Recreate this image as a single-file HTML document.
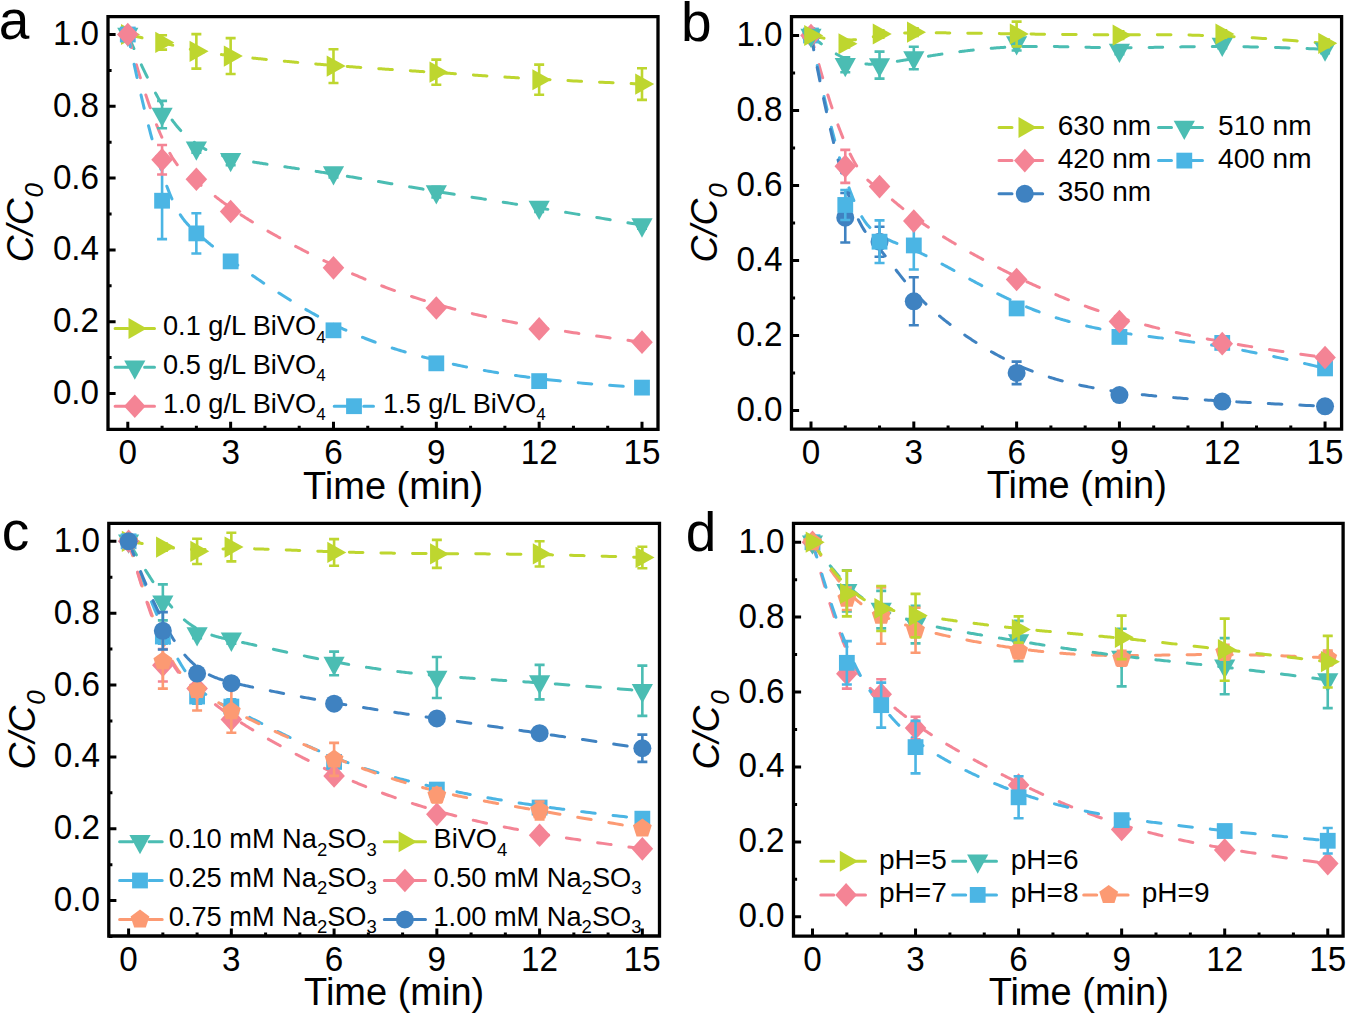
<!DOCTYPE html>
<html><head><meta charset="utf-8"><style>html,body{margin:0;padding:0;background:#fff;width:1347px;height:1014px;overflow:hidden}svg{display:block}</style></head>
<body><svg width="1347" height="1014" viewBox="0 0 1347 1014" font-family="&quot;Liberation Sans&quot;, sans-serif" fill="#000">
<rect width="1347" height="1014" fill="#fff"/>
<path d="M127.8,34.5 L129.08,34.8 L130.35,35.09 L131.59,35.38 L132.83,35.66 L134.05,35.94 L135.25,36.22 L136.44,36.5 L137.61,36.77 L138.76,37.04 L139.91,37.31 L141.04,37.58 L142.15,37.84 L143.25,38.1 L144.34,38.35 L145.41,38.61 L146.47,38.86 L147.51,39.1 L148.54,39.35 L149.56,39.59 L150.57,39.83 L151.56,40.06 L152.54,40.3 L153.51,40.53 L154.47,40.75 L155.41,40.98 L156.34,41.2 L157.26,41.42 L158.17,41.64 L159.07,41.85 L159.95,42.06 L160.83,42.27 L161.69,42.48 L162.54,42.69 L163.39,42.89 L164.22,43.09 L165.04,43.29 L165.85,43.48 L166.65,43.67 L167.45,43.86 L168.23,44.05 L169,44.24 L169.76,44.42 L170.52,44.6 L171.27,44.78 L172,44.96 L172.73,45.13 L173.45,45.3 L174.16,45.47 L174.87,45.64 L175.56,45.81 L176.25,45.97 L176.93,46.13 L177.6,46.29 L178.27,46.45 L178.93,46.61 L179.58,46.76 L180.23,46.91 L180.87,47.06 L181.5,47.21 L182.13,47.36 L182.75,47.5 L183.36,47.64 L183.97,47.79 L184.57,47.92 L185.17,48.06 L185.76,48.2 L186.35,48.33 L186.93,48.46 L187.51,48.59 L188.09,48.72 L188.65,48.85 L189.22,48.98 L189.78,49.1 L190.34,49.22 L190.89,49.35 L191.44,49.47 L191.99,49.58 L192.53,49.7 L193.07,49.82 L193.61,49.93 L194.15,50.04 L194.68,50.15 L195.21,50.26 L195.74,50.37 L196.26,50.48 L196.79,50.59 L197.31,50.69 L197.83,50.79 L198.35,50.9 L198.87,51 L199.39,51.1 L199.91,51.2 L200.42,51.3 L200.94,51.39 L201.45,51.49 L201.97,51.59 L202.48,51.68 L203,51.77 L203.52,51.87 L204.03,51.96 L204.55,52.05 L205.07,52.14 L205.59,52.23 L206.11,52.32 L206.63,52.41 L207.15,52.49 L207.68,52.58 L208.21,52.67 L208.74,52.75 L209.27,52.84 L209.8,52.92 L210.34,53 L210.88,53.09 L211.42,53.17 L211.96,53.25 L212.51,53.33 L213.06,53.42 L213.62,53.5 L214.18,53.58 L214.74,53.66 L215.31,53.74 L215.88,53.82 L216.45,53.9 L217.04,53.98 L217.62,54.06 L218.21,54.14 L218.81,54.22 L219.41,54.3 L220.01,54.38 L220.62,54.46 L221.24,54.54 L221.86,54.62 L222.49,54.7 L223.13,54.78 L223.77,54.86 L224.42,54.94 L225.07,55.02 L225.74,55.1 L226.41,55.18 L227.08,55.26 L227.77,55.34 L228.46,55.42 L229.16,55.5 L229.87,55.58 L230.58,55.67 L231.31,55.75 L232.04,55.83 L232.78,55.92 L233.53,56 L234.29,56.09 L235.06,56.17 L235.84,56.26 L236.62,56.35 L237.42,56.43 L238.23,56.52 L239.04,56.61 L239.87,56.7 L240.71,56.79 L241.55,56.88 L242.41,56.97 L243.28,57.07 L244.16,57.16 L245.05,57.26 L245.95,57.35 L246.86,57.45 L247.78,57.54 L248.71,57.64 L249.65,57.74 L250.6,57.84 L251.56,57.94 L252.53,58.04 L253.5,58.14 L254.49,58.24 L255.49,58.34 L256.49,58.45 L257.51,58.55 L258.53,58.65 L259.56,58.76 L260.6,58.86 L261.64,58.97 L262.7,59.07 L263.76,59.18 L264.83,59.29 L265.91,59.4 L266.99,59.5 L268.09,59.61 L269.19,59.72 L270.29,59.83 L271.41,59.94 L272.53,60.05 L273.66,60.16 L274.79,60.27 L275.93,60.38 L277.08,60.49 L278.23,60.6 L279.39,60.71 L280.55,60.82 L281.72,60.93 L282.9,61.04 L284.08,61.15 L285.27,61.26 L286.46,61.37 L287.65,61.49 L288.86,61.6 L290.06,61.71 L291.27,61.82 L292.49,61.93 L293.71,62.04 L294.93,62.16 L296.16,62.27 L297.4,62.38 L298.63,62.49 L299.87,62.6 L301.11,62.71 L302.36,62.82 L303.61,62.93 L304.87,63.05 L306.12,63.16 L307.38,63.27 L308.64,63.38 L309.91,63.49 L311.17,63.59 L312.44,63.7 L313.72,63.81 L314.99,63.92 L316.27,64.03 L317.54,64.14 L318.82,64.24 L320.1,64.35 L321.38,64.46 L322.67,64.56 L323.95,64.67 L325.24,64.77 L326.52,64.88 L327.81,64.98 L329.1,65.09 L330.39,65.19 L331.68,65.29 L332.96,65.39 L334.25,65.49 L335.54,65.6 L336.83,65.69 L338.12,65.79 L339.41,65.89 L340.7,65.99 L341.99,66.09 L343.28,66.19 L344.57,66.28 L345.87,66.38 L347.16,66.48 L348.46,66.57 L349.75,66.67 L351.05,66.76 L352.35,66.85 L353.65,66.95 L354.95,67.04 L356.25,67.14 L357.56,67.23 L358.87,67.32 L360.18,67.41 L361.49,67.51 L362.8,67.6 L364.12,67.69 L365.43,67.78 L366.75,67.87 L368.08,67.96 L369.4,68.05 L370.73,68.15 L372.06,68.24 L373.4,68.33 L374.74,68.42 L376.08,68.51 L377.42,68.6 L378.77,68.69 L380.12,68.78 L381.47,68.87 L382.83,68.96 L384.19,69.05 L385.56,69.14 L386.93,69.23 L388.3,69.32 L389.68,69.42 L391.07,69.51 L392.45,69.6 L393.84,69.69 L395.24,69.78 L396.64,69.87 L398.05,69.97 L399.46,70.06 L400.87,70.15 L402.3,70.24 L403.72,70.34 L405.15,70.43 L406.59,70.52 L408.03,70.62 L409.48,70.71 L410.93,70.81 L412.39,70.9 L413.86,71 L415.33,71.1 L416.81,71.19 L418.29,71.29 L419.78,71.39 L421.28,71.49 L422.78,71.59 L424.29,71.69 L425.81,71.79 L427.33,71.89 L428.86,71.99 L430.4,72.09 L431.94,72.19 L433.49,72.3 L435.05,72.4 L436.62,72.51 L438.19,72.61 L439.78,72.72 L441.37,72.82 L442.96,72.93 L444.57,73.04 L446.18,73.15 L447.8,73.26 L449.43,73.37 L451.07,73.48 L452.72,73.6 L454.39,73.71 L456.06,73.82 L457.74,73.94 L459.44,74.05 L461.14,74.17 L462.86,74.29 L464.6,74.41 L466.35,74.52 L468.11,74.64 L469.89,74.76 L471.68,74.89 L473.49,75.01 L475.32,75.13 L477.16,75.25 L479.02,75.38 L480.9,75.5 L482.8,75.63 L484.72,75.75 L486.65,75.88 L488.61,76.01 L490.59,76.14 L492.59,76.27 L494.6,76.4 L496.65,76.53 L498.71,76.66 L500.8,76.79 L502.91,76.92 L505.05,77.06 L507.21,77.19 L509.39,77.33 L511.6,77.46 L513.84,77.6 L516.11,77.74 L518.4,77.87 L520.72,78.01 L523.06,78.15 L525.44,78.29 L527.84,78.43 L530.28,78.57 L532.74,78.71 L535.24,78.85 L537.77,79 L540.33,79.14 L542.92,79.28 L545.54,79.43 L548.2,79.57 L550.89,79.72 L553.61,79.87 L556.37,80.01 L559.17,80.16 L562,80.31 L564.87,80.46 L567.77,80.61 L570.71,80.76 L573.69,80.91 L576.71,81.06 L579.77,81.21 L582.86,81.37 L586,81.52 L589.17,81.67 L592.39,81.83 L595.65,81.98 L598.95,82.14 L602.29,82.29 L605.68,82.45 L609.11,82.61 L612.58,82.76 L616.09,82.92 L619.66,83.08 L623.26,83.24 L626.92,83.4 L630.62,83.56 L634.36,83.72 L638.16,83.88 L642,84.04" fill="none" stroke="#BED62F" stroke-width="3" stroke-dasharray="13.6 18" stroke-linecap="round" stroke-dashoffset="-1.0"/>
<path d="M127.8,34.5 L129.08,37.48 L130.35,40.4 L131.59,43.26 L132.83,46.07 L134.05,48.82 L135.25,51.51 L136.44,54.15 L137.61,56.73 L138.76,59.26 L139.91,61.73 L141.04,64.15 L142.15,66.52 L143.25,68.84 L144.34,71.11 L145.41,73.32 L146.47,75.49 L147.51,77.61 L148.54,79.68 L149.56,81.7 L150.57,83.68 L151.56,85.61 L152.54,87.49 L153.51,89.33 L154.47,91.13 L155.41,92.88 L156.34,94.59 L157.26,96.26 L158.17,97.88 L159.07,99.47 L159.95,101.01 L160.83,102.52 L161.69,103.98 L162.54,105.41 L163.39,106.8 L164.22,108.16 L165.04,109.47 L165.85,110.76 L166.65,112 L167.45,113.22 L168.23,114.4 L169,115.54 L169.76,116.66 L170.52,117.74 L171.27,118.8 L172,119.82 L172.73,120.81 L173.45,121.78 L174.16,122.71 L174.87,123.62 L175.56,124.51 L176.25,125.36 L176.93,126.19 L177.6,127 L178.27,127.78 L178.93,128.54 L179.58,129.28 L180.23,129.99 L180.87,130.68 L181.5,131.35 L182.13,132.01 L182.75,132.64 L183.36,133.25 L183.97,133.85 L184.57,134.43 L185.17,134.99 L185.76,135.53 L186.35,136.06 L186.93,136.58 L187.51,137.08 L188.09,137.57 L188.65,138.04 L189.22,138.51 L189.78,138.96 L190.34,139.4 L190.89,139.83 L191.44,140.25 L191.99,140.67 L192.53,141.07 L193.07,141.47 L193.61,141.86 L194.15,142.24 L194.68,142.62 L195.21,143 L195.74,143.36 L196.26,143.72 L196.79,144.08 L197.31,144.43 L197.83,144.77 L198.35,145.11 L198.87,145.44 L199.39,145.77 L199.91,146.1 L200.42,146.41 L200.94,146.73 L201.45,147.03 L201.97,147.34 L202.48,147.63 L203,147.93 L203.52,148.22 L204.03,148.5 L204.55,148.78 L205.07,149.05 L205.59,149.32 L206.11,149.59 L206.63,149.85 L207.15,150.11 L207.68,150.36 L208.21,150.61 L208.74,150.86 L209.27,151.1 L209.8,151.34 L210.34,151.57 L210.88,151.81 L211.42,152.03 L211.96,152.26 L212.51,152.48 L213.06,152.7 L213.62,152.91 L214.18,153.12 L214.74,153.33 L215.31,153.54 L215.88,153.74 L216.45,153.94 L217.04,154.14 L217.62,154.33 L218.21,154.53 L218.81,154.72 L219.41,154.9 L220.01,155.09 L220.62,155.27 L221.24,155.45 L221.86,155.63 L222.49,155.81 L223.13,155.98 L223.77,156.16 L224.42,156.33 L225.07,156.5 L225.74,156.67 L226.41,156.84 L227.08,157 L227.77,157.17 L228.46,157.33 L229.16,157.49 L229.87,157.65 L230.58,157.81 L231.31,157.97 L232.04,158.13 L232.78,158.29 L233.53,158.44 L234.29,158.6 L235.06,158.76 L235.84,158.91 L236.62,159.07 L237.42,159.22 L238.23,159.38 L239.04,159.53 L239.87,159.69 L240.71,159.84 L241.55,160 L242.41,160.15 L243.28,160.31 L244.16,160.46 L245.05,160.62 L245.95,160.78 L246.86,160.93 L247.78,161.09 L248.71,161.25 L249.65,161.4 L250.6,161.56 L251.56,161.72 L252.53,161.88 L253.5,162.04 L254.49,162.2 L255.49,162.36 L256.49,162.52 L257.51,162.68 L258.53,162.84 L259.56,163 L260.6,163.16 L261.64,163.33 L262.7,163.49 L263.76,163.65 L264.83,163.82 L265.91,163.98 L266.99,164.14 L268.09,164.31 L269.19,164.48 L270.29,164.64 L271.41,164.81 L272.53,164.98 L273.66,165.14 L274.79,165.31 L275.93,165.48 L277.08,165.65 L278.23,165.82 L279.39,165.99 L280.55,166.16 L281.72,166.33 L282.9,166.5 L284.08,166.68 L285.27,166.85 L286.46,167.02 L287.65,167.2 L288.86,167.37 L290.06,167.55 L291.27,167.72 L292.49,167.9 L293.71,168.08 L294.93,168.26 L296.16,168.44 L297.4,168.62 L298.63,168.8 L299.87,168.98 L301.11,169.16 L302.36,169.34 L303.61,169.52 L304.87,169.71 L306.12,169.89 L307.38,170.08 L308.64,170.26 L309.91,170.45 L311.17,170.64 L312.44,170.83 L313.72,171.02 L314.99,171.21 L316.27,171.4 L317.54,171.59 L318.82,171.78 L320.1,171.97 L321.38,172.17 L322.67,172.36 L323.95,172.56 L325.24,172.75 L326.52,172.95 L327.81,173.15 L329.1,173.35 L330.39,173.55 L331.68,173.75 L332.96,173.95 L334.25,174.15 L335.54,174.36 L336.83,174.56 L338.12,174.77 L339.41,174.97 L340.7,175.18 L341.99,175.39 L343.28,175.6 L344.57,175.81 L345.87,176.02 L347.16,176.23 L348.46,176.44 L349.75,176.65 L351.05,176.87 L352.35,177.08 L353.65,177.3 L354.95,177.51 L356.25,177.73 L357.56,177.95 L358.87,178.17 L360.18,178.39 L361.49,178.61 L362.8,178.83 L364.12,179.05 L365.43,179.28 L366.75,179.5 L368.08,179.73 L369.4,179.95 L370.73,180.18 L372.06,180.41 L373.4,180.63 L374.74,180.86 L376.08,181.09 L377.42,181.32 L378.77,181.55 L380.12,181.79 L381.47,182.02 L382.83,182.25 L384.19,182.49 L385.56,182.72 L386.93,182.96 L388.3,183.2 L389.68,183.43 L391.07,183.67 L392.45,183.91 L393.84,184.15 L395.24,184.39 L396.64,184.63 L398.05,184.87 L399.46,185.12 L400.87,185.36 L402.3,185.61 L403.72,185.85 L405.15,186.1 L406.59,186.34 L408.03,186.59 L409.48,186.84 L410.93,187.09 L412.39,187.34 L413.86,187.59 L415.33,187.84 L416.81,188.09 L418.29,188.34 L419.78,188.59 L421.28,188.85 L422.78,189.1 L424.29,189.36 L425.81,189.61 L427.33,189.87 L428.86,190.13 L430.4,190.39 L431.94,190.64 L433.49,190.9 L435.05,191.16 L436.62,191.42 L438.19,191.68 L439.78,191.95 L441.37,192.21 L442.96,192.47 L444.57,192.74 L446.18,193 L447.8,193.27 L449.43,193.53 L451.07,193.8 L452.72,194.07 L454.39,194.34 L456.06,194.61 L457.74,194.88 L459.44,195.15 L461.14,195.43 L462.86,195.7 L464.6,195.98 L466.35,196.26 L468.11,196.55 L469.89,196.83 L471.68,197.12 L473.49,197.41 L475.32,197.7 L477.16,197.99 L479.02,198.29 L480.9,198.59 L482.8,198.89 L484.72,199.2 L486.65,199.51 L488.61,199.82 L490.59,200.13 L492.59,200.45 L494.6,200.78 L496.65,201.1 L498.71,201.43 L500.8,201.77 L502.91,202.1 L505.05,202.44 L507.21,202.79 L509.39,203.14 L511.6,203.5 L513.84,203.86 L516.11,204.22 L518.4,204.59 L520.72,204.96 L523.06,205.34 L525.44,205.72 L527.84,206.11 L530.28,206.51 L532.74,206.91 L535.24,207.31 L537.77,207.72 L540.33,208.14 L542.92,208.56 L545.54,208.99 L548.2,209.42 L550.89,209.86 L553.61,210.31 L556.37,210.76 L559.17,211.22 L562,211.69 L564.87,212.16 L567.77,212.64 L570.71,213.13 L573.69,213.62 L576.71,214.12 L579.77,214.63 L582.86,215.14 L586,215.66 L589.17,216.19 L592.39,216.73 L595.65,217.28 L598.95,217.83 L602.29,218.39 L605.68,218.96 L609.11,219.54 L612.58,220.13 L616.09,220.72 L619.66,221.32 L623.26,221.94 L626.92,222.56 L630.62,223.19 L634.36,223.82 L638.16,224.47 L642,225.13" fill="none" stroke="#4BBDB3" stroke-width="3" stroke-dasharray="13.6 18" stroke-linecap="round" stroke-dashoffset="-1.7"/>
<path d="M127.8,34.5 L129.08,39.16 L130.35,43.7 L131.59,48.15 L132.83,52.48 L134.05,56.72 L135.25,60.85 L136.44,64.88 L137.61,68.81 L138.76,72.65 L139.91,76.38 L141.04,80.03 L142.15,83.58 L143.25,87.03 L144.34,90.4 L145.41,93.67 L146.47,96.86 L147.51,99.96 L148.54,102.97 L149.56,105.9 L150.57,108.75 L151.56,111.51 L152.54,114.2 L153.51,116.81 L154.47,119.34 L155.41,121.79 L156.34,124.17 L157.26,126.47 L158.17,128.71 L159.07,130.87 L159.95,132.96 L160.83,134.99 L161.69,136.95 L162.54,138.84 L163.39,140.67 L164.22,142.44 L165.04,144.15 L165.85,145.8 L166.65,147.39 L167.45,148.92 L168.23,150.4 L169,151.82 L169.76,153.2 L170.52,154.51 L171.27,155.78 L172,157.01 L172.73,158.18 L173.45,159.31 L174.16,160.39 L174.87,161.43 L175.56,162.43 L176.25,163.39 L176.93,164.31 L177.6,165.19 L178.27,166.04 L178.93,166.85 L179.58,167.62 L180.23,168.37 L180.87,169.08 L181.5,169.77 L182.13,170.43 L182.75,171.06 L183.36,171.66 L183.97,172.24 L184.57,172.8 L185.17,173.34 L185.76,173.86 L186.35,174.35 L186.93,174.84 L187.51,175.3 L188.09,175.76 L188.65,176.19 L189.22,176.62 L189.78,177.04 L190.34,177.45 L190.89,177.85 L191.44,178.24 L191.99,178.64 L192.53,179.02 L193.07,179.41 L193.61,179.79 L194.15,180.18 L194.68,180.56 L195.21,180.95 L195.74,181.34 L196.26,181.72 L196.79,182.11 L197.31,182.5 L197.83,182.89 L198.35,183.28 L198.87,183.67 L199.39,184.06 L199.91,184.46 L200.42,184.85 L200.94,185.25 L201.45,185.64 L201.97,186.04 L202.48,186.44 L203,186.84 L203.52,187.24 L204.03,187.65 L204.55,188.05 L205.07,188.45 L205.59,188.86 L206.11,189.27 L206.63,189.68 L207.15,190.09 L207.68,190.5 L208.21,190.92 L208.74,191.33 L209.27,191.75 L209.8,192.17 L210.34,192.59 L210.88,193.02 L211.42,193.44 L211.96,193.87 L212.51,194.3 L213.06,194.73 L213.62,195.16 L214.18,195.59 L214.74,196.03 L215.31,196.47 L215.88,196.91 L216.45,197.36 L217.04,197.8 L217.62,198.25 L218.21,198.7 L218.81,199.15 L219.41,199.61 L220.01,200.07 L220.62,200.53 L221.24,200.99 L221.86,201.46 L222.49,201.92 L223.13,202.4 L223.77,202.87 L224.42,203.35 L225.07,203.83 L225.74,204.31 L226.41,204.79 L227.08,205.28 L227.77,205.77 L228.46,206.27 L229.16,206.76 L229.87,207.26 L230.58,207.77 L231.31,208.27 L232.04,208.78 L232.78,209.29 L233.53,209.81 L234.29,210.33 L235.06,210.85 L235.84,211.38 L236.62,211.91 L237.42,212.44 L238.23,212.98 L239.04,213.52 L239.87,214.06 L240.71,214.61 L241.55,215.16 L242.41,215.72 L243.28,216.28 L244.16,216.84 L245.05,217.41 L245.95,217.98 L246.86,218.55 L247.78,219.13 L248.71,219.71 L249.65,220.29 L250.6,220.87 L251.56,221.46 L252.53,222.06 L253.5,222.65 L254.49,223.25 L255.49,223.85 L256.49,224.45 L257.51,225.06 L258.53,225.67 L259.56,226.28 L260.6,226.89 L261.64,227.5 L262.7,228.12 L263.76,228.74 L264.83,229.36 L265.91,229.99 L266.99,230.61 L268.09,231.24 L269.19,231.87 L270.29,232.5 L271.41,233.13 L272.53,233.76 L273.66,234.4 L274.79,235.03 L275.93,235.67 L277.08,236.31 L278.23,236.95 L279.39,237.59 L280.55,238.23 L281.72,238.87 L282.9,239.51 L284.08,240.15 L285.27,240.8 L286.46,241.44 L287.65,242.09 L288.86,242.73 L290.06,243.38 L291.27,244.02 L292.49,244.67 L293.71,245.32 L294.93,245.96 L296.16,246.61 L297.4,247.25 L298.63,247.9 L299.87,248.54 L301.11,249.19 L302.36,249.83 L303.61,250.47 L304.87,251.12 L306.12,251.76 L307.38,252.4 L308.64,253.04 L309.91,253.68 L311.17,254.31 L312.44,254.95 L313.72,255.59 L314.99,256.22 L316.27,256.85 L317.54,257.48 L318.82,258.11 L320.1,258.74 L321.38,259.37 L322.67,259.99 L323.95,260.62 L325.24,261.24 L326.52,261.86 L327.81,262.47 L329.1,263.09 L330.39,263.7 L331.68,264.31 L332.96,264.92 L334.25,265.52 L335.54,266.12 L336.83,266.72 L338.12,267.32 L339.41,267.91 L340.7,268.51 L341.99,269.1 L343.28,269.68 L344.57,270.27 L345.87,270.85 L347.16,271.43 L348.46,272.01 L349.75,272.58 L351.05,273.16 L352.35,273.73 L353.65,274.3 L354.95,274.86 L356.25,275.43 L357.56,275.99 L358.87,276.55 L360.18,277.1 L361.49,277.66 L362.8,278.21 L364.12,278.76 L365.43,279.31 L366.75,279.86 L368.08,280.4 L369.4,280.94 L370.73,281.48 L372.06,282.02 L373.4,282.55 L374.74,283.09 L376.08,283.62 L377.42,284.15 L378.77,284.67 L380.12,285.2 L381.47,285.72 L382.83,286.24 L384.19,286.76 L385.56,287.28 L386.93,287.79 L388.3,288.3 L389.68,288.81 L391.07,289.32 L392.45,289.83 L393.84,290.33 L395.24,290.84 L396.64,291.34 L398.05,291.84 L399.46,292.34 L400.87,292.83 L402.3,293.33 L403.72,293.82 L405.15,294.31 L406.59,294.8 L408.03,295.28 L409.48,295.77 L410.93,296.25 L412.39,296.73 L413.86,297.21 L415.33,297.69 L416.81,298.17 L418.29,298.64 L419.78,299.12 L421.28,299.59 L422.78,300.06 L424.29,300.53 L425.81,300.99 L427.33,301.46 L428.86,301.92 L430.4,302.38 L431.94,302.84 L433.49,303.3 L435.05,303.76 L436.62,304.22 L438.19,304.67 L439.78,305.12 L441.37,305.57 L442.96,306.02 L444.57,306.47 L446.18,306.92 L447.8,307.37 L449.43,307.81 L451.07,308.25 L452.72,308.7 L454.39,309.14 L456.06,309.58 L457.74,310.01 L459.44,310.45 L461.14,310.89 L462.86,311.33 L464.6,311.76 L466.35,312.19 L468.11,312.63 L469.89,313.06 L471.68,313.49 L473.49,313.92 L475.32,314.36 L477.16,314.79 L479.02,315.22 L480.9,315.65 L482.8,316.07 L484.72,316.5 L486.65,316.93 L488.61,317.36 L490.59,317.79 L492.59,318.22 L494.6,318.65 L496.65,319.07 L498.71,319.5 L500.8,319.93 L502.91,320.36 L505.05,320.79 L507.21,321.22 L509.39,321.65 L511.6,322.08 L513.84,322.51 L516.11,322.94 L518.4,323.37 L520.72,323.8 L523.06,324.24 L525.44,324.67 L527.84,325.1 L530.28,325.54 L532.74,325.97 L535.24,326.41 L537.77,326.85 L540.33,327.29 L542.92,327.73 L545.54,328.17 L548.2,328.61 L550.89,329.05 L553.61,329.5 L556.37,329.94 L559.17,330.39 L562,330.84 L564.87,331.29 L567.77,331.74 L570.71,332.19 L573.69,332.65 L576.71,333.1 L579.77,333.56 L582.86,334.02 L586,334.48 L589.17,334.95 L592.39,335.41 L595.65,335.88 L598.95,336.35 L602.29,336.82 L605.68,337.3 L609.11,337.77 L612.58,338.25 L616.09,338.73 L619.66,339.21 L623.26,339.7 L626.92,340.19 L630.62,340.68 L634.36,341.17 L638.16,341.66 L642,342.16" fill="none" stroke="#F48495" stroke-width="3" stroke-dasharray="13.6 18" stroke-linecap="round" stroke-dashoffset="0.1"/>
<path d="M127.8,34.5 L129.08,40.68 L130.35,46.72 L131.59,52.62 L132.83,58.38 L134.05,64.01 L135.25,69.51 L136.44,74.88 L137.61,80.12 L138.76,85.23 L139.91,90.21 L141.04,95.08 L142.15,99.82 L143.25,104.43 L144.34,108.93 L145.41,113.32 L146.47,117.58 L147.51,121.74 L148.54,125.78 L149.56,129.71 L150.57,133.54 L151.56,137.25 L152.54,140.86 L153.51,144.37 L154.47,147.78 L155.41,151.09 L156.34,154.3 L157.26,157.41 L158.17,160.43 L159.07,163.36 L159.95,166.19 L160.83,168.94 L161.69,171.59 L162.54,174.17 L163.39,176.65 L164.22,179.06 L165.04,181.38 L165.85,183.63 L166.65,185.8 L167.45,187.89 L168.23,189.91 L169,191.86 L169.76,193.73 L170.52,195.54 L171.27,197.28 L172,198.96 L172.73,200.57 L173.45,202.12 L174.16,203.61 L174.87,205.04 L175.56,206.42 L176.25,207.74 L176.93,209.01 L177.6,210.23 L178.27,211.39 L178.93,212.51 L179.58,213.59 L180.23,214.61 L180.87,215.6 L181.5,216.54 L182.13,217.45 L182.75,218.32 L183.36,219.15 L183.97,219.95 L184.57,220.71 L185.17,221.45 L185.76,222.16 L186.35,222.84 L186.93,223.49 L187.51,224.12 L188.09,224.73 L188.65,225.32 L189.22,225.89 L189.78,226.44 L190.34,226.98 L190.89,227.5 L191.44,228.01 L191.99,228.52 L192.53,229.01 L193.07,229.5 L193.61,229.98 L194.15,230.46 L194.68,230.94 L195.21,231.41 L195.74,231.88 L196.26,232.35 L196.79,232.82 L197.31,233.28 L197.83,233.74 L198.35,234.2 L198.87,234.66 L199.39,235.11 L199.91,235.56 L200.42,236.01 L200.94,236.46 L201.45,236.91 L201.97,237.36 L202.48,237.8 L203,238.24 L203.52,238.69 L204.03,239.13 L204.55,239.57 L205.07,240.01 L205.59,240.45 L206.11,240.88 L206.63,241.32 L207.15,241.76 L207.68,242.2 L208.21,242.64 L208.74,243.07 L209.27,243.51 L209.8,243.95 L210.34,244.39 L210.88,244.83 L211.42,245.27 L211.96,245.71 L212.51,246.15 L213.06,246.6 L213.62,247.04 L214.18,247.49 L214.74,247.94 L215.31,248.39 L215.88,248.84 L216.45,249.29 L217.04,249.74 L217.62,250.2 L218.21,250.66 L218.81,251.12 L219.41,251.59 L220.01,252.05 L220.62,252.52 L221.24,252.99 L221.86,253.47 L222.49,253.95 L223.13,254.43 L223.77,254.91 L224.42,255.4 L225.07,255.89 L225.74,256.39 L226.41,256.88 L227.08,257.39 L227.77,257.89 L228.46,258.4 L229.16,258.92 L229.87,259.44 L230.58,259.96 L231.31,260.49 L232.04,261.03 L232.78,261.56 L233.53,262.11 L234.29,262.66 L235.06,263.21 L235.84,263.77 L236.62,264.33 L237.42,264.91 L238.23,265.48 L239.04,266.06 L239.87,266.65 L240.71,267.25 L241.55,267.85 L242.41,268.45 L243.28,269.07 L244.16,269.68 L245.05,270.31 L245.95,270.94 L246.86,271.58 L247.78,272.22 L248.71,272.87 L249.65,273.52 L250.6,274.18 L251.56,274.84 L252.53,275.51 L253.5,276.19 L254.49,276.86 L255.49,277.55 L256.49,278.23 L257.51,278.92 L258.53,279.62 L259.56,280.31 L260.6,281.02 L261.64,281.72 L262.7,282.43 L263.76,283.14 L264.83,283.86 L265.91,284.57 L266.99,285.3 L268.09,286.02 L269.19,286.74 L270.29,287.47 L271.41,288.2 L272.53,288.93 L273.66,289.67 L274.79,290.4 L275.93,291.14 L277.08,291.88 L278.23,292.62 L279.39,293.36 L280.55,294.1 L281.72,294.84 L282.9,295.59 L284.08,296.33 L285.27,297.07 L286.46,297.82 L287.65,298.56 L288.86,299.3 L290.06,300.05 L291.27,300.79 L292.49,301.53 L293.71,302.27 L294.93,303.02 L296.16,303.76 L297.4,304.49 L298.63,305.23 L299.87,305.97 L301.11,306.7 L302.36,307.43 L303.61,308.16 L304.87,308.89 L306.12,309.62 L307.38,310.34 L308.64,311.06 L309.91,311.78 L311.17,312.5 L312.44,313.21 L313.72,313.92 L314.99,314.62 L316.27,315.33 L317.54,316.03 L318.82,316.72 L320.1,317.41 L321.38,318.1 L322.67,318.78 L323.95,319.46 L325.24,320.14 L326.52,320.8 L327.81,321.47 L329.1,322.13 L330.39,322.78 L331.68,323.43 L332.96,324.08 L334.25,324.71 L335.54,325.35 L336.83,325.97 L338.12,326.6 L339.41,327.21 L340.7,327.82 L341.99,328.43 L343.28,329.03 L344.57,329.62 L345.87,330.21 L347.16,330.8 L348.46,331.38 L349.75,331.95 L351.05,332.52 L352.35,333.09 L353.65,333.65 L354.95,334.2 L356.25,334.76 L357.56,335.3 L358.87,335.84 L360.18,336.38 L361.49,336.91 L362.8,337.44 L364.12,337.97 L365.43,338.49 L366.75,339 L368.08,339.51 L369.4,340.02 L370.73,340.52 L372.06,341.02 L373.4,341.52 L374.74,342.01 L376.08,342.5 L377.42,342.98 L378.77,343.46 L380.12,343.94 L381.47,344.41 L382.83,344.88 L384.19,345.35 L385.56,345.81 L386.93,346.27 L388.3,346.73 L389.68,347.18 L391.07,347.63 L392.45,348.08 L393.84,348.52 L395.24,348.96 L396.64,349.4 L398.05,349.83 L399.46,350.27 L400.87,350.69 L402.3,351.12 L403.72,351.55 L405.15,351.97 L406.59,352.39 L408.03,352.8 L409.48,353.22 L410.93,353.63 L412.39,354.04 L413.86,354.44 L415.33,354.85 L416.81,355.25 L418.29,355.65 L419.78,356.05 L421.28,356.45 L422.78,356.84 L424.29,357.24 L425.81,357.63 L427.33,358.02 L428.86,358.41 L430.4,358.79 L431.94,359.18 L433.49,359.56 L435.05,359.94 L436.62,360.32 L438.19,360.7 L439.78,361.08 L441.37,361.46 L442.96,361.83 L444.57,362.21 L446.18,362.58 L447.8,362.95 L449.43,363.33 L451.07,363.7 L452.72,364.07 L454.39,364.43 L456.06,364.8 L457.74,365.17 L459.44,365.53 L461.14,365.9 L462.86,366.26 L464.6,366.62 L466.35,366.98 L468.11,367.34 L469.89,367.7 L471.68,368.06 L473.49,368.41 L475.32,368.77 L477.16,369.12 L479.02,369.47 L480.9,369.82 L482.8,370.17 L484.72,370.52 L486.65,370.86 L488.61,371.21 L490.59,371.55 L492.59,371.89 L494.6,372.24 L496.65,372.57 L498.71,372.91 L500.8,373.25 L502.91,373.58 L505.05,373.92 L507.21,374.25 L509.39,374.58 L511.6,374.91 L513.84,375.24 L516.11,375.56 L518.4,375.89 L520.72,376.21 L523.06,376.53 L525.44,376.85 L527.84,377.17 L530.28,377.48 L532.74,377.8 L535.24,378.11 L537.77,378.42 L540.33,378.73 L542.92,379.04 L545.54,379.34 L548.2,379.65 L550.89,379.95 L553.61,380.25 L556.37,380.55 L559.17,380.84 L562,381.14 L564.87,381.43 L567.77,381.72 L570.71,382.01 L573.69,382.3 L576.71,382.58 L579.77,382.87 L582.86,383.15 L586,383.43 L589.17,383.7 L592.39,383.98 L595.65,384.25 L598.95,384.52 L602.29,384.79 L605.68,385.06 L609.11,385.32 L612.58,385.59 L616.09,385.85 L619.66,386.11 L623.26,386.36 L626.92,386.62 L630.62,386.87 L634.36,387.12 L638.16,387.37 L642,387.61" fill="none" stroke="#4BB5E4" stroke-width="3" stroke-dasharray="13.6 18" stroke-linecap="round" stroke-dashoffset="1.2"/>
<polygon points="140,34.5 121,23.9 121,45.1" fill="#BED62F"/>
<path d="M162.08,35.22 V49.58 M157.08,35.22 H167.08 M157.08,49.58 H167.08" stroke="#BED62F" stroke-width="2.6" fill="none"/>
<polygon points="174.28,42.4 155.28,31.8 155.28,53" fill="#BED62F"/>
<path d="M196.36,34.14 V68.6 M191.36,34.14 H201.36 M191.36,68.6 H201.36" stroke="#BED62F" stroke-width="2.6" fill="none"/>
<polygon points="208.56,51.37 189.56,40.77 189.56,61.97" fill="#BED62F"/>
<path d="M230.64,38.09 V73.99 M225.64,38.09 H235.64 M225.64,73.99 H235.64" stroke="#BED62F" stroke-width="2.6" fill="none"/>
<polygon points="242.84,56.04 223.84,45.44 223.84,66.64" fill="#BED62F"/>
<path d="M333.48,49.22 V82.96 M328.48,49.22 H338.48 M328.48,82.96 H338.48" stroke="#BED62F" stroke-width="2.6" fill="none"/>
<polygon points="345.68,66.09 326.68,55.49 326.68,76.69" fill="#BED62F"/>
<path d="M436.32,59.63 V84.76 M431.32,59.63 H441.32 M431.32,84.76 H441.32" stroke="#BED62F" stroke-width="2.6" fill="none"/>
<polygon points="448.52,72.19 429.52,61.59 429.52,82.79" fill="#BED62F"/>
<path d="M539.16,64.66 V94.81 M534.16,64.66 H544.16 M534.16,94.81 H544.16" stroke="#BED62F" stroke-width="2.6" fill="none"/>
<polygon points="551.36,79.73 532.36,69.13 532.36,90.33" fill="#BED62F"/>
<path d="M642,68.25 V99.84 M637,68.25 H647 M637,99.84 H647" stroke="#BED62F" stroke-width="2.6" fill="none"/>
<polygon points="654.2,84.04 635.2,73.44 635.2,94.64" fill="#BED62F"/>
<polygon points="127.8,47 117.2,27.7 138.4,27.7" fill="#4BBDB3"/>
<path d="M162.08,100.92 V128.2 M157.08,100.92 H167.08 M157.08,128.2 H167.08" stroke="#4BBDB3" stroke-width="2.6" fill="none"/>
<polygon points="162.08,127.06 151.48,107.76 172.68,107.76" fill="#4BBDB3"/>
<path d="M196.36,143.99 V152.61 M191.36,143.99 H201.36 M191.36,152.61 H201.36" stroke="#4BBDB3" stroke-width="2.6" fill="none"/>
<polygon points="196.36,160.8 185.76,141.5 206.96,141.5" fill="#4BBDB3"/>
<path d="M230.64,154.41 V165.18 M225.64,154.41 H235.64 M225.64,165.18 H235.64" stroke="#4BBDB3" stroke-width="2.6" fill="none"/>
<polygon points="230.64,172.29 220.04,152.99 241.24,152.99" fill="#4BBDB3"/>
<path d="M333.48,168.77 V177.38 M328.48,168.77 H338.48 M328.48,177.38 H338.48" stroke="#4BBDB3" stroke-width="2.6" fill="none"/>
<polygon points="333.48,185.57 322.88,166.27 344.08,166.27" fill="#4BBDB3"/>
<path d="M436.32,186.72 V197.49 M431.32,186.72 H441.32 M431.32,197.49 H441.32" stroke="#4BBDB3" stroke-width="2.6" fill="none"/>
<polygon points="436.32,204.6 425.72,185.3 446.92,185.3" fill="#4BBDB3"/>
<path d="M539.16,203.23 V211.85 M534.16,203.23 H544.16 M534.16,211.85 H544.16" stroke="#4BBDB3" stroke-width="2.6" fill="none"/>
<polygon points="539.16,220.04 528.56,200.74 549.76,200.74" fill="#4BBDB3"/>
<path d="M642,221.54 V228.72 M637,221.54 H647 M637,228.72 H647" stroke="#4BBDB3" stroke-width="2.6" fill="none"/>
<polygon points="642,237.63 631.4,218.33 652.6,218.33" fill="#4BBDB3"/>
<rect x="119.9" y="26.6" width="15.8" height="15.8" fill="#4BB5E4"/>
<path d="M162.08,162.3 V239.13 M157.08,162.3 H167.08 M157.08,239.13 H167.08" stroke="#4BB5E4" stroke-width="2.6" fill="none"/>
<rect x="154.18" y="192.82" width="15.8" height="15.8" fill="#4BB5E4"/>
<path d="M196.36,213.28 V253.49 M191.36,213.28 H201.36 M191.36,253.49 H201.36" stroke="#4BB5E4" stroke-width="2.6" fill="none"/>
<rect x="188.46" y="225.49" width="15.8" height="15.8" fill="#4BB5E4"/>
<path d="M230.64,257.8 V264.98 M225.64,257.8 H235.64 M225.64,264.98 H235.64" stroke="#4BB5E4" stroke-width="2.6" fill="none"/>
<rect x="222.74" y="253.49" width="15.8" height="15.8" fill="#4BB5E4"/>
<path d="M333.48,326.73 V333.91 M328.48,326.73 H338.48 M328.48,333.91 H338.48" stroke="#4BB5E4" stroke-width="2.6" fill="none"/>
<rect x="325.58" y="322.42" width="15.8" height="15.8" fill="#4BB5E4"/>
<path d="M436.32,359.75 V366.93 M431.32,359.75 H441.32 M431.32,366.93 H441.32" stroke="#4BB5E4" stroke-width="2.6" fill="none"/>
<rect x="428.42" y="355.44" width="15.8" height="15.8" fill="#4BB5E4"/>
<path d="M539.16,377.52 V384.7 M534.16,377.52 H544.16 M534.16,384.7 H544.16" stroke="#4BB5E4" stroke-width="2.6" fill="none"/>
<rect x="531.26" y="373.21" width="15.8" height="15.8" fill="#4BB5E4"/>
<path d="M642,384.02 V391.2 M637,384.02 H647 M637,391.2 H647" stroke="#4BB5E4" stroke-width="2.6" fill="none"/>
<rect x="634.1" y="379.71" width="15.8" height="15.8" fill="#4BB5E4"/>
<polygon points="127.8,22.7 138.6,34.5 127.8,46.3 117,34.5" fill="#F48495"/>
<path d="M162.08,145.07 V174.51 M157.08,145.07 H167.08 M157.08,174.51 H167.08" stroke="#F48495" stroke-width="2.6" fill="none"/>
<polygon points="162.08,147.99 172.88,159.79 162.08,171.59 151.28,159.79" fill="#F48495"/>
<path d="M196.36,175.59 V182.77 M191.36,175.59 H201.36 M191.36,182.77 H201.36" stroke="#F48495" stroke-width="2.6" fill="none"/>
<polygon points="196.36,167.38 207.16,179.18 196.36,190.98 185.56,179.18" fill="#F48495"/>
<path d="M230.64,207.9 V215.08 M225.64,207.9 H235.64 M225.64,215.08 H235.64" stroke="#F48495" stroke-width="2.6" fill="none"/>
<polygon points="230.64,199.69 241.44,211.49 230.64,223.29 219.84,211.49" fill="#F48495"/>
<path d="M333.48,264.26 V271.44 M328.48,264.26 H338.48 M328.48,271.44 H338.48" stroke="#F48495" stroke-width="2.6" fill="none"/>
<polygon points="333.48,256.05 344.28,267.85 333.48,279.65 322.68,267.85" fill="#F48495"/>
<path d="M436.32,304.47 V311.65 M431.32,304.47 H441.32 M431.32,311.65 H441.32" stroke="#F48495" stroke-width="2.6" fill="none"/>
<polygon points="436.32,296.26 447.12,308.06 436.32,319.86 425.52,308.06" fill="#F48495"/>
<path d="M539.16,325.29 V332.47 M534.16,325.29 H544.16 M534.16,332.47 H544.16" stroke="#F48495" stroke-width="2.6" fill="none"/>
<polygon points="539.16,317.08 549.96,328.88 539.16,340.68 528.36,328.88" fill="#F48495"/>
<path d="M642,338.57 V345.75 M637,338.57 H647 M637,345.75 H647" stroke="#F48495" stroke-width="2.6" fill="none"/>
<polygon points="642,330.36 652.8,342.16 642,353.96 631.2,342.16" fill="#F48495"/>
<path d="M108,16.6 H658 V429.3 H108 Z" fill="none" stroke="#000" stroke-width="3.3" stroke-linejoin="miter"/>
<path d="M127.8,429.3 V421.7 M162.08,429.3 V425.7 M196.36,429.3 V425.7 M230.64,429.3 V421.7 M264.92,429.3 V425.7 M299.2,429.3 V425.7 M333.48,429.3 V421.7 M367.76,429.3 V425.7 M402.04,429.3 V425.7 M436.32,429.3 V421.7 M470.6,429.3 V425.7 M504.88,429.3 V425.7 M539.16,429.3 V421.7 M573.44,429.3 V425.7 M607.72,429.3 V425.7 M642,429.3 V421.7 M108,429.4 H111.6 M108,393.5 H115.6 M108,357.6 H111.6 M108,321.7 H115.6 M108,285.8 H111.6 M108,249.9 H115.6 M108,214 H111.6 M108,178.1 H115.6 M108,142.2 H111.6 M108,106.3 H115.6 M108,70.4 H111.6 M108,34.5 H115.6" stroke="#000" stroke-width="3" fill="none"/>
<text transform="translate(127.8,464.3) scale(0.95,1)" font-size="35" text-anchor="middle">0</text>
<text transform="translate(230.64,464.3) scale(0.95,1)" font-size="35" text-anchor="middle">3</text>
<text transform="translate(333.48,464.3) scale(0.95,1)" font-size="35" text-anchor="middle">6</text>
<text transform="translate(436.32,464.3) scale(0.95,1)" font-size="35" text-anchor="middle">9</text>
<text transform="translate(539.16,464.3) scale(0.95,1)" font-size="35" text-anchor="middle">12</text>
<text transform="translate(642,464.3) scale(0.95,1)" font-size="35" text-anchor="middle">15</text>
<text transform="translate(99.1,404) scale(0.95,1)" font-size="35" text-anchor="end">0.0</text>
<text transform="translate(99.1,332.2) scale(0.95,1)" font-size="35" text-anchor="end">0.2</text>
<text transform="translate(99.1,260.4) scale(0.95,1)" font-size="35" text-anchor="end">0.4</text>
<text transform="translate(99.1,188.6) scale(0.95,1)" font-size="35" text-anchor="end">0.6</text>
<text transform="translate(99.1,116.8) scale(0.95,1)" font-size="35" text-anchor="end">0.8</text>
<text transform="translate(99.1,45) scale(0.95,1)" font-size="35" text-anchor="end">1.0</text>
<text x="303" y="498.6" font-size="38">Time (min)</text>
<g transform="translate(33.3,262.2) rotate(-90)"><text x="0" y="0" font-size="37" font-style="italic">C/C<tspan font-size="26" dx="1" dy="10">0</tspan></text></g>
<text x="-1.2" y="39" font-size="55">a</text>
<path d="M115.1,328.4 H128.1 M144.6,328.4 H154.5" stroke="#BED62F" stroke-width="3" stroke-linecap="round"/>
<polygon points="146.8,328.4 128.5,317.9 128.5,338.9" fill="#BED62F"/>
<text x="163" y="335" font-size="27.2">0.1 g/L BiVO<tspan font-size="17" dy="7.5">4</tspan></text>
<path d="M115.1,367.2 H128.1 M144.6,367.2 H154.5" stroke="#4BBDB3" stroke-width="3" stroke-linecap="round"/>
<polygon points="134.8,379.7 124.2,360.4 145.4,360.4" fill="#4BBDB3"/>
<text x="163" y="373.8" font-size="27.2">0.5 g/L BiVO<tspan font-size="17" dy="7.5">4</tspan></text>
<path d="M115.1,406.2 H128.1 M144.6,406.2 H154.5" stroke="#F48495" stroke-width="3" stroke-linecap="round"/>
<polygon points="134.8,394.4 145.6,406.2 134.8,418 124,406.2" fill="#F48495"/>
<text x="163" y="412.8" font-size="27.2">1.0 g/L BiVO<tspan font-size="17" dy="7.5">4</tspan></text>
<path d="M334.2,406.2 H347.2 M363.7,406.2 H373.5" stroke="#4BB5E4" stroke-width="3" stroke-linecap="round"/>
<rect x="346.1" y="398.3" width="15.8" height="15.8" fill="#4BB5E4"/>
<text x="383" y="412.8" font-size="27.2">1.5 g/L BiVO<tspan font-size="17" dy="7.5">4</tspan></text>
<path d="M811,35.5 L812.28,35.8 L813.54,36.1 L814.79,36.38 L816.03,36.64 L817.24,36.9 L818.45,37.14 L819.63,37.38 L820.8,37.6 L821.96,37.81 L823.1,38.01 L824.23,38.2 L825.35,38.38 L826.45,38.55 L827.53,38.71 L828.6,38.86 L829.66,39 L830.71,39.13 L831.74,39.25 L832.76,39.37 L833.76,39.47 L834.76,39.56 L835.74,39.65 L836.7,39.73 L837.66,39.8 L838.6,39.86 L839.53,39.91 L840.45,39.96 L841.36,39.99 L842.26,40.02 L843.14,40.05 L844.02,40.07 L844.88,40.08 L845.73,40.08 L846.58,40.08 L847.41,40.07 L848.23,40.05 L849.04,40.03 L849.84,40 L850.63,39.97 L851.42,39.93 L852.19,39.89 L852.95,39.84 L853.71,39.79 L854.45,39.73 L855.19,39.67 L855.92,39.6 L856.64,39.53 L857.35,39.46 L858.05,39.38 L858.75,39.3 L859.44,39.21 L860.12,39.13 L860.79,39.04 L861.46,38.94 L862.12,38.85 L862.77,38.75 L863.41,38.65 L864.05,38.54 L864.68,38.44 L865.31,38.33 L865.93,38.22 L866.54,38.11 L867.15,38 L867.76,37.89 L868.35,37.78 L868.95,37.66 L869.53,37.55 L870.12,37.43 L870.69,37.32 L871.27,37.21 L871.84,37.09 L872.4,36.98 L872.96,36.86 L873.52,36.75 L874.07,36.64 L874.62,36.53 L875.17,36.42 L875.71,36.31 L876.25,36.21 L876.79,36.1 L877.33,36 L877.86,35.9 L878.39,35.8 L878.92,35.71 L879.44,35.61 L879.97,35.52 L880.49,35.43 L881.01,35.34 L881.53,35.26 L882.05,35.17 L882.57,35.09 L883.08,35.01 L883.6,34.93 L884.12,34.85 L884.63,34.77 L885.15,34.7 L885.66,34.63 L886.18,34.56 L886.69,34.49 L887.21,34.42 L887.73,34.36 L888.25,34.29 L888.76,34.23 L889.29,34.17 L889.81,34.11 L890.33,34.05 L890.86,33.99 L891.38,33.94 L891.91,33.89 L892.44,33.83 L892.98,33.78 L893.51,33.74 L894.05,33.69 L894.59,33.64 L895.14,33.6 L895.69,33.55 L896.24,33.51 L896.79,33.47 L897.35,33.43 L897.92,33.4 L898.48,33.36 L899.05,33.32 L899.63,33.29 L900.21,33.26 L900.79,33.23 L901.38,33.19 L901.98,33.17 L902.58,33.14 L903.19,33.11 L903.8,33.09 L904.41,33.06 L905.04,33.04 L905.67,33.01 L906.3,32.99 L906.94,32.97 L907.59,32.95 L908.25,32.94 L908.91,32.92 L909.58,32.9 L910.25,32.89 L910.94,32.87 L911.63,32.86 L912.33,32.85 L913.04,32.83 L913.75,32.82 L914.48,32.81 L915.21,32.8 L915.95,32.79 L916.7,32.79 L917.46,32.78 L918.23,32.77 L919,32.77 L919.79,32.76 L920.59,32.76 L921.39,32.76 L922.21,32.75 L923.04,32.75 L923.87,32.75 L924.72,32.75 L925.58,32.75 L926.45,32.75 L927.33,32.75 L928.21,32.75 L929.11,32.76 L930.02,32.76 L930.94,32.76 L931.87,32.77 L932.81,32.77 L933.76,32.78 L934.72,32.78 L935.69,32.79 L936.67,32.79 L937.65,32.8 L938.65,32.81 L939.65,32.82 L940.67,32.82 L941.69,32.83 L942.72,32.84 L943.76,32.85 L944.8,32.86 L945.86,32.87 L946.92,32.88 L947.99,32.89 L949.07,32.9 L950.15,32.92 L951.25,32.93 L952.34,32.94 L953.45,32.95 L954.57,32.97 L955.69,32.98 L956.81,33 L957.95,33.01 L959.09,33.02 L960.23,33.04 L961.39,33.05 L962.54,33.07 L963.71,33.09 L964.88,33.1 L966.05,33.12 L967.23,33.13 L968.42,33.15 L969.61,33.17 L970.81,33.18 L972.01,33.2 L973.22,33.22 L974.43,33.24 L975.64,33.25 L976.86,33.27 L978.09,33.29 L979.31,33.31 L980.55,33.33 L981.78,33.35 L983.02,33.37 L984.26,33.38 L985.51,33.4 L986.76,33.42 L988.01,33.44 L989.27,33.46 L990.53,33.48 L991.79,33.5 L993.05,33.52 L994.32,33.54 L995.59,33.56 L996.86,33.58 L998.13,33.6 L999.41,33.62 L1000.69,33.64 L1001.97,33.66 L1003.25,33.68 L1004.53,33.69 L1005.81,33.71 L1007.1,33.73 L1008.38,33.75 L1009.67,33.77 L1010.95,33.79 L1012.24,33.81 L1013.53,33.83 L1014.82,33.85 L1016.1,33.87 L1017.39,33.89 L1018.68,33.91 L1019.97,33.92 L1021.26,33.94 L1022.55,33.96 L1023.84,33.98 L1025.13,34 L1026.42,34.01 L1027.71,34.03 L1029,34.05 L1030.3,34.07 L1031.59,34.08 L1032.89,34.1 L1034.18,34.12 L1035.48,34.14 L1036.78,34.15 L1038.08,34.17 L1039.39,34.18 L1040.69,34.2 L1042,34.22 L1043.31,34.23 L1044.62,34.25 L1045.93,34.26 L1047.25,34.28 L1048.56,34.29 L1049.88,34.31 L1051.21,34.32 L1052.53,34.34 L1053.86,34.35 L1055.19,34.36 L1056.53,34.38 L1057.86,34.39 L1059.2,34.4 L1060.55,34.41 L1061.9,34.43 L1063.25,34.44 L1064.6,34.45 L1065.96,34.46 L1067.32,34.47 L1068.69,34.49 L1070.06,34.5 L1071.43,34.51 L1072.81,34.52 L1074.19,34.53 L1075.58,34.54 L1076.97,34.55 L1078.36,34.55 L1079.76,34.56 L1081.17,34.57 L1082.58,34.58 L1083.99,34.59 L1085.41,34.6 L1086.84,34.6 L1088.27,34.61 L1089.71,34.62 L1091.15,34.62 L1092.6,34.63 L1094.05,34.63 L1095.51,34.64 L1096.97,34.64 L1098.45,34.65 L1099.92,34.65 L1101.41,34.66 L1102.9,34.66 L1104.39,34.66 L1105.89,34.66 L1107.4,34.67 L1108.92,34.67 L1110.44,34.67 L1111.97,34.67 L1113.51,34.67 L1115.05,34.67 L1116.61,34.67 L1118.16,34.67 L1119.73,34.67 L1121.3,34.67 L1122.88,34.67 L1124.47,34.66 L1126.07,34.66 L1127.68,34.66 L1129.29,34.65 L1130.91,34.65 L1132.54,34.65 L1134.18,34.64 L1135.83,34.64 L1137.49,34.63 L1139.16,34.63 L1140.84,34.63 L1142.54,34.62 L1144.25,34.62 L1145.97,34.62 L1147.7,34.62 L1149.45,34.62 L1151.21,34.62 L1152.99,34.62 L1154.78,34.63 L1156.59,34.63 L1158.42,34.64 L1160.26,34.65 L1162.12,34.66 L1164,34.67 L1165.9,34.69 L1167.81,34.7 L1169.75,34.72 L1171.7,34.75 L1173.68,34.77 L1175.68,34.8 L1177.7,34.83 L1179.74,34.86 L1181.8,34.9 L1183.89,34.94 L1186,34.98 L1188.14,35.03 L1190.3,35.08 L1192.48,35.13 L1194.69,35.19 L1196.93,35.25 L1199.19,35.31 L1201.48,35.38 L1203.8,35.46 L1206.15,35.54 L1208.52,35.62 L1210.93,35.71 L1213.36,35.8 L1215.83,35.9 L1218.32,36 L1220.85,36.11 L1223.4,36.22 L1226,36.34 L1228.62,36.46 L1231.27,36.59 L1233.96,36.73 L1236.69,36.87 L1239.45,37.02 L1242.24,37.17 L1245.07,37.33 L1247.94,37.5 L1250.84,37.67 L1253.78,37.85 L1256.76,38.03 L1259.78,38.23 L1262.83,38.43 L1265.93,38.63 L1269.06,38.85 L1272.24,39.07 L1275.45,39.3 L1278.71,39.54 L1282.01,39.78 L1285.35,40.04 L1288.74,40.3 L1292.16,40.57 L1295.64,40.84 L1299.15,41.13 L1302.71,41.42 L1306.32,41.73 L1309.97,42.04 L1313.67,42.36 L1317.42,42.69 L1321.21,43.03 L1325.05,43.37" fill="none" stroke="#BED62F" stroke-width="3" stroke-dasharray="13.6 18" stroke-linecap="round" stroke-dashoffset="0.3"/>
<path d="M811,35.5 L812.28,36.59 L813.54,37.64 L814.79,38.68 L816.03,39.68 L817.24,40.66 L818.45,41.62 L819.63,42.54 L820.8,43.45 L821.96,44.33 L823.1,45.18 L824.23,46.01 L825.35,46.82 L826.45,47.6 L827.53,48.36 L828.6,49.09 L829.66,49.81 L830.71,50.5 L831.74,51.17 L832.76,51.82 L833.76,52.45 L834.76,53.06 L835.74,53.64 L836.7,54.21 L837.66,54.76 L838.6,55.28 L839.53,55.79 L840.45,56.28 L841.36,56.75 L842.26,57.2 L843.14,57.64 L844.02,58.05 L844.88,58.45 L845.73,58.84 L846.58,59.2 L847.41,59.55 L848.23,59.89 L849.04,60.21 L849.84,60.51 L850.63,60.8 L851.42,61.07 L852.19,61.33 L852.95,61.58 L853.71,61.81 L854.45,62.03 L855.19,62.23 L855.92,62.43 L856.64,62.61 L857.35,62.78 L858.05,62.93 L858.75,63.08 L859.44,63.21 L860.12,63.34 L860.79,63.45 L861.46,63.56 L862.12,63.65 L862.77,63.74 L863.41,63.81 L864.05,63.88 L864.68,63.94 L865.31,63.99 L865.93,64.03 L866.54,64.07 L867.15,64.1 L867.76,64.12 L868.35,64.14 L868.95,64.14 L869.53,64.15 L870.12,64.15 L870.69,64.14 L871.27,64.13 L871.84,64.11 L872.4,64.09 L872.96,64.07 L873.52,64.04 L874.07,64.01 L874.62,63.98 L875.17,63.95 L875.71,63.91 L876.25,63.87 L876.79,63.83 L877.33,63.79 L877.86,63.74 L878.39,63.7 L878.92,63.65 L879.44,63.61 L879.97,63.56 L880.49,63.51 L881.01,63.46 L881.53,63.41 L882.05,63.35 L882.57,63.3 L883.08,63.24 L883.6,63.19 L884.12,63.13 L884.63,63.07 L885.15,63.01 L885.66,62.95 L886.18,62.89 L886.69,62.82 L887.21,62.76 L887.73,62.69 L888.25,62.63 L888.76,62.56 L889.29,62.49 L889.81,62.42 L890.33,62.34 L890.86,62.27 L891.38,62.2 L891.91,62.12 L892.44,62.04 L892.98,61.96 L893.51,61.88 L894.05,61.8 L894.59,61.72 L895.14,61.64 L895.69,61.55 L896.24,61.47 L896.79,61.38 L897.35,61.29 L897.92,61.2 L898.48,61.11 L899.05,61.02 L899.63,60.93 L900.21,60.84 L900.79,60.74 L901.38,60.64 L901.98,60.55 L902.58,60.45 L903.19,60.35 L903.8,60.24 L904.41,60.14 L905.04,60.04 L905.67,59.93 L906.3,59.83 L906.94,59.72 L907.59,59.61 L908.25,59.5 L908.91,59.39 L909.58,59.28 L910.25,59.16 L910.94,59.05 L911.63,58.93 L912.33,58.81 L913.04,58.69 L913.75,58.57 L914.48,58.45 L915.21,58.33 L915.95,58.21 L916.7,58.08 L917.46,57.96 L918.23,57.83 L919,57.7 L919.79,57.57 L920.59,57.44 L921.39,57.31 L922.21,57.17 L923.04,57.04 L923.87,56.9 L924.72,56.76 L925.58,56.63 L926.45,56.49 L927.33,56.35 L928.21,56.2 L929.11,56.06 L930.02,55.92 L930.94,55.77 L931.87,55.63 L932.81,55.48 L933.76,55.33 L934.72,55.18 L935.69,55.04 L936.67,54.89 L937.65,54.74 L938.65,54.59 L939.65,54.44 L940.67,54.29 L941.69,54.14 L942.72,53.98 L943.76,53.83 L944.8,53.68 L945.86,53.53 L946.92,53.38 L947.99,53.23 L949.07,53.08 L950.15,52.93 L951.25,52.78 L952.34,52.63 L953.45,52.48 L954.57,52.33 L955.69,52.18 L956.81,52.03 L957.95,51.88 L959.09,51.73 L960.23,51.59 L961.39,51.44 L962.54,51.3 L963.71,51.15 L964.88,51.01 L966.05,50.87 L967.23,50.73 L968.42,50.59 L969.61,50.45 L970.81,50.32 L972.01,50.18 L973.22,50.05 L974.43,49.92 L975.64,49.78 L976.86,49.66 L978.09,49.53 L979.31,49.4 L980.55,49.28 L981.78,49.16 L983.02,49.03 L984.26,48.92 L985.51,48.8 L986.76,48.69 L988.01,48.57 L989.27,48.46 L990.53,48.36 L991.79,48.25 L993.05,48.15 L994.32,48.05 L995.59,47.95 L996.86,47.85 L998.13,47.76 L999.41,47.67 L1000.69,47.58 L1001.97,47.5 L1003.25,47.42 L1004.53,47.34 L1005.81,47.26 L1007.1,47.19 L1008.38,47.12 L1009.67,47.05 L1010.95,46.99 L1012.24,46.93 L1013.53,46.87 L1014.82,46.82 L1016.1,46.77 L1017.39,46.72 L1018.68,46.68 L1019.97,46.64 L1021.26,46.6 L1022.55,46.57 L1023.84,46.54 L1025.13,46.51 L1026.42,46.49 L1027.71,46.47 L1029,46.45 L1030.3,46.43 L1031.59,46.42 L1032.89,46.41 L1034.18,46.4 L1035.48,46.4 L1036.78,46.4 L1038.08,46.4 L1039.39,46.4 L1040.69,46.4 L1042,46.41 L1043.31,46.42 L1044.62,46.43 L1045.93,46.44 L1047.25,46.45 L1048.56,46.47 L1049.88,46.49 L1051.21,46.51 L1052.53,46.53 L1053.86,46.55 L1055.19,46.57 L1056.53,46.6 L1057.86,46.62 L1059.2,46.65 L1060.55,46.68 L1061.9,46.71 L1063.25,46.74 L1064.6,46.77 L1065.96,46.8 L1067.32,46.83 L1068.69,46.86 L1070.06,46.9 L1071.43,46.93 L1072.81,46.96 L1074.19,47 L1075.58,47.03 L1076.97,47.06 L1078.36,47.1 L1079.76,47.13 L1081.17,47.17 L1082.58,47.2 L1083.99,47.24 L1085.41,47.27 L1086.84,47.3 L1088.27,47.33 L1089.71,47.37 L1091.15,47.4 L1092.6,47.43 L1094.05,47.46 L1095.51,47.49 L1096.97,47.51 L1098.45,47.54 L1099.92,47.57 L1101.41,47.59 L1102.9,47.61 L1104.39,47.64 L1105.89,47.66 L1107.4,47.67 L1108.92,47.69 L1110.44,47.71 L1111.97,47.72 L1113.51,47.73 L1115.05,47.74 L1116.61,47.75 L1118.16,47.76 L1119.73,47.76 L1121.3,47.76 L1122.88,47.76 L1124.47,47.76 L1126.07,47.76 L1127.68,47.75 L1129.29,47.74 L1130.91,47.73 L1132.54,47.71 L1134.18,47.69 L1135.83,47.67 L1137.49,47.65 L1139.16,47.63 L1140.84,47.6 L1142.54,47.58 L1144.25,47.55 L1145.97,47.52 L1147.7,47.49 L1149.45,47.46 L1151.21,47.43 L1152.99,47.39 L1154.78,47.36 L1156.59,47.32 L1158.42,47.29 L1160.26,47.25 L1162.12,47.22 L1164,47.18 L1165.9,47.14 L1167.81,47.11 L1169.75,47.07 L1171.7,47.04 L1173.68,47 L1175.68,46.97 L1177.7,46.93 L1179.74,46.9 L1181.8,46.87 L1183.89,46.84 L1186,46.81 L1188.14,46.78 L1190.3,46.76 L1192.48,46.73 L1194.69,46.71 L1196.93,46.69 L1199.19,46.67 L1201.48,46.65 L1203.8,46.64 L1206.15,46.63 L1208.52,46.62 L1210.93,46.61 L1213.36,46.61 L1215.83,46.61 L1218.32,46.61 L1220.85,46.61 L1223.4,46.62 L1226,46.63 L1228.62,46.65 L1231.27,46.67 L1233.96,46.69 L1236.69,46.72 L1239.45,46.75 L1242.24,46.78 L1245.07,46.82 L1247.94,46.86 L1250.84,46.91 L1253.78,46.97 L1256.76,47.02 L1259.78,47.09 L1262.83,47.15 L1265.93,47.23 L1269.06,47.3 L1272.24,47.39 L1275.45,47.48 L1278.71,47.57 L1282.01,47.67 L1285.35,47.78 L1288.74,47.89 L1292.16,48.01 L1295.64,48.13 L1299.15,48.26 L1302.71,48.4 L1306.32,48.55 L1309.97,48.7 L1313.67,48.85 L1317.42,49.02 L1321.21,49.19 L1325.05,49.37" fill="none" stroke="#4BBDB3" stroke-width="3" stroke-dasharray="13.6 18" stroke-linecap="round" stroke-dashoffset="0.3"/>
<path d="M811,35.5 L812.28,40.36 L813.54,45.11 L814.79,49.75 L816.03,54.28 L817.24,58.7 L818.45,63.02 L819.63,67.23 L820.8,71.33 L821.96,75.34 L823.1,79.24 L824.23,83.04 L825.35,86.75 L826.45,90.36 L827.53,93.87 L828.6,97.29 L829.66,100.62 L830.71,103.86 L831.74,107.01 L832.76,110.07 L833.76,113.04 L834.76,115.93 L835.74,118.73 L836.7,121.45 L837.66,124.1 L838.6,126.66 L839.53,129.14 L840.45,131.55 L841.36,133.88 L842.26,136.14 L843.14,138.33 L844.02,140.45 L844.88,142.49 L845.73,144.47 L846.58,146.39 L847.41,148.23 L848.23,150.02 L849.04,151.74 L849.84,153.4 L850.63,155 L851.42,156.55 L852.19,158.04 L852.95,159.47 L853.71,160.85 L854.45,162.18 L855.19,163.45 L855.92,164.68 L856.64,165.86 L857.35,166.99 L858.05,168.08 L858.75,169.13 L859.44,170.13 L860.12,171.09 L860.79,172.02 L861.46,172.9 L862.12,173.75 L862.77,174.56 L863.41,175.34 L864.05,176.09 L864.68,176.81 L865.31,177.5 L865.93,178.16 L866.54,178.79 L867.15,179.4 L867.76,179.99 L868.35,180.55 L868.95,181.1 L869.53,181.62 L870.12,182.13 L870.69,182.62 L871.27,183.1 L871.84,183.56 L872.4,184.01 L872.96,184.45 L873.52,184.88 L874.07,185.3 L874.62,185.72 L875.17,186.13 L875.71,186.54 L876.25,186.95 L876.79,187.35 L877.33,187.76 L877.86,188.17 L878.39,188.58 L878.92,188.98 L879.44,189.39 L879.97,189.81 L880.49,190.22 L881.01,190.63 L881.53,191.04 L882.05,191.46 L882.57,191.87 L883.08,192.29 L883.6,192.71 L884.12,193.13 L884.63,193.55 L885.15,193.97 L885.66,194.39 L886.18,194.81 L886.69,195.24 L887.21,195.67 L887.73,196.09 L888.25,196.52 L888.76,196.96 L889.29,197.39 L889.81,197.82 L890.33,198.26 L890.86,198.7 L891.38,199.14 L891.91,199.58 L892.44,200.02 L892.98,200.46 L893.51,200.91 L894.05,201.36 L894.59,201.81 L895.14,202.26 L895.69,202.72 L896.24,203.17 L896.79,203.63 L897.35,204.09 L897.92,204.55 L898.48,205.02 L899.05,205.49 L899.63,205.96 L900.21,206.43 L900.79,206.9 L901.38,207.38 L901.98,207.86 L902.58,208.34 L903.19,208.83 L903.8,209.31 L904.41,209.8 L905.04,210.29 L905.67,210.79 L906.3,211.29 L906.94,211.79 L907.59,212.29 L908.25,212.8 L908.91,213.3 L909.58,213.82 L910.25,214.33 L910.94,214.85 L911.63,215.37 L912.33,215.89 L913.04,216.42 L913.75,216.95 L914.48,217.48 L915.21,218.02 L915.95,218.56 L916.7,219.1 L917.46,219.65 L918.23,220.2 L919,220.75 L919.79,221.31 L920.59,221.87 L921.39,222.43 L922.21,223 L923.04,223.57 L923.87,224.15 L924.72,224.73 L925.58,225.31 L926.45,225.89 L927.33,226.48 L928.21,227.08 L929.11,227.67 L930.02,228.27 L930.94,228.88 L931.87,229.48 L932.81,230.09 L933.76,230.71 L934.72,231.32 L935.69,231.94 L936.67,232.56 L937.65,233.19 L938.65,233.81 L939.65,234.44 L940.67,235.08 L941.69,235.71 L942.72,236.35 L943.76,236.99 L944.8,237.63 L945.86,238.27 L946.92,238.92 L947.99,239.57 L949.07,240.22 L950.15,240.87 L951.25,241.52 L952.34,242.18 L953.45,242.83 L954.57,243.49 L955.69,244.15 L956.81,244.81 L957.95,245.48 L959.09,246.14 L960.23,246.8 L961.39,247.47 L962.54,248.13 L963.71,248.8 L964.88,249.47 L966.05,250.14 L967.23,250.81 L968.42,251.48 L969.61,252.15 L970.81,252.82 L972.01,253.49 L973.22,254.16 L974.43,254.83 L975.64,255.51 L976.86,256.18 L978.09,256.85 L979.31,257.52 L980.55,258.19 L981.78,258.86 L983.02,259.53 L984.26,260.2 L985.51,260.87 L986.76,261.54 L988.01,262.21 L989.27,262.88 L990.53,263.54 L991.79,264.21 L993.05,264.87 L994.32,265.53 L995.59,266.2 L996.86,266.86 L998.13,267.52 L999.41,268.17 L1000.69,268.83 L1001.97,269.49 L1003.25,270.14 L1004.53,270.79 L1005.81,271.44 L1007.1,272.09 L1008.38,272.73 L1009.67,273.38 L1010.95,274.02 L1012.24,274.66 L1013.53,275.29 L1014.82,275.93 L1016.1,276.56 L1017.39,277.19 L1018.68,277.81 L1019.97,278.44 L1021.26,279.06 L1022.55,279.68 L1023.84,280.3 L1025.13,280.91 L1026.42,281.52 L1027.71,282.13 L1029,282.74 L1030.3,283.34 L1031.59,283.94 L1032.89,284.54 L1034.18,285.14 L1035.48,285.73 L1036.78,286.33 L1038.08,286.92 L1039.39,287.5 L1040.69,288.09 L1042,288.67 L1043.31,289.25 L1044.62,289.83 L1045.93,290.41 L1047.25,290.98 L1048.56,291.55 L1049.88,292.12 L1051.21,292.69 L1052.53,293.25 L1053.86,293.81 L1055.19,294.38 L1056.53,294.93 L1057.86,295.49 L1059.2,296.04 L1060.55,296.6 L1061.9,297.15 L1063.25,297.69 L1064.6,298.24 L1065.96,298.78 L1067.32,299.33 L1068.69,299.87 L1070.06,300.4 L1071.43,300.94 L1072.81,301.47 L1074.19,302.01 L1075.58,302.54 L1076.97,303.06 L1078.36,303.59 L1079.76,304.11 L1081.17,304.64 L1082.58,305.16 L1083.99,305.68 L1085.41,306.19 L1086.84,306.71 L1088.27,307.22 L1089.71,307.73 L1091.15,308.24 L1092.6,308.75 L1094.05,309.26 L1095.51,309.76 L1096.97,310.26 L1098.45,310.76 L1099.92,311.26 L1101.41,311.76 L1102.9,312.26 L1104.39,312.75 L1105.89,313.25 L1107.4,313.74 L1108.92,314.23 L1110.44,314.72 L1111.97,315.2 L1113.51,315.69 L1115.05,316.17 L1116.61,316.65 L1118.16,317.13 L1119.73,317.61 L1121.3,318.09 L1122.88,318.57 L1124.47,319.04 L1126.07,319.51 L1127.68,319.99 L1129.29,320.46 L1130.91,320.93 L1132.54,321.39 L1134.18,321.86 L1135.83,322.33 L1137.49,322.79 L1139.16,323.25 L1140.84,323.72 L1142.54,324.18 L1144.25,324.64 L1145.97,325.1 L1147.7,325.56 L1149.45,326.01 L1151.21,326.47 L1152.99,326.93 L1154.78,327.38 L1156.59,327.84 L1158.42,328.29 L1160.26,328.75 L1162.12,329.2 L1164,329.65 L1165.9,330.11 L1167.81,330.56 L1169.75,331.01 L1171.7,331.46 L1173.68,331.92 L1175.68,332.37 L1177.7,332.82 L1179.74,333.27 L1181.8,333.72 L1183.89,334.18 L1186,334.63 L1188.14,335.08 L1190.3,335.53 L1192.48,335.99 L1194.69,336.44 L1196.93,336.9 L1199.19,337.35 L1201.48,337.8 L1203.8,338.26 L1206.15,338.72 L1208.52,339.17 L1210.93,339.63 L1213.36,340.09 L1215.83,340.55 L1218.32,341.01 L1220.85,341.47 L1223.4,341.93 L1226,342.4 L1228.62,342.86 L1231.27,343.32 L1233.96,343.79 L1236.69,344.26 L1239.45,344.73 L1242.24,345.2 L1245.07,345.67 L1247.94,346.14 L1250.84,346.62 L1253.78,347.09 L1256.76,347.57 L1259.78,348.05 L1262.83,348.53 L1265.93,349.02 L1269.06,349.5 L1272.24,349.99 L1275.45,350.47 L1278.71,350.97 L1282.01,351.46 L1285.35,351.95 L1288.74,352.45 L1292.16,352.95 L1295.64,353.45 L1299.15,353.95 L1302.71,354.46 L1306.32,354.96 L1309.97,355.47 L1313.67,355.99 L1317.42,356.5 L1321.21,357.02 L1325.05,357.54" fill="none" stroke="#F48495" stroke-width="3" stroke-dasharray="13.6 18" stroke-linecap="round" stroke-dashoffset="1.4"/>
<path d="M811,35.5 L812.28,41.8 L813.54,47.96 L814.79,53.98 L816.03,59.86 L817.24,65.61 L818.45,71.22 L819.63,76.7 L820.8,82.05 L821.96,87.27 L823.1,92.37 L824.23,97.34 L825.35,102.18 L826.45,106.9 L827.53,111.51 L828.6,115.99 L829.66,120.36 L830.71,124.61 L831.74,128.74 L832.76,132.77 L833.76,136.68 L834.76,140.49 L835.74,144.19 L836.7,147.78 L837.66,151.27 L838.6,154.66 L839.53,157.95 L840.45,161.14 L841.36,164.23 L842.26,167.22 L843.14,170.13 L844.02,172.94 L844.88,175.66 L845.73,178.29 L846.58,180.84 L847.41,183.3 L848.23,185.68 L849.04,187.97 L849.84,190.19 L850.63,192.33 L851.42,194.39 L852.19,196.37 L852.95,198.28 L853.71,200.12 L854.45,201.89 L855.19,203.6 L855.92,205.23 L856.64,206.8 L857.35,208.31 L858.05,209.76 L858.75,211.14 L859.44,212.47 L860.12,213.74 L860.79,214.96 L861.46,216.12 L862.12,217.23 L862.77,218.29 L863.41,219.31 L864.05,220.27 L864.68,221.2 L865.31,222.07 L865.93,222.91 L866.54,223.71 L867.15,224.47 L867.76,225.19 L868.35,225.88 L868.95,226.54 L869.53,227.17 L870.12,227.76 L870.69,228.33 L871.27,228.87 L871.84,229.39 L872.4,229.88 L872.96,230.35 L873.52,230.81 L874.07,231.24 L874.62,231.66 L875.17,232.06 L875.71,232.46 L876.25,232.84 L876.79,233.21 L877.33,233.57 L877.86,233.93 L878.39,234.27 L878.92,234.62 L879.44,234.95 L879.97,235.27 L880.49,235.59 L881.01,235.91 L881.53,236.21 L882.05,236.52 L882.57,236.81 L883.08,237.1 L883.6,237.38 L884.12,237.66 L884.63,237.94 L885.15,238.21 L885.66,238.47 L886.18,238.73 L886.69,238.99 L887.21,239.24 L887.73,239.49 L888.25,239.73 L888.76,239.97 L889.29,240.21 L889.81,240.45 L890.33,240.68 L890.86,240.91 L891.38,241.14 L891.91,241.37 L892.44,241.59 L892.98,241.82 L893.51,242.04 L894.05,242.26 L894.59,242.48 L895.14,242.7 L895.69,242.92 L896.24,243.14 L896.79,243.36 L897.35,243.58 L897.92,243.8 L898.48,244.02 L899.05,244.24 L899.63,244.46 L900.21,244.69 L900.79,244.91 L901.38,245.14 L901.98,245.37 L902.58,245.6 L903.19,245.84 L903.8,246.07 L904.41,246.31 L905.04,246.56 L905.67,246.8 L906.3,247.05 L906.94,247.31 L907.59,247.56 L908.25,247.82 L908.91,248.09 L909.58,248.36 L910.25,248.63 L910.94,248.91 L911.63,249.2 L912.33,249.49 L913.04,249.79 L913.75,250.09 L914.48,250.4 L915.21,250.71 L915.95,251.04 L916.7,251.36 L917.46,251.7 L918.23,252.04 L919,252.39 L919.79,252.75 L920.59,253.11 L921.39,253.49 L922.21,253.87 L923.04,254.26 L923.87,254.66 L924.72,255.07 L925.58,255.48 L926.45,255.91 L927.33,256.35 L928.21,256.79 L929.11,257.24 L930.02,257.71 L930.94,258.17 L931.87,258.65 L932.81,259.14 L933.76,259.63 L934.72,260.13 L935.69,260.64 L936.67,261.16 L937.65,261.68 L938.65,262.21 L939.65,262.75 L940.67,263.29 L941.69,263.84 L942.72,264.39 L943.76,264.95 L944.8,265.52 L945.86,266.09 L946.92,266.67 L947.99,267.25 L949.07,267.84 L950.15,268.43 L951.25,269.03 L952.34,269.63 L953.45,270.24 L954.57,270.85 L955.69,271.46 L956.81,272.08 L957.95,272.7 L959.09,273.32 L960.23,273.95 L961.39,274.58 L962.54,275.22 L963.71,275.85 L964.88,276.49 L966.05,277.13 L967.23,277.77 L968.42,278.42 L969.61,279.06 L970.81,279.71 L972.01,280.36 L973.22,281.01 L974.43,281.66 L975.64,282.31 L976.86,282.96 L978.09,283.62 L979.31,284.27 L980.55,284.92 L981.78,285.57 L983.02,286.23 L984.26,286.88 L985.51,287.53 L986.76,288.18 L988.01,288.83 L989.27,289.47 L990.53,290.12 L991.79,290.76 L993.05,291.41 L994.32,292.05 L995.59,292.69 L996.86,293.32 L998.13,293.96 L999.41,294.59 L1000.69,295.21 L1001.97,295.84 L1003.25,296.46 L1004.53,297.08 L1005.81,297.69 L1007.1,298.3 L1008.38,298.91 L1009.67,299.51 L1010.95,300.11 L1012.24,300.7 L1013.53,301.29 L1014.82,301.87 L1016.1,302.45 L1017.39,303.02 L1018.68,303.59 L1019.97,304.15 L1021.26,304.71 L1022.55,305.26 L1023.84,305.8 L1025.13,306.35 L1026.42,306.88 L1027.71,307.41 L1029,307.94 L1030.3,308.46 L1031.59,308.97 L1032.89,309.48 L1034.18,309.99 L1035.48,310.48 L1036.78,310.98 L1038.08,311.47 L1039.39,311.95 L1040.69,312.43 L1042,312.91 L1043.31,313.38 L1044.62,313.84 L1045.93,314.31 L1047.25,314.76 L1048.56,315.21 L1049.88,315.66 L1051.21,316.1 L1052.53,316.54 L1053.86,316.97 L1055.19,317.4 L1056.53,317.82 L1057.86,318.24 L1059.2,318.66 L1060.55,319.07 L1061.9,319.47 L1063.25,319.87 L1064.6,320.27 L1065.96,320.66 L1067.32,321.05 L1068.69,321.43 L1070.06,321.81 L1071.43,322.19 L1072.81,322.56 L1074.19,322.93 L1075.58,323.29 L1076.97,323.65 L1078.36,324 L1079.76,324.36 L1081.17,324.7 L1082.58,325.04 L1083.99,325.38 L1085.41,325.72 L1086.84,326.05 L1088.27,326.38 L1089.71,326.7 L1091.15,327.02 L1092.6,327.34 L1094.05,327.65 L1095.51,327.96 L1096.97,328.26 L1098.45,328.56 L1099.92,328.86 L1101.41,329.15 L1102.9,329.44 L1104.39,329.73 L1105.89,330.01 L1107.4,330.29 L1108.92,330.57 L1110.44,330.84 L1111.97,331.11 L1113.51,331.38 L1115.05,331.64 L1116.61,331.9 L1118.16,332.15 L1119.73,332.41 L1121.3,332.66 L1122.88,332.9 L1124.47,333.15 L1126.07,333.39 L1127.68,333.62 L1129.29,333.86 L1130.91,334.09 L1132.54,334.32 L1134.18,334.54 L1135.83,334.77 L1137.49,334.99 L1139.16,335.21 L1140.84,335.43 L1142.54,335.65 L1144.25,335.87 L1145.97,336.09 L1147.7,336.31 L1149.45,336.53 L1151.21,336.75 L1152.99,336.98 L1154.78,337.2 L1156.59,337.42 L1158.42,337.65 L1160.26,337.88 L1162.12,338.11 L1164,338.35 L1165.9,338.59 L1167.81,338.83 L1169.75,339.08 L1171.7,339.33 L1173.68,339.58 L1175.68,339.84 L1177.7,340.11 L1179.74,340.38 L1181.8,340.65 L1183.89,340.93 L1186,341.22 L1188.14,341.52 L1190.3,341.82 L1192.48,342.13 L1194.69,342.44 L1196.93,342.77 L1199.19,343.1 L1201.48,343.44 L1203.8,343.79 L1206.15,344.15 L1208.52,344.51 L1210.93,344.89 L1213.36,345.28 L1215.83,345.68 L1218.32,346.08 L1220.85,346.5 L1223.4,346.93 L1226,347.38 L1228.62,347.83 L1231.27,348.29 L1233.96,348.77 L1236.69,349.26 L1239.45,349.77 L1242.24,350.28 L1245.07,350.81 L1247.94,351.36 L1250.84,351.92 L1253.78,352.49 L1256.76,353.08 L1259.78,353.68 L1262.83,354.3 L1265.93,354.93 L1269.06,355.58 L1272.24,356.25 L1275.45,356.93 L1278.71,357.63 L1282.01,358.35 L1285.35,359.08 L1288.74,359.84 L1292.16,360.61 L1295.64,361.4 L1299.15,362.2 L1302.71,363.03 L1306.32,363.88 L1309.97,364.74 L1313.67,365.63 L1317.42,366.54 L1321.21,367.46 L1325.05,368.41" fill="none" stroke="#4BB5E4" stroke-width="3" stroke-dasharray="13.6 18" stroke-linecap="round" stroke-dashoffset="0.9"/>
<path d="M811,35.5 L812.28,42.27 L813.54,48.88 L814.79,55.34 L816.03,61.64 L817.24,67.79 L818.45,73.79 L819.63,79.64 L820.8,85.34 L821.96,90.9 L823.1,96.32 L824.23,101.6 L825.35,106.74 L826.45,111.75 L827.53,116.62 L828.6,121.36 L829.66,125.97 L830.71,130.45 L831.74,134.81 L832.76,139.05 L833.76,143.16 L834.76,147.16 L835.74,151.03 L836.7,154.79 L837.66,158.44 L838.6,161.98 L839.53,165.41 L840.45,168.73 L841.36,171.95 L842.26,175.06 L843.14,178.08 L844.02,180.99 L844.88,183.81 L845.73,186.53 L846.58,189.17 L847.41,191.71 L848.23,194.16 L849.04,196.52 L849.84,198.81 L850.63,201.01 L851.42,203.12 L852.19,205.17 L852.95,207.13 L853.71,209.02 L854.45,210.84 L855.19,212.59 L855.92,214.27 L856.64,215.89 L857.35,217.44 L858.05,218.93 L858.75,220.36 L859.44,221.73 L860.12,223.05 L860.79,224.31 L861.46,225.53 L862.12,226.69 L862.77,227.81 L863.41,228.88 L864.05,229.9 L864.68,230.89 L865.31,231.84 L865.93,232.75 L866.54,233.62 L867.15,234.47 L867.76,235.28 L868.35,236.06 L868.95,236.82 L869.53,237.55 L870.12,238.26 L870.69,238.95 L871.27,239.62 L871.84,240.27 L872.4,240.91 L872.96,241.54 L873.52,242.15 L874.07,242.76 L874.62,243.36 L875.17,243.96 L875.71,244.56 L876.25,245.15 L876.79,245.75 L877.33,246.35 L877.86,246.96 L878.39,247.57 L878.92,248.18 L879.44,248.8 L879.97,249.42 L880.49,250.04 L881.01,250.67 L881.53,251.3 L882.05,251.93 L882.57,252.57 L883.08,253.21 L883.6,253.85 L884.12,254.5 L884.63,255.15 L885.15,255.81 L885.66,256.46 L886.18,257.12 L886.69,257.79 L887.21,258.46 L887.73,259.13 L888.25,259.8 L888.76,260.48 L889.29,261.16 L889.81,261.84 L890.33,262.53 L890.86,263.22 L891.38,263.91 L891.91,264.61 L892.44,265.31 L892.98,266.01 L893.51,266.71 L894.05,267.42 L894.59,268.13 L895.14,268.85 L895.69,269.56 L896.24,270.28 L896.79,271.01 L897.35,271.73 L897.92,272.46 L898.48,273.19 L899.05,273.93 L899.63,274.66 L900.21,275.4 L900.79,276.14 L901.38,276.89 L901.98,277.63 L902.58,278.38 L903.19,279.14 L903.8,279.89 L904.41,280.65 L905.04,281.41 L905.67,282.17 L906.3,282.94 L906.94,283.71 L907.59,284.48 L908.25,285.25 L908.91,286.02 L909.58,286.8 L910.25,287.58 L910.94,288.36 L911.63,289.15 L912.33,289.93 L913.04,290.72 L913.75,291.51 L914.48,292.31 L915.21,293.1 L915.95,293.9 L916.7,294.7 L917.46,295.5 L918.23,296.31 L919,297.11 L919.79,297.92 L920.59,298.73 L921.39,299.54 L922.21,300.36 L923.04,301.17 L923.87,301.99 L924.72,302.81 L925.58,303.63 L926.45,304.46 L927.33,305.28 L928.21,306.11 L929.11,306.94 L930.02,307.77 L930.94,308.6 L931.87,309.43 L932.81,310.26 L933.76,311.1 L934.72,311.93 L935.69,312.77 L936.67,313.6 L937.65,314.44 L938.65,315.28 L939.65,316.11 L940.67,316.95 L941.69,317.79 L942.72,318.62 L943.76,319.46 L944.8,320.3 L945.86,321.13 L946.92,321.97 L947.99,322.8 L949.07,323.63 L950.15,324.46 L951.25,325.29 L952.34,326.12 L953.45,326.95 L954.57,327.78 L955.69,328.6 L956.81,329.42 L957.95,330.24 L959.09,331.06 L960.23,331.88 L961.39,332.69 L962.54,333.51 L963.71,334.31 L964.88,335.12 L966.05,335.93 L967.23,336.73 L968.42,337.52 L969.61,338.32 L970.81,339.11 L972.01,339.9 L973.22,340.68 L974.43,341.46 L975.64,342.24 L976.86,343.02 L978.09,343.79 L979.31,344.55 L980.55,345.31 L981.78,346.07 L983.02,346.82 L984.26,347.57 L985.51,348.31 L986.76,349.05 L988.01,349.78 L989.27,350.51 L990.53,351.24 L991.79,351.95 L993.05,352.67 L994.32,353.37 L995.59,354.08 L996.86,354.77 L998.13,355.46 L999.41,356.14 L1000.69,356.82 L1001.97,357.49 L1003.25,358.16 L1004.53,358.82 L1005.81,359.47 L1007.1,360.11 L1008.38,360.75 L1009.67,361.38 L1010.95,362 L1012.24,362.62 L1013.53,363.23 L1014.82,363.83 L1016.1,364.43 L1017.39,365.01 L1018.68,365.59 L1019.97,366.16 L1021.26,366.73 L1022.55,367.28 L1023.84,367.83 L1025.13,368.37 L1026.42,368.91 L1027.71,369.43 L1029,369.95 L1030.3,370.46 L1031.59,370.97 L1032.89,371.47 L1034.18,371.96 L1035.48,372.45 L1036.78,372.92 L1038.08,373.4 L1039.39,373.86 L1040.69,374.32 L1042,374.77 L1043.31,375.22 L1044.62,375.66 L1045.93,376.09 L1047.25,376.52 L1048.56,376.94 L1049.88,377.35 L1051.21,377.76 L1052.53,378.17 L1053.86,378.56 L1055.19,378.96 L1056.53,379.34 L1057.86,379.72 L1059.2,380.1 L1060.55,380.47 L1061.9,380.83 L1063.25,381.19 L1064.6,381.55 L1065.96,381.9 L1067.32,382.24 L1068.69,382.58 L1070.06,382.92 L1071.43,383.25 L1072.81,383.57 L1074.19,383.89 L1075.58,384.21 L1076.97,384.52 L1078.36,384.83 L1079.76,385.13 L1081.17,385.43 L1082.58,385.72 L1083.99,386.01 L1085.41,386.3 L1086.84,386.58 L1088.27,386.85 L1089.71,387.13 L1091.15,387.4 L1092.6,387.67 L1094.05,387.93 L1095.51,388.19 L1096.97,388.44 L1098.45,388.7 L1099.92,388.95 L1101.41,389.19 L1102.9,389.43 L1104.39,389.67 L1105.89,389.91 L1107.4,390.14 L1108.92,390.37 L1110.44,390.6 L1111.97,390.83 L1113.51,391.05 L1115.05,391.27 L1116.61,391.49 L1118.16,391.7 L1119.73,391.91 L1121.3,392.12 L1122.88,392.33 L1124.47,392.54 L1126.07,392.74 L1127.68,392.94 L1129.29,393.14 L1130.91,393.34 L1132.54,393.54 L1134.18,393.73 L1135.83,393.92 L1137.49,394.11 L1139.16,394.3 L1140.84,394.49 L1142.54,394.67 L1144.25,394.86 L1145.97,395.04 L1147.7,395.22 L1149.45,395.4 L1151.21,395.58 L1152.99,395.76 L1154.78,395.93 L1156.59,396.11 L1158.42,396.28 L1160.26,396.45 L1162.12,396.62 L1164,396.79 L1165.9,396.96 L1167.81,397.13 L1169.75,397.29 L1171.7,397.46 L1173.68,397.62 L1175.68,397.79 L1177.7,397.95 L1179.74,398.11 L1181.8,398.27 L1183.89,398.43 L1186,398.59 L1188.14,398.75 L1190.3,398.91 L1192.48,399.07 L1194.69,399.23 L1196.93,399.39 L1199.19,399.54 L1201.48,399.7 L1203.8,399.85 L1206.15,400.01 L1208.52,400.17 L1210.93,400.32 L1213.36,400.48 L1215.83,400.63 L1218.32,400.78 L1220.85,400.94 L1223.4,401.09 L1226,401.25 L1228.62,401.4 L1231.27,401.56 L1233.96,401.71 L1236.69,401.87 L1239.45,402.02 L1242.24,402.18 L1245.07,402.34 L1247.94,402.49 L1250.84,402.65 L1253.78,402.81 L1256.76,402.96 L1259.78,403.12 L1262.83,403.28 L1265.93,403.44 L1269.06,403.6 L1272.24,403.76 L1275.45,403.92 L1278.71,404.08 L1282.01,404.25 L1285.35,404.41 L1288.74,404.57 L1292.16,404.74 L1295.64,404.91 L1299.15,405.07 L1302.71,405.24 L1306.32,405.41 L1309.97,405.58 L1313.67,405.75 L1317.42,405.93 L1321.21,406.1 L1325.05,406.28" fill="none" stroke="#3F82C1" stroke-width="3" stroke-dasharray="13.6 18" stroke-linecap="round" stroke-dashoffset="-1.0"/>
<circle cx="811" cy="35.5" r="9" fill="#3F82C1"/>
<path d="M845.27,192.96 V242.44 M840.27,192.96 H850.27 M840.27,242.44 H850.27" stroke="#3F82C1" stroke-width="2.6" fill="none"/>
<circle cx="845.27" cy="217.7" r="9" fill="#3F82C1"/>
<path d="M879.54,226.7 V256.69 M874.54,226.7 H884.54 M874.54,256.69 H884.54" stroke="#3F82C1" stroke-width="2.6" fill="none"/>
<circle cx="879.54" cy="241.69" r="9" fill="#3F82C1"/>
<path d="M913.81,277.31 V325.3 M908.81,277.31 H918.81 M908.81,325.3 H918.81" stroke="#3F82C1" stroke-width="2.6" fill="none"/>
<circle cx="913.81" cy="301.3" r="9" fill="#3F82C1"/>
<path d="M1016.62,361.66 V384.16 M1011.62,361.66 H1021.62 M1011.62,384.16 H1021.62" stroke="#3F82C1" stroke-width="2.6" fill="none"/>
<circle cx="1016.62" cy="372.91" r="9" fill="#3F82C1"/>
<path d="M1119.43,391.28 V398.78 M1114.43,391.28 H1124.43 M1114.43,398.78 H1124.43" stroke="#3F82C1" stroke-width="2.6" fill="none"/>
<circle cx="1119.43" cy="395.03" r="9" fill="#3F82C1"/>
<path d="M1222.24,397.84 V405.34 M1217.24,397.84 H1227.24 M1217.24,405.34 H1227.24" stroke="#3F82C1" stroke-width="2.6" fill="none"/>
<circle cx="1222.24" cy="401.59" r="9" fill="#3F82C1"/>
<path d="M1325.05,402.53 V410.03 M1320.05,402.53 H1330.05 M1320.05,410.03 H1330.05" stroke="#3F82C1" stroke-width="2.6" fill="none"/>
<circle cx="1325.05" cy="406.28" r="9" fill="#3F82C1"/>
<rect x="803.1" y="27.6" width="15.8" height="15.8" fill="#4BB5E4"/>
<path d="M845.27,189.96 V219.95 M840.27,189.96 H850.27 M840.27,219.95 H850.27" stroke="#4BB5E4" stroke-width="2.6" fill="none"/>
<rect x="837.37" y="197.05" width="15.8" height="15.8" fill="#4BB5E4"/>
<path d="M879.54,220.33 V263.06 M874.54,220.33 H884.54 M874.54,263.06 H884.54" stroke="#4BB5E4" stroke-width="2.6" fill="none"/>
<rect x="871.64" y="233.79" width="15.8" height="15.8" fill="#4BB5E4"/>
<path d="M913.81,221.45 V269.44 M908.81,221.45 H918.81 M908.81,269.44 H918.81" stroke="#4BB5E4" stroke-width="2.6" fill="none"/>
<rect x="905.91" y="237.54" width="15.8" height="15.8" fill="#4BB5E4"/>
<path d="M1016.62,304.68 V312.18 M1011.62,304.68 H1021.62 M1011.62,312.18 H1021.62" stroke="#4BB5E4" stroke-width="2.6" fill="none"/>
<rect x="1008.72" y="300.53" width="15.8" height="15.8" fill="#4BB5E4"/>
<path d="M1119.43,333.17 V340.67 M1114.43,333.17 H1124.43 M1114.43,340.67 H1124.43" stroke="#4BB5E4" stroke-width="2.6" fill="none"/>
<rect x="1111.53" y="329.02" width="15.8" height="15.8" fill="#4BB5E4"/>
<path d="M1222.24,339.17 V346.67 M1217.24,339.17 H1227.24 M1217.24,346.67 H1227.24" stroke="#4BB5E4" stroke-width="2.6" fill="none"/>
<rect x="1214.34" y="335.02" width="15.8" height="15.8" fill="#4BB5E4"/>
<path d="M1325.05,364.66 V372.16 M1320.05,364.66 H1330.05 M1320.05,372.16 H1330.05" stroke="#4BB5E4" stroke-width="2.6" fill="none"/>
<rect x="1317.15" y="360.51" width="15.8" height="15.8" fill="#4BB5E4"/>
<polygon points="811,23.7 821.8,35.5 811,47.3 800.2,35.5" fill="#F48495"/>
<path d="M845.27,149.84 V182.84 M840.27,149.84 H850.27 M840.27,182.84 H850.27" stroke="#F48495" stroke-width="2.6" fill="none"/>
<polygon points="845.27,154.54 856.07,166.34 845.27,178.14 834.47,166.34" fill="#F48495"/>
<path d="M879.54,182.84 V190.33 M874.54,182.84 H884.54 M874.54,190.33 H884.54" stroke="#F48495" stroke-width="2.6" fill="none"/>
<polygon points="879.54,174.78 890.34,186.58 879.54,198.38 868.74,186.58" fill="#F48495"/>
<path d="M913.81,217.33 V224.82 M908.81,217.33 H918.81 M908.81,224.82 H918.81" stroke="#F48495" stroke-width="2.6" fill="none"/>
<polygon points="913.81,209.28 924.61,221.08 913.81,232.88 903.01,221.08" fill="#F48495"/>
<path d="M1016.62,275.81 V283.31 M1011.62,275.81 H1021.62 M1011.62,283.31 H1021.62" stroke="#F48495" stroke-width="2.6" fill="none"/>
<polygon points="1016.62,267.76 1027.42,279.56 1016.62,291.36 1005.82,279.56" fill="#F48495"/>
<path d="M1119.43,317.8 V325.3 M1114.43,317.8 H1124.43 M1114.43,325.3 H1124.43" stroke="#F48495" stroke-width="2.6" fill="none"/>
<polygon points="1119.43,309.75 1130.23,321.55 1119.43,333.35 1108.63,321.55" fill="#F48495"/>
<path d="M1222.24,339.92 V347.42 M1217.24,339.92 H1227.24 M1217.24,347.42 H1227.24" stroke="#F48495" stroke-width="2.6" fill="none"/>
<polygon points="1222.24,331.87 1233.04,343.67 1222.24,355.47 1211.44,343.67" fill="#F48495"/>
<path d="M1325.05,353.79 V361.29 M1320.05,353.79 H1330.05 M1320.05,361.29 H1330.05" stroke="#F48495" stroke-width="2.6" fill="none"/>
<polygon points="1325.05,345.74 1335.85,357.54 1325.05,369.34 1314.25,357.54" fill="#F48495"/>
<polygon points="811,48 800.4,28.7 821.6,28.7" fill="#4BBDB3"/>
<path d="M845.27,57.24 V72.24 M840.27,57.24 H850.27 M840.27,72.24 H850.27" stroke="#4BBDB3" stroke-width="2.6" fill="none"/>
<polygon points="845.27,77.24 834.67,57.94 855.87,57.94" fill="#4BBDB3"/>
<path d="M879.54,51.62 V78.61 M874.54,51.62 H884.54 M874.54,78.61 H884.54" stroke="#4BBDB3" stroke-width="2.6" fill="none"/>
<polygon points="879.54,77.62 868.94,58.32 890.14,58.32" fill="#4BBDB3"/>
<path d="M913.81,46.75 V69.24 M908.81,46.75 H918.81 M908.81,69.24 H918.81" stroke="#4BBDB3" stroke-width="2.6" fill="none"/>
<polygon points="913.81,70.49 903.21,51.19 924.41,51.19" fill="#4BBDB3"/>
<path d="M1016.62,35.5 V50.5 M1011.62,35.5 H1021.62 M1011.62,50.5 H1021.62" stroke="#4BBDB3" stroke-width="2.6" fill="none"/>
<polygon points="1016.62,55.5 1006.02,36.2 1027.22,36.2" fill="#4BBDB3"/>
<path d="M1119.43,46.75 V54.25 M1114.43,46.75 H1124.43 M1114.43,54.25 H1124.43" stroke="#4BBDB3" stroke-width="2.6" fill="none"/>
<polygon points="1119.43,63 1108.83,43.7 1130.03,43.7" fill="#4BBDB3"/>
<path d="M1222.24,40.75 V48.25 M1217.24,40.75 H1227.24 M1217.24,48.25 H1227.24" stroke="#4BBDB3" stroke-width="2.6" fill="none"/>
<polygon points="1222.24,57 1211.64,37.7 1232.84,37.7" fill="#4BBDB3"/>
<path d="M1325.05,45.62 V53.12 M1320.05,45.62 H1330.05 M1320.05,53.12 H1330.05" stroke="#4BBDB3" stroke-width="2.6" fill="none"/>
<polygon points="1325.05,61.87 1314.45,42.57 1335.65,42.57" fill="#4BBDB3"/>
<polygon points="823.2,35.5 804.2,24.9 804.2,46.1" fill="#BED62F"/>
<path d="M845.27,40 V47.5 M840.27,40 H850.27 M840.27,47.5 H850.27" stroke="#BED62F" stroke-width="2.6" fill="none"/>
<polygon points="857.47,43.75 838.47,33.15 838.47,54.35" fill="#BED62F"/>
<path d="M879.54,30.25 V37.75 M874.54,30.25 H884.54 M874.54,37.75 H884.54" stroke="#BED62F" stroke-width="2.6" fill="none"/>
<polygon points="891.74,34 872.74,23.4 872.74,44.6" fill="#BED62F"/>
<path d="M913.81,28.38 V35.87 M908.81,28.38 H918.81 M908.81,35.87 H918.81" stroke="#BED62F" stroke-width="2.6" fill="none"/>
<polygon points="926.01,32.13 907.01,21.53 907.01,42.73" fill="#BED62F"/>
<path d="M1016.62,21.63 V46.37 M1011.62,21.63 H1021.62 M1011.62,46.37 H1021.62" stroke="#BED62F" stroke-width="2.6" fill="none"/>
<polygon points="1028.82,34 1009.82,23.4 1009.82,44.6" fill="#BED62F"/>
<path d="M1119.43,31.38 V38.87 M1114.43,31.38 H1124.43 M1114.43,38.87 H1124.43" stroke="#BED62F" stroke-width="2.6" fill="none"/>
<polygon points="1131.63,35.13 1112.63,24.53 1112.63,45.73" fill="#BED62F"/>
<path d="M1222.24,30.25 V37.75 M1217.24,30.25 H1227.24 M1217.24,37.75 H1227.24" stroke="#BED62F" stroke-width="2.6" fill="none"/>
<polygon points="1234.44,34 1215.44,23.4 1215.44,44.6" fill="#BED62F"/>
<path d="M1325.05,39.62 V47.12 M1320.05,39.62 H1330.05 M1320.05,47.12 H1330.05" stroke="#BED62F" stroke-width="2.6" fill="none"/>
<polygon points="1337.25,43.37 1318.25,32.77 1318.25,53.97" fill="#BED62F"/>
<path d="M791.5,16.7 H1341.6 V429.1 H791.5 Z" fill="none" stroke="#000" stroke-width="3.3" stroke-linejoin="miter"/>
<path d="M811,429.1 V421.5 M845.27,429.1 V425.5 M879.54,429.1 V425.5 M913.81,429.1 V421.5 M948.08,429.1 V425.5 M982.35,429.1 V425.5 M1016.62,429.1 V421.5 M1050.89,429.1 V425.5 M1085.16,429.1 V425.5 M1119.43,429.1 V421.5 M1153.7,429.1 V425.5 M1187.97,429.1 V425.5 M1222.24,429.1 V421.5 M1256.51,429.1 V425.5 M1290.78,429.1 V425.5 M1325.05,429.1 V421.5 M791.5,410.4 H799.1 M791.5,372.91 H795.1 M791.5,335.42 H799.1 M791.5,297.93 H795.1 M791.5,260.44 H799.1 M791.5,222.95 H795.1 M791.5,185.46 H799.1 M791.5,147.97 H795.1 M791.5,110.48 H799.1 M791.5,72.99 H795.1 M791.5,35.5 H799.1" stroke="#000" stroke-width="3" fill="none"/>
<text transform="translate(811,464.1) scale(0.95,1)" font-size="35" text-anchor="middle">0</text>
<text transform="translate(913.81,464.1) scale(0.95,1)" font-size="35" text-anchor="middle">3</text>
<text transform="translate(1016.62,464.1) scale(0.95,1)" font-size="35" text-anchor="middle">6</text>
<text transform="translate(1119.43,464.1) scale(0.95,1)" font-size="35" text-anchor="middle">9</text>
<text transform="translate(1222.24,464.1) scale(0.95,1)" font-size="35" text-anchor="middle">12</text>
<text transform="translate(1325.05,464.1) scale(0.95,1)" font-size="35" text-anchor="middle">15</text>
<text transform="translate(782.6,420.9) scale(0.95,1)" font-size="35" text-anchor="end">0.0</text>
<text transform="translate(782.6,345.92) scale(0.95,1)" font-size="35" text-anchor="end">0.2</text>
<text transform="translate(782.6,270.94) scale(0.95,1)" font-size="35" text-anchor="end">0.4</text>
<text transform="translate(782.6,195.96) scale(0.95,1)" font-size="35" text-anchor="end">0.6</text>
<text transform="translate(782.6,120.98) scale(0.95,1)" font-size="35" text-anchor="end">0.8</text>
<text transform="translate(782.6,46) scale(0.95,1)" font-size="35" text-anchor="end">1.0</text>
<text x="986.7" y="497.5" font-size="38">Time (min)</text>
<g transform="translate(716.9,262.4) rotate(-90)"><text x="0" y="0" font-size="37" font-style="italic">C/C<tspan font-size="26" dx="1" dy="10">0</tspan></text></g>
<text x="681.1" y="40.7" font-size="55">b</text>
<path d="M999,127.5 H1012 M1028.5,127.5 H1042.7" stroke="#BED62F" stroke-width="3" stroke-linecap="round"/>
<polygon points="1036.8,127.5 1018.5,117 1018.5,138" fill="#BED62F"/>
<text x="1057.8" y="134.8" font-size="28">630 nm</text>
<path d="M1158.5,127.5 H1171.5 M1188,127.5 H1202.5" stroke="#4BBDB3" stroke-width="3" stroke-linecap="round"/>
<polygon points="1184.3,140 1173.7,120.7 1194.9,120.7" fill="#4BBDB3"/>
<text x="1218.1" y="134.8" font-size="28">510 nm</text>
<path d="M999,160.6 H1012 M1028.5,160.6 H1042.7" stroke="#F48495" stroke-width="3" stroke-linecap="round"/>
<polygon points="1024.8,148.8 1035.6,160.6 1024.8,172.4 1014,160.6" fill="#F48495"/>
<text x="1057.8" y="167.9" font-size="28">420 nm</text>
<path d="M1158.5,160.6 H1171.5 M1188,160.6 H1202.5" stroke="#4BB5E4" stroke-width="3" stroke-linecap="round"/>
<rect x="1176.4" y="152.7" width="15.8" height="15.8" fill="#4BB5E4"/>
<text x="1218.1" y="167.9" font-size="28">400 nm</text>
<path d="M999,193.8 H1012 M1028.5,193.8 H1042.7" stroke="#3F82C1" stroke-width="3" stroke-linecap="round"/>
<circle cx="1024.8" cy="193.8" r="9" fill="#3F82C1"/>
<text x="1057.8" y="201.1" font-size="28">350 nm</text>
<path d="M128.6,541.3 L129.88,543.58 L131.14,545.81 L132.39,548 L133.62,550.15 L134.84,552.26 L136.04,554.33 L137.23,556.35 L138.4,558.34 L139.56,560.29 L140.7,562.21 L141.82,564.08 L142.94,565.91 L144.04,567.71 L145.12,569.47 L146.19,571.2 L147.25,572.89 L148.3,574.54 L149.33,576.16 L150.34,577.75 L151.35,579.3 L152.34,580.81 L153.32,582.3 L154.29,583.75 L155.24,585.17 L156.19,586.55 L157.12,587.91 L158.04,589.23 L158.94,590.53 L159.84,591.79 L160.73,593.03 L161.6,594.23 L162.46,595.41 L163.31,596.56 L164.16,597.68 L164.99,598.77 L165.81,599.84 L166.62,600.88 L167.42,601.89 L168.21,602.88 L168.99,603.85 L169.77,604.79 L170.53,605.7 L171.28,606.59 L172.03,607.46 L172.76,608.31 L173.49,609.13 L174.21,609.93 L174.92,610.71 L175.63,611.47 L176.32,612.21 L177.01,612.93 L177.69,613.62 L178.36,614.3 L179.03,614.96 L179.69,615.61 L180.34,616.23 L180.98,616.84 L181.62,617.43 L182.25,618 L182.88,618.56 L183.5,619.1 L184.11,619.63 L184.72,620.14 L185.32,620.64 L185.92,621.13 L186.51,621.6 L187.1,622.06 L187.68,622.5 L188.26,622.94 L188.83,623.36 L189.4,623.77 L189.97,624.18 L190.53,624.57 L191.08,624.95 L191.64,625.32 L192.19,625.68 L192.73,626.04 L193.28,626.39 L193.82,626.73 L194.35,627.06 L194.89,627.39 L195.42,627.71 L195.95,628.02 L196.48,628.33 L197,628.63 L197.53,628.92 L198.05,629.21 L198.57,629.5 L199.09,629.77 L199.61,630.05 L200.13,630.31 L200.64,630.58 L201.16,630.83 L201.67,631.08 L202.19,631.33 L202.7,631.57 L203.22,631.81 L203.73,632.04 L204.25,632.27 L204.77,632.5 L205.28,632.72 L205.8,632.93 L206.32,633.14 L206.84,633.35 L207.36,633.56 L207.88,633.76 L208.41,633.95 L208.94,634.15 L209.46,634.34 L210,634.53 L210.53,634.71 L211.06,634.89 L211.6,635.07 L212.14,635.25 L212.69,635.42 L213.24,635.59 L213.79,635.76 L214.34,635.93 L214.9,636.09 L215.46,636.26 L216.03,636.42 L216.6,636.58 L217.18,636.74 L217.76,636.89 L218.34,637.05 L218.93,637.2 L219.53,637.35 L220.13,637.51 L220.73,637.66 L221.34,637.81 L221.96,637.96 L222.58,638.11 L223.21,638.26 L223.85,638.4 L224.49,638.55 L225.13,638.7 L225.79,638.85 L226.45,639 L227.12,639.15 L227.8,639.3 L228.48,639.45 L229.17,639.6 L229.87,639.75 L230.58,639.9 L231.29,640.06 L232.02,640.21 L232.75,640.37 L233.49,640.53 L234.24,640.69 L235,640.85 L235.76,641.01 L236.54,641.18 L237.33,641.34 L238.12,641.51 L238.93,641.68 L239.74,641.86 L240.57,642.03 L241.41,642.21 L242.25,642.39 L243.11,642.58 L243.98,642.76 L244.86,642.95 L245.75,643.15 L246.65,643.34 L247.56,643.54 L248.47,643.74 L249.4,643.95 L250.34,644.15 L251.29,644.36 L252.25,644.57 L253.22,644.78 L254.19,645 L255.18,645.22 L256.18,645.44 L257.18,645.66 L258.19,645.88 L259.21,646.11 L260.24,646.34 L261.28,646.57 L262.33,646.8 L263.38,647.03 L264.44,647.27 L265.51,647.51 L266.59,647.74 L267.67,647.98 L268.76,648.23 L269.86,648.47 L270.97,648.71 L272.08,648.96 L273.2,649.21 L274.33,649.45 L275.46,649.7 L276.6,649.95 L277.75,650.21 L278.9,650.46 L280.05,650.71 L281.22,650.97 L282.39,651.22 L283.56,651.48 L284.74,651.73 L285.93,651.99 L287.12,652.25 L288.32,652.51 L289.52,652.77 L290.72,653.03 L291.93,653.28 L293.15,653.54 L294.37,653.81 L295.59,654.07 L296.82,654.33 L298.05,654.59 L299.28,654.85 L300.52,655.11 L301.76,655.37 L303.01,655.63 L304.26,655.89 L305.51,656.15 L306.77,656.41 L308.02,656.67 L309.28,656.93 L310.55,657.19 L311.81,657.44 L313.08,657.7 L314.35,657.96 L315.63,658.21 L316.9,658.47 L318.18,658.72 L319.45,658.98 L320.73,659.23 L322.02,659.48 L323.3,659.73 L324.58,659.98 L325.87,660.23 L327.15,660.48 L328.44,660.72 L329.72,660.97 L331.01,661.21 L332.3,661.45 L333.58,661.69 L334.87,661.93 L336.16,662.17 L337.45,662.4 L338.74,662.63 L340.02,662.87 L341.31,663.1 L342.6,663.33 L343.89,663.55 L345.18,663.78 L346.48,664 L347.77,664.23 L349.06,664.45 L350.36,664.67 L351.65,664.89 L352.95,665.1 L354.25,665.32 L355.55,665.53 L356.85,665.75 L358.16,665.96 L359.46,666.17 L360.77,666.37 L362.08,666.58 L363.39,666.79 L364.71,666.99 L366.03,667.19 L367.35,667.39 L368.67,667.59 L369.99,667.79 L371.32,667.99 L372.65,668.18 L373.98,668.38 L375.32,668.57 L376.66,668.76 L378,668.95 L379.35,669.14 L380.7,669.32 L382.05,669.51 L383.41,669.69 L384.77,669.88 L386.14,670.06 L387.5,670.24 L388.88,670.42 L390.25,670.59 L391.64,670.77 L393.02,670.95 L394.41,671.12 L395.81,671.29 L397.21,671.46 L398.61,671.63 L400.02,671.8 L401.44,671.97 L402.85,672.13 L404.28,672.3 L405.71,672.46 L407.15,672.62 L408.59,672.78 L410.03,672.94 L411.49,673.1 L412.94,673.26 L414.41,673.41 L415.88,673.57 L417.35,673.72 L418.84,673.87 L420.33,674.02 L421.82,674.17 L423.32,674.32 L424.83,674.47 L426.35,674.62 L427.87,674.76 L429.4,674.91 L430.93,675.05 L432.48,675.19 L434.03,675.33 L435.58,675.47 L437.15,675.61 L438.72,675.74 L440.3,675.88 L441.89,676.01 L443.49,676.15 L445.09,676.28 L446.7,676.41 L448.32,676.54 L449.95,676.67 L451.59,676.8 L453.24,676.93 L454.9,677.06 L456.57,677.18 L458.25,677.31 L459.95,677.43 L461.65,677.56 L463.37,677.68 L465.1,677.81 L466.85,677.93 L468.61,678.06 L470.39,678.18 L472.18,678.31 L473.99,678.43 L475.81,678.56 L477.66,678.69 L479.52,678.81 L481.39,678.94 L483.29,679.07 L485.2,679.2 L487.14,679.33 L489.09,679.46 L491.07,679.59 L493.07,679.72 L495.08,679.86 L497.12,679.99 L499.19,680.13 L501.27,680.27 L503.38,680.41 L505.52,680.55 L507.67,680.7 L509.86,680.84 L512.07,680.99 L514.3,681.14 L516.57,681.29 L518.85,681.45 L521.17,681.6 L523.52,681.76 L525.89,681.92 L528.29,682.09 L530.73,682.25 L533.19,682.42 L535.68,682.59 L538.21,682.77 L540.76,682.95 L543.35,683.13 L545.97,683.31 L548.63,683.5 L551.32,683.69 L554.04,683.89 L556.8,684.08 L559.59,684.29 L562.42,684.49 L565.28,684.7 L568.19,684.91 L571.12,685.13 L574.1,685.35 L577.12,685.58 L580.17,685.81 L583.26,686.04 L586.4,686.28 L589.57,686.52 L592.78,686.77 L596.04,687.02 L599.34,687.28 L602.68,687.54 L606.06,687.81 L609.48,688.08 L612.95,688.36 L616.47,688.64 L620.03,688.93 L623.63,689.22 L627.28,689.52 L630.98,689.82 L634.72,690.13 L638.51,690.45 L642.35,690.77" fill="none" stroke="#4BBDB3" stroke-width="3" stroke-dasharray="13.6 18" stroke-linecap="round" stroke-dashoffset="-2.0"/>
<path d="M128.6,541.3 L129.88,544.85 L131.14,548.34 L132.39,551.76 L133.62,555.13 L134.84,558.44 L136.04,561.69 L137.23,564.89 L138.4,568.02 L139.56,571.1 L140.7,574.12 L141.82,577.09 L142.94,580.01 L144.04,582.87 L145.12,585.67 L146.19,588.42 L147.25,591.13 L148.3,593.77 L149.33,596.37 L150.34,598.92 L151.35,601.42 L152.34,603.87 L153.32,606.27 L154.29,608.62 L155.24,610.92 L156.19,613.18 L157.12,615.39 L158.04,617.56 L158.94,619.68 L159.84,621.76 L160.73,623.79 L161.6,625.78 L162.46,627.73 L163.31,629.64 L164.16,631.5 L164.99,633.33 L165.81,635.11 L166.62,636.85 L167.42,638.56 L168.21,640.23 L168.99,641.86 L169.77,643.45 L170.53,645.01 L171.28,646.53 L172.03,648.02 L172.76,649.47 L173.49,650.89 L174.21,652.27 L174.92,653.62 L175.63,654.94 L176.32,656.23 L177.01,657.49 L177.69,658.72 L178.36,659.92 L179.03,661.09 L179.69,662.23 L180.34,663.34 L180.98,664.43 L181.62,665.48 L182.25,666.52 L182.88,667.53 L183.5,668.51 L184.11,669.47 L184.72,670.4 L185.32,671.32 L185.92,672.21 L186.51,673.08 L187.1,673.93 L187.68,674.75 L188.26,675.56 L188.83,676.35 L189.4,677.12 L189.97,677.87 L190.53,678.61 L191.08,679.33 L191.64,680.03 L192.19,680.71 L192.73,681.39 L193.28,682.04 L193.82,682.69 L194.35,683.32 L194.89,683.94 L195.42,684.54 L195.95,685.14 L196.48,685.72 L197,686.29 L197.53,686.85 L198.05,687.4 L198.57,687.94 L199.09,688.46 L199.61,688.98 L200.13,689.49 L200.64,689.98 L201.16,690.47 L201.67,690.95 L202.19,691.42 L202.7,691.88 L203.22,692.33 L203.73,692.77 L204.25,693.21 L204.77,693.64 L205.28,694.06 L205.8,694.47 L206.32,694.87 L206.84,695.27 L207.36,695.66 L207.88,696.05 L208.41,696.43 L208.94,696.8 L209.46,697.17 L210,697.53 L210.53,697.89 L211.06,698.24 L211.6,698.59 L212.14,698.94 L212.69,699.28 L213.24,699.61 L213.79,699.94 L214.34,700.27 L214.9,700.6 L215.46,700.92 L216.03,701.24 L216.6,701.56 L217.18,701.88 L217.76,702.19 L218.34,702.5 L218.93,702.81 L219.53,703.12 L220.13,703.43 L220.73,703.74 L221.34,704.04 L221.96,704.35 L222.58,704.66 L223.21,704.97 L223.85,705.27 L224.49,705.58 L225.13,705.89 L225.79,706.2 L226.45,706.52 L227.12,706.83 L227.8,707.15 L228.48,707.47 L229.17,707.79 L229.87,708.11 L230.58,708.44 L231.29,708.77 L232.02,709.11 L232.75,709.44 L233.49,709.78 L234.24,710.13 L235,710.48 L235.76,710.84 L236.54,711.2 L237.33,711.56 L238.12,711.93 L238.93,712.31 L239.74,712.69 L240.57,713.08 L241.41,713.48 L242.25,713.88 L243.11,714.29 L243.98,714.7 L244.86,715.13 L245.75,715.56 L246.65,715.99 L247.56,716.44 L248.47,716.88 L249.4,717.34 L250.34,717.8 L251.29,718.27 L252.25,718.74 L253.22,719.22 L254.19,719.7 L255.18,720.19 L256.18,720.69 L257.18,721.19 L258.19,721.69 L259.21,722.2 L260.24,722.72 L261.28,723.24 L262.33,723.76 L263.38,724.28 L264.44,724.82 L265.51,725.35 L266.59,725.89 L267.67,726.43 L268.76,726.98 L269.86,727.53 L270.97,728.08 L272.08,728.63 L273.2,729.19 L274.33,729.75 L275.46,730.32 L276.6,730.88 L277.75,731.45 L278.9,732.02 L280.05,732.59 L281.22,733.17 L282.39,733.74 L283.56,734.32 L284.74,734.9 L285.93,735.48 L287.12,736.06 L288.32,736.65 L289.52,737.23 L290.72,737.81 L291.93,738.4 L293.15,738.98 L294.37,739.57 L295.59,740.15 L296.82,740.74 L298.05,741.33 L299.28,741.91 L300.52,742.5 L301.76,743.08 L303.01,743.66 L304.26,744.25 L305.51,744.83 L306.77,745.41 L308.02,745.99 L309.28,746.57 L310.55,747.14 L311.81,747.72 L313.08,748.29 L314.35,748.86 L315.63,749.43 L316.9,750 L318.18,750.56 L319.45,751.12 L320.73,751.68 L322.02,752.24 L323.3,752.79 L324.58,753.34 L325.87,753.89 L327.15,754.43 L328.44,754.97 L329.72,755.51 L331.01,756.04 L332.3,756.57 L333.58,757.09 L334.87,757.61 L336.16,758.13 L337.45,758.64 L338.74,759.14 L340.02,759.65 L341.31,760.14 L342.6,760.64 L343.89,761.13 L345.18,761.62 L346.48,762.1 L347.77,762.58 L349.06,763.05 L350.36,763.52 L351.65,763.99 L352.95,764.46 L354.25,764.92 L355.55,765.37 L356.85,765.83 L358.16,766.28 L359.46,766.72 L360.77,767.17 L362.08,767.61 L363.39,768.04 L364.71,768.48 L366.03,768.91 L367.35,769.34 L368.67,769.76 L369.99,770.18 L371.32,770.6 L372.65,771.02 L373.98,771.43 L375.32,771.84 L376.66,772.25 L378,772.66 L379.35,773.06 L380.7,773.46 L382.05,773.86 L383.41,774.25 L384.77,774.64 L386.14,775.04 L387.5,775.42 L388.88,775.81 L390.25,776.19 L391.64,776.58 L393.02,776.96 L394.41,777.33 L395.81,777.71 L397.21,778.08 L398.61,778.46 L400.02,778.83 L401.44,779.2 L402.85,779.56 L404.28,779.93 L405.71,780.29 L407.15,780.66 L408.59,781.02 L410.03,781.38 L411.49,781.74 L412.94,782.09 L414.41,782.45 L415.88,782.8 L417.35,783.16 L418.84,783.51 L420.33,783.86 L421.82,784.21 L423.32,784.56 L424.83,784.91 L426.35,785.26 L427.87,785.6 L429.4,785.95 L430.93,786.3 L432.48,786.64 L434.03,786.99 L435.58,787.33 L437.15,787.67 L438.72,788.02 L440.3,788.36 L441.89,788.7 L443.49,789.05 L445.09,789.39 L446.7,789.73 L448.32,790.07 L449.95,790.41 L451.59,790.76 L453.24,791.1 L454.9,791.44 L456.57,791.78 L458.25,792.12 L459.95,792.47 L461.65,792.81 L463.37,793.15 L465.1,793.49 L466.85,793.84 L468.61,794.18 L470.39,794.52 L472.18,794.87 L473.99,795.21 L475.81,795.55 L477.66,795.9 L479.52,796.24 L481.39,796.59 L483.29,796.94 L485.2,797.28 L487.14,797.63 L489.09,797.98 L491.07,798.32 L493.07,798.67 L495.08,799.02 L497.12,799.37 L499.19,799.72 L501.27,800.07 L503.38,800.43 L505.52,800.78 L507.67,801.13 L509.86,801.49 L512.07,801.84 L514.3,802.2 L516.57,802.55 L518.85,802.91 L521.17,803.27 L523.52,803.63 L525.89,803.99 L528.29,804.35 L530.73,804.71 L533.19,805.08 L535.68,805.44 L538.21,805.81 L540.76,806.17 L543.35,806.54 L545.97,806.91 L548.63,807.28 L551.32,807.65 L554.04,808.03 L556.8,808.4 L559.59,808.78 L562.42,809.15 L565.28,809.53 L568.19,809.91 L571.12,810.29 L574.1,810.68 L577.12,811.06 L580.17,811.45 L583.26,811.83 L586.4,812.22 L589.57,812.61 L592.78,813 L596.04,813.4 L599.34,813.79 L602.68,814.19 L606.06,814.59 L609.48,814.99 L612.95,815.39 L616.47,815.8 L620.03,816.2 L623.63,816.61 L627.28,817.02 L630.98,817.43 L634.72,817.85 L638.51,818.26 L642.35,818.68" fill="none" stroke="#4BB5E4" stroke-width="3" stroke-dasharray="13.6 18" stroke-linecap="round" stroke-dashoffset="-1.5"/>
<path d="M128.6,541.3 L129.88,545.76 L131.14,550.13 L132.39,554.39 L133.62,558.56 L134.84,562.64 L136.04,566.62 L137.23,570.51 L138.4,574.31 L139.56,578.02 L140.7,581.64 L141.82,585.17 L142.94,588.62 L144.04,591.98 L145.12,595.26 L146.19,598.45 L147.25,601.57 L148.3,604.6 L149.33,607.55 L150.34,610.43 L151.35,613.23 L152.34,615.95 L153.32,618.6 L154.29,621.18 L155.24,623.69 L156.19,626.12 L157.12,628.49 L158.04,630.78 L158.94,633.01 L159.84,635.18 L160.73,637.28 L161.6,639.31 L162.46,641.29 L163.31,643.2 L164.16,645.05 L164.99,646.85 L165.81,648.58 L166.62,650.26 L167.42,651.89 L168.21,653.46 L168.99,654.98 L169.77,656.45 L170.53,657.87 L171.28,659.24 L172.03,660.56 L172.76,661.83 L173.49,663.06 L174.21,664.25 L174.92,665.39 L175.63,666.49 L176.32,667.55 L177.01,668.57 L177.69,669.55 L178.36,670.5 L179.03,671.41 L179.69,672.28 L180.34,673.13 L180.98,673.94 L181.62,674.72 L182.25,675.46 L182.88,676.19 L183.5,676.88 L184.11,677.55 L184.72,678.19 L185.32,678.81 L185.92,679.41 L186.51,679.98 L187.1,680.54 L187.68,681.07 L188.26,681.59 L188.83,682.09 L189.4,682.58 L189.97,683.05 L190.53,683.51 L191.08,683.96 L191.64,684.4 L192.19,684.83 L192.73,685.25 L193.28,685.67 L193.82,686.07 L194.35,686.48 L194.89,686.88 L195.42,687.28 L195.95,687.67 L196.48,688.06 L197,688.45 L197.53,688.83 L198.05,689.22 L198.57,689.59 L199.09,689.97 L199.61,690.35 L200.13,690.72 L200.64,691.09 L201.16,691.45 L201.67,691.82 L202.19,692.18 L202.7,692.54 L203.22,692.9 L203.73,693.26 L204.25,693.61 L204.77,693.97 L205.28,694.32 L205.8,694.67 L206.32,695.02 L206.84,695.37 L207.36,695.72 L207.88,696.06 L208.41,696.41 L208.94,696.75 L209.46,697.1 L210,697.44 L210.53,697.78 L211.06,698.12 L211.6,698.47 L212.14,698.81 L212.69,699.15 L213.24,699.49 L213.79,699.83 L214.34,700.17 L214.9,700.51 L215.46,700.86 L216.03,701.2 L216.6,701.54 L217.18,701.89 L217.76,702.23 L218.34,702.58 L218.93,702.92 L219.53,703.27 L220.13,703.62 L220.73,703.97 L221.34,704.32 L221.96,704.67 L222.58,705.02 L223.21,705.38 L223.85,705.73 L224.49,706.09 L225.13,706.45 L225.79,706.82 L226.45,707.18 L227.12,707.55 L227.8,707.92 L228.48,708.29 L229.17,708.66 L229.87,709.04 L230.58,709.42 L231.29,709.8 L232.02,710.18 L232.75,710.57 L233.49,710.96 L234.24,711.35 L235,711.75 L235.76,712.15 L236.54,712.55 L237.33,712.96 L238.12,713.37 L238.93,713.78 L239.74,714.2 L240.57,714.62 L241.41,715.05 L242.25,715.48 L243.11,715.91 L243.98,716.35 L244.86,716.79 L245.75,717.24 L246.65,717.69 L247.56,718.15 L248.47,718.6 L249.4,719.07 L250.34,719.53 L251.29,720 L252.25,720.47 L253.22,720.95 L254.19,721.43 L255.18,721.91 L256.18,722.4 L257.18,722.89 L258.19,723.38 L259.21,723.87 L260.24,724.37 L261.28,724.87 L262.33,725.38 L263.38,725.88 L264.44,726.39 L265.51,726.9 L266.59,727.41 L267.67,727.93 L268.76,728.45 L269.86,728.97 L270.97,729.49 L272.08,730.02 L273.2,730.54 L274.33,731.07 L275.46,731.6 L276.6,732.13 L277.75,732.67 L278.9,733.2 L280.05,733.74 L281.22,734.28 L282.39,734.82 L283.56,735.36 L284.74,735.9 L285.93,736.44 L287.12,736.99 L288.32,737.53 L289.52,738.08 L290.72,738.63 L291.93,739.17 L293.15,739.72 L294.37,740.27 L295.59,740.82 L296.82,741.37 L298.05,741.92 L299.28,742.47 L300.52,743.02 L301.76,743.57 L303.01,744.12 L304.26,744.67 L305.51,745.22 L306.77,745.77 L308.02,746.32 L309.28,746.87 L310.55,747.42 L311.81,747.97 L313.08,748.52 L314.35,749.07 L315.63,749.61 L316.9,750.16 L318.18,750.7 L319.45,751.25 L320.73,751.79 L322.02,752.33 L323.3,752.87 L324.58,753.41 L325.87,753.95 L327.15,754.49 L328.44,755.02 L329.72,755.56 L331.01,756.09 L332.3,756.62 L333.58,757.15 L334.87,757.67 L336.16,758.2 L337.45,758.72 L338.74,759.24 L340.02,759.76 L341.31,760.28 L342.6,760.79 L343.89,761.31 L345.18,761.82 L346.48,762.33 L347.77,762.83 L349.06,763.34 L350.36,763.84 L351.65,764.35 L352.95,764.84 L354.25,765.34 L355.55,765.84 L356.85,766.33 L358.16,766.82 L359.46,767.31 L360.77,767.8 L362.08,768.29 L363.39,768.77 L364.71,769.25 L366.03,769.73 L367.35,770.21 L368.67,770.69 L369.99,771.16 L371.32,771.63 L372.65,772.1 L373.98,772.57 L375.32,773.04 L376.66,773.5 L378,773.96 L379.35,774.42 L380.7,774.88 L382.05,775.34 L383.41,775.79 L384.77,776.24 L386.14,776.69 L387.5,777.14 L388.88,777.59 L390.25,778.03 L391.64,778.47 L393.02,778.91 L394.41,779.35 L395.81,779.79 L397.21,780.22 L398.61,780.66 L400.02,781.09 L401.44,781.51 L402.85,781.94 L404.28,782.36 L405.71,782.79 L407.15,783.2 L408.59,783.62 L410.03,784.04 L411.49,784.45 L412.94,784.86 L414.41,785.27 L415.88,785.68 L417.35,786.09 L418.84,786.49 L420.33,786.89 L421.82,787.29 L423.32,787.69 L424.83,788.08 L426.35,788.48 L427.87,788.87 L429.4,789.26 L430.93,789.65 L432.48,790.03 L434.03,790.41 L435.58,790.79 L437.15,791.17 L438.72,791.55 L440.3,791.92 L441.89,792.3 L443.49,792.67 L445.09,793.04 L446.7,793.4 L448.32,793.77 L449.95,794.13 L451.59,794.49 L453.24,794.85 L454.9,795.21 L456.57,795.56 L458.25,795.92 L459.95,796.27 L461.65,796.63 L463.37,796.98 L465.1,797.33 L466.85,797.69 L468.61,798.04 L470.39,798.39 L472.18,798.74 L473.99,799.1 L475.81,799.45 L477.66,799.8 L479.52,800.16 L481.39,800.51 L483.29,800.87 L485.2,801.23 L487.14,801.59 L489.09,801.95 L491.07,802.31 L493.07,802.67 L495.08,803.04 L497.12,803.41 L499.19,803.78 L501.27,804.15 L503.38,804.52 L505.52,804.9 L507.67,805.28 L509.86,805.66 L512.07,806.05 L514.3,806.44 L516.57,806.83 L518.85,807.23 L521.17,807.63 L523.52,808.03 L525.89,808.44 L528.29,808.85 L530.73,809.27 L533.19,809.69 L535.68,810.12 L538.21,810.55 L540.76,810.98 L543.35,811.42 L545.97,811.87 L548.63,812.32 L551.32,812.77 L554.04,813.23 L556.8,813.7 L559.59,814.18 L562.42,814.66 L565.28,815.14 L568.19,815.63 L571.12,816.13 L574.1,816.64 L577.12,817.15 L580.17,817.67 L583.26,818.2 L586.4,818.73 L589.57,819.27 L592.78,819.82 L596.04,820.38 L599.34,820.94 L602.68,821.51 L606.06,822.09 L609.48,822.68 L612.95,823.28 L616.47,823.89 L620.03,824.5 L623.63,825.12 L627.28,825.76 L630.98,826.4 L634.72,827.05 L638.51,827.71 L642.35,828.38" fill="none" stroke="#FC9A73" stroke-width="3" stroke-dasharray="13.6 18" stroke-linecap="round" stroke-dashoffset="-1.5"/>
<path d="M128.6,541.3 L129.88,541.51 L131.14,541.73 L132.39,541.93 L133.62,542.14 L134.84,542.34 L136.04,542.54 L137.23,542.73 L138.4,542.92 L139.56,543.11 L140.7,543.3 L141.82,543.48 L142.94,543.66 L144.04,543.83 L145.12,544 L146.19,544.17 L147.25,544.34 L148.3,544.5 L149.33,544.66 L150.34,544.82 L151.35,544.97 L152.34,545.12 L153.32,545.27 L154.29,545.42 L155.24,545.56 L156.19,545.7 L157.12,545.84 L158.04,545.97 L158.94,546.1 L159.84,546.23 L160.73,546.36 L161.6,546.48 L162.46,546.6 L163.31,546.72 L164.16,546.83 L164.99,546.94 L165.81,547.05 L166.62,547.16 L167.42,547.26 L168.21,547.36 L168.99,547.46 L169.77,547.56 L170.53,547.65 L171.28,547.74 L172.03,547.83 L172.76,547.92 L173.49,548 L174.21,548.09 L174.92,548.16 L175.63,548.24 L176.32,548.32 L177.01,548.39 L177.69,548.46 L178.36,548.53 L179.03,548.59 L179.69,548.65 L180.34,548.72 L180.98,548.77 L181.62,548.83 L182.25,548.88 L182.88,548.94 L183.5,548.99 L184.11,549.04 L184.72,549.08 L185.32,549.13 L185.92,549.17 L186.51,549.21 L187.1,549.24 L187.68,549.28 L188.26,549.31 L188.83,549.35 L189.4,549.38 L189.97,549.41 L190.53,549.43 L191.08,549.46 L191.64,549.48 L192.19,549.5 L192.73,549.52 L193.28,549.54 L193.82,549.55 L194.35,549.57 L194.89,549.58 L195.42,549.59 L195.95,549.6 L196.48,549.61 L197,549.61 L197.53,549.62 L198.05,549.62 L198.57,549.62 L199.09,549.62 L199.61,549.62 L200.13,549.62 L200.64,549.61 L201.16,549.61 L201.67,549.6 L202.19,549.6 L202.7,549.59 L203.22,549.58 L203.73,549.57 L204.25,549.56 L204.77,549.55 L205.28,549.53 L205.8,549.52 L206.32,549.51 L206.84,549.49 L207.36,549.47 L207.88,549.46 L208.41,549.44 L208.94,549.42 L209.46,549.4 L210,549.38 L210.53,549.37 L211.06,549.35 L211.6,549.33 L212.14,549.3 L212.69,549.28 L213.24,549.26 L213.79,549.24 L214.34,549.22 L214.9,549.2 L215.46,549.18 L216.03,549.15 L216.6,549.13 L217.18,549.11 L217.76,549.09 L218.34,549.07 L218.93,549.04 L219.53,549.02 L220.13,549 L220.73,548.98 L221.34,548.96 L221.96,548.94 L222.58,548.92 L223.21,548.9 L223.85,548.88 L224.49,548.86 L225.13,548.84 L225.79,548.82 L226.45,548.81 L227.12,548.79 L227.8,548.78 L228.48,548.76 L229.17,548.75 L229.87,548.73 L230.58,548.72 L231.29,548.71 L232.02,548.7 L232.75,548.69 L233.49,548.68 L234.24,548.67 L235,548.67 L235.76,548.66 L236.54,548.66 L237.33,548.65 L238.12,548.65 L238.93,548.65 L239.74,548.65 L240.57,548.65 L241.41,548.66 L242.25,548.66 L243.11,548.67 L243.98,548.68 L244.86,548.69 L245.75,548.7 L246.65,548.71 L247.56,548.72 L248.47,548.74 L249.4,548.76 L250.34,548.77 L251.29,548.79 L252.25,548.81 L253.22,548.83 L254.19,548.86 L255.18,548.88 L256.18,548.91 L257.18,548.93 L258.19,548.96 L259.21,548.99 L260.24,549.02 L261.28,549.05 L262.33,549.08 L263.38,549.12 L264.44,549.15 L265.51,549.18 L266.59,549.22 L267.67,549.26 L268.76,549.29 L269.86,549.33 L270.97,549.37 L272.08,549.41 L273.2,549.45 L274.33,549.49 L275.46,549.53 L276.6,549.57 L277.75,549.62 L278.9,549.66 L280.05,549.7 L281.22,549.75 L282.39,549.79 L283.56,549.84 L284.74,549.89 L285.93,549.93 L287.12,549.98 L288.32,550.03 L289.52,550.08 L290.72,550.12 L291.93,550.17 L293.15,550.22 L294.37,550.27 L295.59,550.32 L296.82,550.37 L298.05,550.42 L299.28,550.47 L300.52,550.52 L301.76,550.57 L303.01,550.62 L304.26,550.67 L305.51,550.72 L306.77,550.77 L308.02,550.82 L309.28,550.87 L310.55,550.92 L311.81,550.96 L313.08,551.01 L314.35,551.06 L315.63,551.11 L316.9,551.16 L318.18,551.21 L319.45,551.26 L320.73,551.31 L322.02,551.35 L323.3,551.4 L324.58,551.45 L325.87,551.49 L327.15,551.54 L328.44,551.59 L329.72,551.63 L331.01,551.68 L332.3,551.72 L333.58,551.76 L334.87,551.81 L336.16,551.85 L337.45,551.89 L338.74,551.93 L340.02,551.97 L341.31,552.01 L342.6,552.05 L343.89,552.09 L345.18,552.13 L346.48,552.16 L347.77,552.2 L349.06,552.24 L350.36,552.27 L351.65,552.31 L352.95,552.34 L354.25,552.37 L355.55,552.41 L356.85,552.44 L358.16,552.47 L359.46,552.5 L360.77,552.54 L362.08,552.57 L363.39,552.6 L364.71,552.63 L366.03,552.66 L367.35,552.69 L368.67,552.71 L369.99,552.74 L371.32,552.77 L372.65,552.8 L373.98,552.82 L375.32,552.85 L376.66,552.87 L378,552.9 L379.35,552.92 L380.7,552.95 L382.05,552.97 L383.41,552.99 L384.77,553.02 L386.14,553.04 L387.5,553.06 L388.88,553.08 L390.25,553.1 L391.64,553.12 L393.02,553.14 L394.41,553.16 L395.81,553.18 L397.21,553.2 L398.61,553.22 L400.02,553.24 L401.44,553.26 L402.85,553.27 L404.28,553.29 L405.71,553.31 L407.15,553.32 L408.59,553.34 L410.03,553.36 L411.49,553.37 L412.94,553.39 L414.41,553.4 L415.88,553.42 L417.35,553.43 L418.84,553.44 L420.33,553.46 L421.82,553.47 L423.32,553.48 L424.83,553.5 L426.35,553.51 L427.87,553.52 L429.4,553.53 L430.93,553.54 L432.48,553.55 L434.03,553.56 L435.58,553.58 L437.15,553.59 L438.72,553.6 L440.3,553.61 L441.89,553.62 L443.49,553.62 L445.09,553.63 L446.7,553.64 L448.32,553.65 L449.95,553.66 L451.59,553.67 L453.24,553.68 L454.9,553.69 L456.57,553.69 L458.25,553.7 L459.95,553.71 L461.65,553.72 L463.37,553.73 L465.1,553.74 L466.85,553.75 L468.61,553.76 L470.39,553.77 L472.18,553.78 L473.99,553.79 L475.81,553.8 L477.66,553.82 L479.52,553.83 L481.39,553.84 L483.29,553.86 L485.2,553.87 L487.14,553.89 L489.09,553.9 L491.07,553.92 L493.07,553.94 L495.08,553.96 L497.12,553.98 L499.19,554 L501.27,554.03 L503.38,554.05 L505.52,554.08 L507.67,554.1 L509.86,554.13 L512.07,554.16 L514.3,554.19 L516.57,554.22 L518.85,554.26 L521.17,554.29 L523.52,554.33 L525.89,554.37 L528.29,554.41 L530.73,554.45 L533.19,554.49 L535.68,554.54 L538.21,554.58 L540.76,554.63 L543.35,554.68 L545.97,554.74 L548.63,554.79 L551.32,554.85 L554.04,554.91 L556.8,554.97 L559.59,555.03 L562.42,555.1 L565.28,555.17 L568.19,555.24 L571.12,555.31 L574.1,555.38 L577.12,555.46 L580.17,555.54 L583.26,555.62 L586.4,555.71 L589.57,555.8 L592.78,555.89 L596.04,555.98 L599.34,556.08 L602.68,556.18 L606.06,556.28 L609.48,556.38 L612.95,556.49 L616.47,556.6 L620.03,556.72 L623.63,556.83 L627.28,556.95 L630.98,557.08 L634.72,557.21 L638.51,557.34 L642.35,557.47" fill="none" stroke="#BED62F" stroke-width="3" stroke-dasharray="13.6 18" stroke-linecap="round" stroke-dashoffset="-0.2"/>
<path d="M128.6,541.3 L129.88,545.91 L131.14,550.41 L132.39,554.81 L133.62,559.11 L134.84,563.31 L136.04,567.4 L137.23,571.4 L138.4,575.31 L139.56,579.12 L140.7,582.83 L141.82,586.45 L142.94,589.98 L144.04,593.42 L145.12,596.78 L146.19,600.04 L147.25,603.22 L148.3,606.31 L149.33,609.32 L150.34,612.25 L151.35,615.1 L152.34,617.87 L153.32,620.56 L154.29,623.17 L155.24,625.71 L156.19,628.17 L157.12,630.56 L158.04,632.88 L158.94,635.13 L159.84,637.31 L160.73,639.43 L161.6,641.47 L162.46,643.45 L163.31,645.37 L164.16,647.23 L164.99,649.02 L165.81,650.76 L166.62,652.43 L167.42,654.05 L168.21,655.62 L168.99,657.12 L169.77,658.58 L170.53,659.98 L171.28,661.34 L172.03,662.64 L172.76,663.9 L173.49,665.11 L174.21,666.28 L174.92,667.4 L175.63,668.48 L176.32,669.51 L177.01,670.51 L177.69,671.47 L178.36,672.39 L179.03,673.28 L179.69,674.13 L180.34,674.95 L180.98,675.73 L181.62,676.49 L182.25,677.22 L182.88,677.91 L183.5,678.58 L184.11,679.23 L184.72,679.85 L185.32,680.45 L185.92,681.03 L186.51,681.58 L187.1,682.12 L187.68,682.64 L188.26,683.15 L188.83,683.64 L189.4,684.11 L189.97,684.58 L190.53,685.03 L191.08,685.47 L191.64,685.91 L192.19,686.34 L192.73,686.76 L193.28,687.18 L193.82,687.59 L194.35,688.01 L194.89,688.42 L195.42,688.83 L195.95,689.24 L196.48,689.65 L197,690.07 L197.53,690.48 L198.05,690.89 L198.57,691.3 L199.09,691.71 L199.61,692.11 L200.13,692.52 L200.64,692.93 L201.16,693.34 L201.67,693.75 L202.19,694.16 L202.7,694.57 L203.22,694.98 L203.73,695.39 L204.25,695.81 L204.77,696.22 L205.28,696.63 L205.8,697.04 L206.32,697.46 L206.84,697.87 L207.36,698.28 L207.88,698.7 L208.41,699.12 L208.94,699.53 L209.46,699.95 L210,700.37 L210.53,700.79 L211.06,701.21 L211.6,701.64 L212.14,702.06 L212.69,702.49 L213.24,702.91 L213.79,703.34 L214.34,703.77 L214.9,704.21 L215.46,704.64 L216.03,705.07 L216.6,705.51 L217.18,705.95 L217.76,706.39 L218.34,706.83 L218.93,707.28 L219.53,707.72 L220.13,708.17 L220.73,708.62 L221.34,709.07 L221.96,709.53 L222.58,709.99 L223.21,710.45 L223.85,710.91 L224.49,711.37 L225.13,711.84 L225.79,712.31 L226.45,712.78 L227.12,713.26 L227.8,713.74 L228.48,714.22 L229.17,714.7 L229.87,715.19 L230.58,715.68 L231.29,716.17 L232.02,716.67 L232.75,717.17 L233.49,717.67 L234.24,718.18 L235,718.69 L235.76,719.2 L236.54,719.72 L237.33,720.24 L238.12,720.76 L238.93,721.29 L239.74,721.82 L240.57,722.36 L241.41,722.89 L242.25,723.44 L243.11,723.98 L243.98,724.53 L244.86,725.09 L245.75,725.65 L246.65,726.21 L247.56,726.77 L248.47,727.34 L249.4,727.92 L250.34,728.49 L251.29,729.07 L252.25,729.65 L253.22,730.24 L254.19,730.83 L255.18,731.42 L256.18,732.01 L257.18,732.61 L258.19,733.21 L259.21,733.81 L260.24,734.42 L261.28,735.03 L262.33,735.64 L263.38,736.25 L264.44,736.86 L265.51,737.48 L266.59,738.1 L267.67,738.72 L268.76,739.34 L269.86,739.96 L270.97,740.59 L272.08,741.22 L273.2,741.85 L274.33,742.48 L275.46,743.11 L276.6,743.74 L277.75,744.37 L278.9,745.01 L280.05,745.64 L281.22,746.28 L282.39,746.92 L283.56,747.56 L284.74,748.19 L285.93,748.83 L287.12,749.47 L288.32,750.11 L289.52,750.75 L290.72,751.39 L291.93,752.04 L293.15,752.68 L294.37,753.32 L295.59,753.96 L296.82,754.6 L298.05,755.24 L299.28,755.88 L300.52,756.52 L301.76,757.16 L303.01,757.79 L304.26,758.43 L305.51,759.07 L306.77,759.7 L308.02,760.34 L309.28,760.97 L310.55,761.6 L311.81,762.24 L313.08,762.87 L314.35,763.49 L315.63,764.12 L316.9,764.75 L318.18,765.37 L319.45,765.99 L320.73,766.61 L322.02,767.23 L323.3,767.85 L324.58,768.46 L325.87,769.07 L327.15,769.68 L328.44,770.29 L329.72,770.89 L331.01,771.49 L332.3,772.09 L333.58,772.69 L334.87,773.28 L336.16,773.88 L337.45,774.46 L338.74,775.05 L340.02,775.63 L341.31,776.21 L342.6,776.79 L343.89,777.37 L345.18,777.94 L346.48,778.51 L347.77,779.07 L349.06,779.64 L350.36,780.2 L351.65,780.76 L352.95,781.32 L354.25,781.87 L355.55,782.42 L356.85,782.97 L358.16,783.52 L359.46,784.06 L360.77,784.6 L362.08,785.14 L363.39,785.68 L364.71,786.22 L366.03,786.75 L367.35,787.28 L368.67,787.81 L369.99,788.33 L371.32,788.86 L372.65,789.38 L373.98,789.9 L375.32,790.41 L376.66,790.93 L378,791.44 L379.35,791.95 L380.7,792.46 L382.05,792.97 L383.41,793.47 L384.77,793.97 L386.14,794.47 L387.5,794.97 L388.88,795.47 L390.25,795.96 L391.64,796.45 L393.02,796.94 L394.41,797.43 L395.81,797.92 L397.21,798.4 L398.61,798.89 L400.02,799.37 L401.44,799.85 L402.85,800.33 L404.28,800.8 L405.71,801.28 L407.15,801.75 L408.59,802.22 L410.03,802.69 L411.49,803.16 L412.94,803.62 L414.41,804.09 L415.88,804.55 L417.35,805.01 L418.84,805.47 L420.33,805.93 L421.82,806.39 L423.32,806.84 L424.83,807.3 L426.35,807.75 L427.87,808.2 L429.4,808.65 L430.93,809.1 L432.48,809.55 L434.03,810 L435.58,810.44 L437.15,810.88 L438.72,811.33 L440.3,811.77 L441.89,812.21 L443.49,812.65 L445.09,813.08 L446.7,813.52 L448.32,813.95 L449.95,814.39 L451.59,814.82 L453.24,815.25 L454.9,815.69 L456.57,816.12 L458.25,816.55 L459.95,816.98 L461.65,817.4 L463.37,817.83 L465.1,818.26 L466.85,818.69 L468.61,819.11 L470.39,819.54 L472.18,819.96 L473.99,820.39 L475.81,820.81 L477.66,821.24 L479.52,821.66 L481.39,822.09 L483.29,822.51 L485.2,822.94 L487.14,823.36 L489.09,823.79 L491.07,824.21 L493.07,824.64 L495.08,825.06 L497.12,825.49 L499.19,825.91 L501.27,826.34 L503.38,826.77 L505.52,827.2 L507.67,827.62 L509.86,828.05 L512.07,828.48 L514.3,828.91 L516.57,829.34 L518.85,829.78 L521.17,830.21 L523.52,830.64 L525.89,831.08 L528.29,831.51 L530.73,831.95 L533.19,832.39 L535.68,832.83 L538.21,833.27 L540.76,833.71 L543.35,834.15 L545.97,834.6 L548.63,835.04 L551.32,835.49 L554.04,835.94 L556.8,836.39 L559.59,836.84 L562.42,837.3 L565.28,837.76 L568.19,838.21 L571.12,838.67 L574.1,839.13 L577.12,839.6 L580.17,840.06 L583.26,840.53 L586.4,841 L589.57,841.47 L592.78,841.95 L596.04,842.43 L599.34,842.91 L602.68,843.39 L606.06,843.87 L609.48,844.36 L612.95,844.85 L616.47,845.34 L620.03,845.83 L623.63,846.33 L627.28,846.83 L630.98,847.33 L634.72,847.84 L638.51,848.35 L642.35,848.86" fill="none" stroke="#F48495" stroke-width="3" stroke-dasharray="13.6 18" stroke-linecap="round" stroke-dashoffset="-0.5"/>
<path d="M128.6,541.3 L129.88,544.63 L131.14,547.9 L132.39,551.1 L133.62,554.25 L134.84,557.33 L136.04,560.35 L137.23,563.31 L138.4,566.21 L139.56,569.06 L140.7,571.84 L141.82,574.57 L142.94,577.24 L144.04,579.86 L145.12,582.42 L146.19,584.93 L147.25,587.38 L148.3,589.78 L149.33,592.13 L150.34,594.42 L151.35,596.67 L152.34,598.86 L153.32,601.01 L154.29,603.1 L155.24,605.15 L156.19,607.15 L157.12,609.11 L158.04,611.01 L158.94,612.88 L159.84,614.69 L160.73,616.47 L161.6,618.2 L162.46,619.89 L163.31,621.53 L164.16,623.14 L164.99,624.7 L165.81,626.23 L166.62,627.72 L167.42,629.16 L168.21,630.57 L168.99,631.95 L169.77,633.28 L170.53,634.58 L171.28,635.85 L172.03,637.08 L172.76,638.28 L173.49,639.45 L174.21,640.58 L174.92,641.68 L175.63,642.75 L176.32,643.79 L177.01,644.81 L177.69,645.79 L178.36,646.75 L179.03,647.67 L179.69,648.58 L180.34,649.45 L180.98,650.3 L181.62,651.13 L182.25,651.93 L182.88,652.71 L183.5,653.47 L184.11,654.21 L184.72,654.92 L185.32,655.62 L185.92,656.29 L186.51,656.95 L187.1,657.58 L187.68,658.21 L188.26,658.81 L188.83,659.4 L189.4,659.97 L189.97,660.53 L190.53,661.07 L191.08,661.6 L191.64,662.12 L192.19,662.62 L192.73,663.12 L193.28,663.6 L193.82,664.08 L194.35,664.54 L194.89,665 L195.42,665.45 L195.95,665.89 L196.48,666.32 L197,666.74 L197.53,667.16 L198.05,667.57 L198.57,667.97 L199.09,668.36 L199.61,668.75 L200.13,669.13 L200.64,669.5 L201.16,669.86 L201.67,670.22 L202.19,670.57 L202.7,670.91 L203.22,671.25 L203.73,671.58 L204.25,671.91 L204.77,672.23 L205.28,672.54 L205.8,672.85 L206.32,673.15 L206.84,673.45 L207.36,673.74 L207.88,674.02 L208.41,674.3 L208.94,674.58 L209.46,674.85 L210,675.11 L210.53,675.37 L211.06,675.63 L211.6,675.88 L212.14,676.13 L212.69,676.37 L213.24,676.61 L213.79,676.85 L214.34,677.08 L214.9,677.31 L215.46,677.53 L216.03,677.75 L216.6,677.97 L217.18,678.18 L217.76,678.4 L218.34,678.6 L218.93,678.81 L219.53,679.01 L220.13,679.21 L220.73,679.41 L221.34,679.61 L221.96,679.8 L222.58,680 L223.21,680.19 L223.85,680.37 L224.49,680.56 L225.13,680.75 L225.79,680.93 L226.45,681.11 L227.12,681.3 L227.8,681.48 L228.48,681.66 L229.17,681.84 L229.87,682.02 L230.58,682.19 L231.29,682.37 L232.02,682.55 L232.75,682.73 L233.49,682.91 L234.24,683.09 L235,683.26 L235.76,683.44 L236.54,683.62 L237.33,683.8 L238.12,683.98 L238.93,684.17 L239.74,684.35 L240.57,684.53 L241.41,684.72 L242.25,684.91 L243.11,685.1 L243.98,685.29 L244.86,685.48 L245.75,685.67 L246.65,685.87 L247.56,686.06 L248.47,686.26 L249.4,686.46 L250.34,686.66 L251.29,686.87 L252.25,687.07 L253.22,687.28 L254.19,687.48 L255.18,687.69 L256.18,687.9 L257.18,688.11 L258.19,688.33 L259.21,688.54 L260.24,688.75 L261.28,688.97 L262.33,689.18 L263.38,689.4 L264.44,689.62 L265.51,689.84 L266.59,690.06 L267.67,690.28 L268.76,690.5 L269.86,690.73 L270.97,690.95 L272.08,691.17 L273.2,691.4 L274.33,691.62 L275.46,691.85 L276.6,692.08 L277.75,692.31 L278.9,692.53 L280.05,692.76 L281.22,692.99 L282.39,693.22 L283.56,693.45 L284.74,693.68 L285.93,693.91 L287.12,694.15 L288.32,694.38 L289.52,694.61 L290.72,694.84 L291.93,695.08 L293.15,695.31 L294.37,695.54 L295.59,695.77 L296.82,696.01 L298.05,696.24 L299.28,696.47 L300.52,696.71 L301.76,696.94 L303.01,697.17 L304.26,697.41 L305.51,697.64 L306.77,697.87 L308.02,698.1 L309.28,698.34 L310.55,698.57 L311.81,698.8 L313.08,699.03 L314.35,699.26 L315.63,699.49 L316.9,699.72 L318.18,699.95 L319.45,700.18 L320.73,700.41 L322.02,700.64 L323.3,700.86 L324.58,701.09 L325.87,701.32 L327.15,701.54 L328.44,701.77 L329.72,701.99 L331.01,702.21 L332.3,702.44 L333.58,702.66 L334.87,702.88 L336.16,703.1 L337.45,703.32 L338.74,703.53 L340.02,703.75 L341.31,703.97 L342.6,704.18 L343.89,704.4 L345.18,704.61 L346.48,704.83 L347.77,705.04 L349.06,705.25 L350.36,705.46 L351.65,705.67 L352.95,705.88 L354.25,706.09 L355.55,706.3 L356.85,706.51 L358.16,706.72 L359.46,706.93 L360.77,707.14 L362.08,707.34 L363.39,707.55 L364.71,707.76 L366.03,707.96 L367.35,708.17 L368.67,708.38 L369.99,708.58 L371.32,708.79 L372.65,708.99 L373.98,709.2 L375.32,709.4 L376.66,709.61 L378,709.81 L379.35,710.02 L380.7,710.22 L382.05,710.43 L383.41,710.63 L384.77,710.84 L386.14,711.04 L387.5,711.25 L388.88,711.45 L390.25,711.66 L391.64,711.86 L393.02,712.07 L394.41,712.28 L395.81,712.48 L397.21,712.69 L398.61,712.9 L400.02,713.1 L401.44,713.31 L402.85,713.52 L404.28,713.73 L405.71,713.94 L407.15,714.15 L408.59,714.36 L410.03,714.57 L411.49,714.78 L412.94,714.99 L414.41,715.2 L415.88,715.41 L417.35,715.63 L418.84,715.84 L420.33,716.06 L421.82,716.27 L423.32,716.49 L424.83,716.71 L426.35,716.93 L427.87,717.14 L429.4,717.36 L430.93,717.59 L432.48,717.81 L434.03,718.03 L435.58,718.25 L437.15,718.48 L438.72,718.7 L440.3,718.93 L441.89,719.16 L443.49,719.39 L445.09,719.62 L446.7,719.85 L448.32,720.08 L449.95,720.31 L451.59,720.55 L453.24,720.78 L454.9,721.02 L456.57,721.26 L458.25,721.5 L459.95,721.75 L461.65,721.99 L463.37,722.24 L465.1,722.49 L466.85,722.74 L468.61,722.99 L470.39,723.25 L472.18,723.5 L473.99,723.76 L475.81,724.03 L477.66,724.29 L479.52,724.56 L481.39,724.83 L483.29,725.1 L485.2,725.38 L487.14,725.65 L489.09,725.94 L491.07,726.22 L493.07,726.51 L495.08,726.8 L497.12,727.09 L499.19,727.39 L501.27,727.69 L503.38,728 L505.52,728.3 L507.67,728.62 L509.86,728.93 L512.07,729.25 L514.3,729.57 L516.57,729.9 L518.85,730.23 L521.17,730.57 L523.52,730.91 L525.89,731.25 L528.29,731.6 L530.73,731.95 L533.19,732.31 L535.68,732.67 L538.21,733.04 L540.76,733.41 L543.35,733.79 L545.97,734.17 L548.63,734.55 L551.32,734.94 L554.04,735.34 L556.8,735.74 L559.59,736.15 L562.42,736.56 L565.28,736.98 L568.19,737.4 L571.12,737.83 L574.1,738.26 L577.12,738.7 L580.17,739.15 L583.26,739.6 L586.4,740.06 L589.57,740.52 L592.78,740.99 L596.04,741.47 L599.34,741.95 L602.68,742.44 L606.06,742.93 L609.48,743.44 L612.95,743.94 L616.47,744.46 L620.03,744.98 L623.63,745.51 L627.28,746.04 L630.98,746.59 L634.72,747.14 L638.51,747.69 L642.35,748.26" fill="none" stroke="#3F82C1" stroke-width="3" stroke-dasharray="13.6 18" stroke-linecap="round" stroke-dashoffset="-1.0"/>
<polygon points="140.8,541.3 121.8,530.7 121.8,551.9" fill="#BED62F"/>
<path d="M162.85,543.46 V550.64 M157.85,543.46 H167.85 M157.85,550.64 H167.85" stroke="#BED62F" stroke-width="2.6" fill="none"/>
<polygon points="175.05,547.05 156.05,536.45 156.05,557.65" fill="#BED62F"/>
<path d="M197.1,538.78 V563.94 M192.1,538.78 H202.1 M192.1,563.94 H202.1" stroke="#BED62F" stroke-width="2.6" fill="none"/>
<polygon points="209.3,551.36 190.3,540.76 190.3,561.96" fill="#BED62F"/>
<path d="M231.35,532.68 V561.42 M226.35,532.68 H236.35 M226.35,561.42 H236.35" stroke="#BED62F" stroke-width="2.6" fill="none"/>
<polygon points="243.55,547.05 224.55,536.45 224.55,557.65" fill="#BED62F"/>
<path d="M334.1,539.14 V565.73 M329.1,539.14 H339.1 M329.1,565.73 H339.1" stroke="#BED62F" stroke-width="2.6" fill="none"/>
<polygon points="346.3,552.44 327.3,541.84 327.3,563.04" fill="#BED62F"/>
<path d="M436.85,539.86 V567.89 M431.85,539.86 H441.85 M431.85,567.89 H441.85" stroke="#BED62F" stroke-width="2.6" fill="none"/>
<polygon points="449.05,553.88 430.05,543.28 430.05,564.48" fill="#BED62F"/>
<path d="M539.6,541.3 V566.45 M534.6,541.3 H544.6 M534.6,566.45 H544.6" stroke="#BED62F" stroke-width="2.6" fill="none"/>
<polygon points="551.8,553.88 532.8,543.28 532.8,564.48" fill="#BED62F"/>
<path d="M642.35,546.69 V568.25 M637.35,546.69 H647.35 M637.35,568.25 H647.35" stroke="#BED62F" stroke-width="2.6" fill="none"/>
<polygon points="654.55,557.47 635.55,546.87 635.55,568.07" fill="#BED62F"/>
<polygon points="128.6,553.8 118,534.5 139.2,534.5" fill="#4BBDB3"/>
<path d="M162.85,584.42 V620.35 M157.85,584.42 H167.85 M157.85,620.35 H167.85" stroke="#4BBDB3" stroke-width="2.6" fill="none"/>
<polygon points="162.85,614.88 152.25,595.58 173.45,595.58" fill="#4BBDB3"/>
<path d="M197.1,629.69 V638.31 M192.1,629.69 H202.1 M192.1,638.31 H202.1" stroke="#4BBDB3" stroke-width="2.6" fill="none"/>
<polygon points="197.1,646.5 186.5,627.2 207.7,627.2" fill="#4BBDB3"/>
<path d="M231.35,635.08 V643.7 M226.35,635.08 H236.35 M226.35,643.7 H236.35" stroke="#4BBDB3" stroke-width="2.6" fill="none"/>
<polygon points="231.35,651.89 220.75,632.59 241.95,632.59" fill="#4BBDB3"/>
<path d="M334.1,651.61 V675.32 M329.1,651.61 H339.1 M329.1,675.32 H339.1" stroke="#4BBDB3" stroke-width="2.6" fill="none"/>
<polygon points="334.1,675.96 323.5,656.66 344.7,656.66" fill="#4BBDB3"/>
<path d="M436.85,656.99 V697.95 M431.85,656.99 H441.85 M431.85,697.95 H441.85" stroke="#4BBDB3" stroke-width="2.6" fill="none"/>
<polygon points="436.85,689.97 426.25,670.67 447.45,670.67" fill="#4BBDB3"/>
<path d="M539.6,664.9 V699.39 M534.6,664.9 H544.6 M534.6,699.39 H544.6" stroke="#4BBDB3" stroke-width="2.6" fill="none"/>
<polygon points="539.6,694.65 529,675.35 550.2,675.35" fill="#4BBDB3"/>
<path d="M642.35,665.62 V715.92 M637.35,665.62 H647.35 M637.35,715.92 H647.35" stroke="#4BBDB3" stroke-width="2.6" fill="none"/>
<polygon points="642.35,703.27 631.75,683.97 652.95,683.97" fill="#4BBDB3"/>
<rect x="120.7" y="533.4" width="15.8" height="15.8" fill="#4BB5E4"/>
<path d="M162.85,629.33 V643.7 M157.85,629.33 H167.85 M157.85,643.7 H167.85" stroke="#4BB5E4" stroke-width="2.6" fill="none"/>
<rect x="154.95" y="628.61" width="15.8" height="15.8" fill="#4BB5E4"/>
<path d="M197.1,689.33 V703.7 M192.1,689.33 H202.1 M192.1,703.7 H202.1" stroke="#4BB5E4" stroke-width="2.6" fill="none"/>
<rect x="189.2" y="688.62" width="15.8" height="15.8" fill="#4BB5E4"/>
<path d="M231.35,699.39 V713.76 M226.35,699.39 H236.35 M226.35,713.76 H236.35" stroke="#4BB5E4" stroke-width="2.6" fill="none"/>
<rect x="223.45" y="698.68" width="15.8" height="15.8" fill="#4BB5E4"/>
<path d="M334.1,754.72 V769.1 M329.1,754.72 H339.1 M329.1,769.1 H339.1" stroke="#4BB5E4" stroke-width="2.6" fill="none"/>
<rect x="326.2" y="754.01" width="15.8" height="15.8" fill="#4BB5E4"/>
<path d="M436.85,785.98 V793.17 M431.85,785.98 H441.85 M431.85,793.17 H441.85" stroke="#4BB5E4" stroke-width="2.6" fill="none"/>
<rect x="428.95" y="781.68" width="15.8" height="15.8" fill="#4BB5E4"/>
<path d="M539.6,803.95 V811.13 M534.6,803.95 H544.6 M534.6,811.13 H544.6" stroke="#4BB5E4" stroke-width="2.6" fill="none"/>
<rect x="531.7" y="799.64" width="15.8" height="15.8" fill="#4BB5E4"/>
<path d="M642.35,815.09 V822.27 M637.35,815.09 H647.35 M637.35,822.27 H647.35" stroke="#4BB5E4" stroke-width="2.6" fill="none"/>
<rect x="634.45" y="810.78" width="15.8" height="15.8" fill="#4BB5E4"/>
<polygon points="128.6,529.5 139.4,541.3 128.6,553.1 117.8,541.3" fill="#F48495"/>
<path d="M162.85,649.09 V681.43 M157.85,649.09 H167.85 M157.85,681.43 H167.85" stroke="#F48495" stroke-width="2.6" fill="none"/>
<polygon points="162.85,653.46 173.65,665.26 162.85,677.06 152.05,665.26" fill="#F48495"/>
<path d="M197.1,685.02 V692.21 M192.1,685.02 H202.1 M192.1,692.21 H202.1" stroke="#F48495" stroke-width="2.6" fill="none"/>
<polygon points="197.1,676.81 207.9,688.61 197.1,700.41 186.3,688.61" fill="#F48495"/>
<path d="M231.35,715.92 V723.11 M226.35,715.92 H236.35 M226.35,723.11 H236.35" stroke="#F48495" stroke-width="2.6" fill="none"/>
<polygon points="231.35,707.71 242.15,719.51 231.35,731.31 220.55,719.51" fill="#F48495"/>
<path d="M334.1,772.33 V779.52 M329.1,772.33 H339.1 M329.1,779.52 H339.1" stroke="#F48495" stroke-width="2.6" fill="none"/>
<polygon points="334.1,764.12 344.9,775.92 334.1,787.72 323.3,775.92" fill="#F48495"/>
<path d="M436.85,810.78 V817.96 M431.85,810.78 H441.85 M431.85,817.96 H441.85" stroke="#F48495" stroke-width="2.6" fill="none"/>
<polygon points="436.85,802.57 447.65,814.37 436.85,826.17 426.05,814.37" fill="#F48495"/>
<path d="M539.6,831.61 V838.8 M534.6,831.61 H544.6 M534.6,838.8 H544.6" stroke="#F48495" stroke-width="2.6" fill="none"/>
<polygon points="539.6,823.41 550.4,835.21 539.6,847.01 528.8,835.21" fill="#F48495"/>
<path d="M642.35,845.27 V852.45 M637.35,845.27 H647.35 M637.35,852.45 H647.35" stroke="#F48495" stroke-width="2.6" fill="none"/>
<polygon points="642.35,837.06 653.15,848.86 642.35,860.66 631.55,848.86" fill="#F48495"/>
<polygon points="128.6,531.4 138.02,538.24 134.42,549.31 122.78,549.31 119.18,538.24" fill="#FC9A73"/>
<path d="M162.85,634 V688.61 M157.85,634 H167.85 M157.85,688.61 H167.85" stroke="#FC9A73" stroke-width="2.6" fill="none"/>
<polygon points="162.85,651.41 172.27,658.25 168.67,669.32 157.03,669.32 153.43,658.25" fill="#FC9A73"/>
<path d="M197.1,669.57 V710.53 M192.1,669.57 H202.1 M192.1,710.53 H202.1" stroke="#FC9A73" stroke-width="2.6" fill="none"/>
<polygon points="197.1,680.15 206.52,686.99 202.92,698.06 191.28,698.06 187.68,686.99" fill="#FC9A73"/>
<path d="M231.35,689.69 V732.81 M226.35,689.69 H236.35 M226.35,732.81 H236.35" stroke="#FC9A73" stroke-width="2.6" fill="none"/>
<polygon points="231.35,701.35 240.77,708.19 237.17,719.26 225.53,719.26 221.93,708.19" fill="#FC9A73"/>
<path d="M334.1,742.87 V775.92 M329.1,742.87 H339.1 M329.1,775.92 H339.1" stroke="#FC9A73" stroke-width="2.6" fill="none"/>
<polygon points="334.1,749.5 343.52,756.34 339.92,767.4 328.28,767.4 324.68,756.34" fill="#FC9A73"/>
<path d="M436.85,788.14 V802.51 M431.85,788.14 H441.85 M431.85,802.51 H441.85" stroke="#FC9A73" stroke-width="2.6" fill="none"/>
<polygon points="436.85,785.43 446.27,792.27 442.67,803.33 431.03,803.33 427.43,792.27" fill="#FC9A73"/>
<path d="M539.6,801.43 V819.4 M534.6,801.43 H544.6 M534.6,819.4 H544.6" stroke="#FC9A73" stroke-width="2.6" fill="none"/>
<polygon points="539.6,800.52 549.02,807.36 545.42,818.42 533.78,818.42 530.18,807.36" fill="#FC9A73"/>
<path d="M642.35,824.79 V831.97 M637.35,824.79 H647.35 M637.35,831.97 H647.35" stroke="#FC9A73" stroke-width="2.6" fill="none"/>
<polygon points="642.35,818.48 651.77,825.32 648.17,836.39 636.53,836.39 632.93,825.32" fill="#FC9A73"/>
<circle cx="128.6" cy="541.3" r="9" fill="#3F82C1"/>
<path d="M162.85,612.08 V649.45 M157.85,612.08 H167.85 M157.85,649.45 H167.85" stroke="#3F82C1" stroke-width="2.6" fill="none"/>
<circle cx="162.85" cy="630.77" r="9" fill="#3F82C1"/>
<path d="M197.1,669.93 V677.12 M192.1,669.93 H202.1 M192.1,677.12 H202.1" stroke="#3F82C1" stroke-width="2.6" fill="none"/>
<circle cx="197.1" cy="673.52" r="9" fill="#3F82C1"/>
<path d="M231.35,679.63 V686.82 M226.35,679.63 H236.35 M226.35,686.82 H236.35" stroke="#3F82C1" stroke-width="2.6" fill="none"/>
<circle cx="231.35" cy="683.22" r="9" fill="#3F82C1"/>
<path d="M334.1,700.11 V707.3 M329.1,700.11 H339.1 M329.1,707.3 H339.1" stroke="#3F82C1" stroke-width="2.6" fill="none"/>
<circle cx="334.1" cy="703.7" r="9" fill="#3F82C1"/>
<path d="M436.85,714.84 V722.03 M431.85,714.84 H441.85 M431.85,722.03 H441.85" stroke="#3F82C1" stroke-width="2.6" fill="none"/>
<circle cx="436.85" cy="718.43" r="9" fill="#3F82C1"/>
<path d="M539.6,729.57 V736.76 M534.6,729.57 H544.6 M534.6,736.76 H544.6" stroke="#3F82C1" stroke-width="2.6" fill="none"/>
<circle cx="539.6" cy="733.17" r="9" fill="#3F82C1"/>
<path d="M642.35,734.6 V761.91 M637.35,734.6 H647.35 M637.35,761.91 H647.35" stroke="#3F82C1" stroke-width="2.6" fill="none"/>
<circle cx="642.35" cy="748.26" r="9" fill="#3F82C1"/>
<path d="M108.8,523.4 H659.5 V936 H108.8 Z" fill="none" stroke="#000" stroke-width="3.3" stroke-linejoin="miter"/>
<path d="M128.6,936 V928.4 M162.85,936 V932.4 M197.1,936 V932.4 M231.35,936 V928.4 M265.6,936 V932.4 M299.85,936 V932.4 M334.1,936 V928.4 M368.35,936 V932.4 M402.6,936 V932.4 M436.85,936 V928.4 M471.1,936 V932.4 M505.35,936 V932.4 M539.6,936 V928.4 M573.85,936 V932.4 M608.1,936 V932.4 M642.35,936 V928.4 M108.8,936.53 H112.4 M108.8,900.6 H116.4 M108.8,864.67 H112.4 M108.8,828.74 H116.4 M108.8,792.81 H112.4 M108.8,756.88 H116.4 M108.8,720.95 H112.4 M108.8,685.02 H116.4 M108.8,649.09 H112.4 M108.8,613.16 H116.4 M108.8,577.23 H112.4 M108.8,541.3 H116.4" stroke="#000" stroke-width="3" fill="none"/>
<text transform="translate(128.6,971) scale(0.95,1)" font-size="35" text-anchor="middle">0</text>
<text transform="translate(231.35,971) scale(0.95,1)" font-size="35" text-anchor="middle">3</text>
<text transform="translate(334.1,971) scale(0.95,1)" font-size="35" text-anchor="middle">6</text>
<text transform="translate(436.85,971) scale(0.95,1)" font-size="35" text-anchor="middle">9</text>
<text transform="translate(539.6,971) scale(0.95,1)" font-size="35" text-anchor="middle">12</text>
<text transform="translate(642.35,971) scale(0.95,1)" font-size="35" text-anchor="middle">15</text>
<text transform="translate(99.9,911.1) scale(0.95,1)" font-size="35" text-anchor="end">0.0</text>
<text transform="translate(99.9,839.24) scale(0.95,1)" font-size="35" text-anchor="end">0.2</text>
<text transform="translate(99.9,767.38) scale(0.95,1)" font-size="35" text-anchor="end">0.4</text>
<text transform="translate(99.9,695.52) scale(0.95,1)" font-size="35" text-anchor="end">0.6</text>
<text transform="translate(99.9,623.66) scale(0.95,1)" font-size="35" text-anchor="end">0.8</text>
<text transform="translate(99.9,551.8) scale(0.95,1)" font-size="35" text-anchor="end">1.0</text>
<text x="304.1" y="1005.4" font-size="38">Time (min)</text>
<g transform="translate(34.6,769.5) rotate(-90)"><text x="0" y="0" font-size="37" font-style="italic">C/C<tspan font-size="26" dx="1" dy="10">0</tspan></text></g>
<text x="1.7" y="549.8" font-size="55">c</text>
<path d="M119.6,841.8 H132.6 M149.1,841.8 H162.2" stroke="#4BBDB3" stroke-width="3" stroke-linecap="round"/>
<polygon points="140,854.3 129.4,835 150.6,835" fill="#4BBDB3"/>
<text x="168.8" y="848.2" font-size="27.2">0.10 mM Na<tspan font-size="18.5" dy="7.5">2</tspan><tspan dy="-7.5">SO<tspan font-size="18.5" dy="7.5">3</tspan></tspan></text>
<path d="M384.3,841.8 H397.3 M413.8,841.8 H425.5" stroke="#BED62F" stroke-width="3" stroke-linecap="round"/>
<polygon points="416.9,841.8 398.6,831.3 398.6,852.3" fill="#BED62F"/>
<text x="433.5" y="848.2" font-size="27.2">BiVO<tspan font-size="18.5" dy="7.5">4</tspan></text>
<path d="M119.6,880.5 H132.6 M149.1,880.5 H162.2" stroke="#4BB5E4" stroke-width="3" stroke-linecap="round"/>
<rect x="132.1" y="872.6" width="15.8" height="15.8" fill="#4BB5E4"/>
<text x="168.8" y="886.9" font-size="27.2">0.25 mM Na<tspan font-size="18.5" dy="7.5">2</tspan><tspan dy="-7.5">SO<tspan font-size="18.5" dy="7.5">3</tspan></tspan></text>
<path d="M384.3,880.5 H397.3 M413.8,880.5 H425.5" stroke="#F48495" stroke-width="3" stroke-linecap="round"/>
<polygon points="404.9,868.7 415.7,880.5 404.9,892.3 394.1,880.5" fill="#F48495"/>
<text x="433.5" y="886.9" font-size="27.2">0.50 mM Na<tspan font-size="18.5" dy="7.5">2</tspan><tspan dy="-7.5">SO<tspan font-size="18.5" dy="7.5">3</tspan></tspan></text>
<path d="M119.6,919.5 H132.6 M149.1,919.5 H162.2" stroke="#FC9A73" stroke-width="3" stroke-linecap="round"/>
<polygon points="140,909.6 149.42,916.44 145.82,927.51 134.18,927.51 130.58,916.44" fill="#FC9A73"/>
<text x="168.8" y="925.9" font-size="27.2">0.75 mM Na<tspan font-size="18.5" dy="7.5">2</tspan><tspan dy="-7.5">SO<tspan font-size="18.5" dy="7.5">3</tspan></tspan></text>
<path d="M384.3,919.5 H397.3 M413.8,919.5 H425.5" stroke="#3F82C1" stroke-width="3" stroke-linecap="round"/>
<circle cx="404.9" cy="919.5" r="9" fill="#3F82C1"/>
<text x="433.5" y="925.9" font-size="27.2">1.00 mM Na<tspan font-size="18.5" dy="7.5">2</tspan><tspan dy="-7.5">SO<tspan font-size="18.5" dy="7.5">3</tspan></tspan></text>
<path d="M812.5,542.2 L813.78,547.09 L815.05,551.86 L816.3,556.52 L817.54,561.07 L818.76,565.52 L819.96,569.85 L821.15,574.09 L822.33,578.21 L823.49,582.24 L824.63,586.16 L825.76,589.98 L826.88,593.71 L827.98,597.34 L829.07,600.87 L830.14,604.31 L831.21,607.65 L832.25,610.91 L833.29,614.07 L834.31,617.15 L835.32,620.14 L836.31,623.04 L837.29,625.86 L838.26,628.6 L839.22,631.26 L840.17,633.84 L841.1,636.33 L842.02,638.76 L842.93,641.1 L843.83,643.37 L844.72,645.57 L845.6,647.7 L846.46,649.76 L847.32,651.75 L848.16,653.68 L848.99,655.54 L849.82,657.33 L850.63,659.06 L851.43,660.73 L852.23,662.35 L853.01,663.9 L853.79,665.4 L854.55,666.84 L855.31,668.22 L856.05,669.56 L856.79,670.84 L857.52,672.08 L858.24,673.27 L858.96,674.41 L859.66,675.5 L860.36,676.55 L861.05,677.56 L861.73,678.53 L862.41,679.46 L863.07,680.35 L863.73,681.2 L864.39,682.02 L865.03,682.8 L865.68,683.55 L866.31,684.28 L866.94,684.97 L867.56,685.63 L868.17,686.27 L868.78,686.88 L869.39,687.47 L869.99,688.04 L870.58,688.58 L871.17,689.11 L871.75,689.62 L872.33,690.11 L872.91,690.58 L873.48,691.05 L874.05,691.5 L874.61,691.94 L875.17,692.37 L875.72,692.79 L876.27,693.21 L876.82,693.62 L877.36,694.03 L877.91,694.43 L878.45,694.84 L878.98,695.24 L879.52,695.65 L880.05,696.05 L880.58,696.46 L881.1,696.87 L881.63,697.28 L882.15,697.68 L882.67,698.09 L883.2,698.5 L883.72,698.92 L884.23,699.33 L884.75,699.74 L885.27,700.15 L885.79,700.57 L886.3,700.98 L886.82,701.4 L887.34,701.82 L887.85,702.24 L888.37,702.66 L888.89,703.08 L889.41,703.5 L889.93,703.93 L890.45,704.35 L890.97,704.78 L891.49,705.21 L892.02,705.64 L892.54,706.07 L893.07,706.5 L893.6,706.93 L894.13,707.37 L894.67,707.81 L895.21,708.25 L895.75,708.69 L896.29,709.13 L896.83,709.57 L897.38,710.02 L897.94,710.47 L898.49,710.92 L899.05,711.37 L899.62,711.82 L900.19,712.28 L900.76,712.74 L901.34,713.2 L901.92,713.66 L902.5,714.13 L903.1,714.59 L903.69,715.06 L904.29,715.53 L904.9,716.01 L905.51,716.48 L906.13,716.96 L906.76,717.44 L907.39,717.93 L908.02,718.41 L908.67,718.9 L909.32,719.4 L909.97,719.89 L910.64,720.39 L911.31,720.89 L911.99,721.39 L912.67,721.9 L913.37,722.4 L914.07,722.92 L914.78,723.43 L915.49,723.95 L916.22,724.47 L916.95,724.99 L917.7,725.52 L918.45,726.05 L919.21,726.58 L919.98,727.12 L920.76,727.66 L921.54,728.2 L922.34,728.75 L923.15,729.3 L923.97,729.85 L924.8,730.41 L925.64,730.97 L926.49,731.53 L927.35,732.1 L928.22,732.67 L929.1,733.25 L929.99,733.82 L930.89,734.41 L931.8,734.99 L932.72,735.58 L933.66,736.17 L934.6,736.77 L935.55,737.36 L936.51,737.96 L937.48,738.57 L938.46,739.17 L939.45,739.78 L940.45,740.39 L941.45,741.01 L942.47,741.63 L943.49,742.25 L944.53,742.87 L945.57,743.49 L946.62,744.12 L947.67,744.75 L948.74,745.38 L949.81,746.01 L950.89,746.65 L951.98,747.28 L953.07,747.92 L954.17,748.56 L955.28,749.21 L956.4,749.85 L957.52,750.5 L958.65,751.14 L959.79,751.79 L960.93,752.44 L962.08,753.09 L963.24,753.75 L964.4,754.4 L965.56,755.06 L966.74,755.71 L967.92,756.37 L969.1,757.03 L970.29,757.69 L971.48,758.34 L972.68,759 L973.89,759.67 L975.09,760.33 L976.31,760.99 L977.53,761.65 L978.75,762.31 L979.98,762.97 L981.21,763.64 L982.44,764.3 L983.68,764.96 L984.92,765.63 L986.17,766.29 L987.42,766.95 L988.67,767.61 L989.93,768.28 L991.19,768.94 L992.45,769.6 L993.71,770.26 L994.98,770.92 L996.25,771.58 L997.52,772.24 L998.8,772.9 L1000.07,773.55 L1001.35,774.21 L1002.63,774.87 L1003.91,775.52 L1005.2,776.17 L1006.48,776.83 L1007.77,777.48 L1009.05,778.13 L1010.34,778.77 L1011.63,779.42 L1012.92,780.06 L1014.21,780.71 L1015.5,781.35 L1016.79,781.99 L1018.08,782.63 L1019.37,783.26 L1020.67,783.9 L1021.96,784.53 L1023.25,785.16 L1024.54,785.79 L1025.83,786.41 L1027.13,787.04 L1028.42,787.66 L1029.72,788.28 L1031.01,788.9 L1032.31,789.51 L1033.61,790.13 L1034.9,790.74 L1036.2,791.35 L1037.51,791.96 L1038.81,792.57 L1040.11,793.17 L1041.42,793.77 L1042.73,794.37 L1044.04,794.97 L1045.35,795.57 L1046.66,796.16 L1047.98,796.75 L1049.3,797.35 L1050.62,797.93 L1051.94,798.52 L1053.27,799.11 L1054.6,799.69 L1055.93,800.27 L1057.26,800.85 L1058.6,801.42 L1059.94,802 L1061.28,802.57 L1062.63,803.14 L1063.98,803.71 L1065.33,804.28 L1066.69,804.84 L1068.05,805.4 L1069.42,805.96 L1070.79,806.52 L1072.16,807.08 L1073.54,807.63 L1074.92,808.18 L1076.3,808.73 L1077.69,809.28 L1079.09,809.83 L1080.49,810.37 L1081.89,810.91 L1083.3,811.45 L1084.71,811.99 L1086.13,812.52 L1087.56,813.06 L1088.98,813.59 L1090.42,814.12 L1091.86,814.65 L1093.3,815.17 L1094.75,815.69 L1096.21,816.22 L1097.67,816.73 L1099.14,817.25 L1100.62,817.77 L1102.1,818.28 L1103.58,818.79 L1105.08,819.3 L1106.58,819.8 L1108.08,820.31 L1109.6,820.81 L1111.12,821.31 L1112.64,821.81 L1114.18,822.3 L1115.72,822.8 L1117.26,823.29 L1118.82,823.78 L1120.38,824.27 L1121.95,824.75 L1123.53,825.23 L1125.11,825.71 L1126.71,826.19 L1128.31,826.67 L1129.91,827.14 L1131.53,827.62 L1133.16,828.09 L1134.79,828.56 L1136.43,829.02 L1138.09,829.49 L1139.75,829.95 L1141.43,830.41 L1143.11,830.87 L1144.81,831.33 L1146.52,831.78 L1148.25,832.24 L1149.99,832.69 L1151.74,833.14 L1153.51,833.59 L1155.29,834.04 L1157.08,834.49 L1158.9,834.93 L1160.73,835.38 L1162.58,835.82 L1164.44,836.27 L1166.32,836.71 L1168.22,837.15 L1170.15,837.59 L1172.09,838.03 L1174.05,838.47 L1176.03,838.91 L1178.03,839.35 L1180.05,839.79 L1182.1,840.23 L1184.17,840.66 L1186.26,841.1 L1188.38,841.54 L1190.52,841.98 L1192.68,842.41 L1194.87,842.85 L1197.09,843.29 L1199.33,843.73 L1201.6,844.16 L1203.89,844.6 L1206.22,845.04 L1208.57,845.48 L1210.95,845.92 L1213.36,846.36 L1215.8,846.8 L1218.27,847.24 L1220.77,847.68 L1223.3,848.12 L1225.87,848.57 L1228.46,849.01 L1231.09,849.46 L1233.76,849.9 L1236.45,850.35 L1239.18,850.8 L1241.95,851.25 L1244.75,851.7 L1247.59,852.15 L1250.46,852.61 L1253.37,853.06 L1256.32,853.52 L1259.3,853.98 L1262.33,854.44 L1265.39,854.9 L1268.49,855.37 L1271.63,855.84 L1274.82,856.3 L1278.04,856.77 L1281.3,857.25 L1284.61,857.72 L1287.96,858.2 L1291.35,858.68 L1294.79,859.16 L1298.27,859.64 L1301.79,860.13 L1305.36,860.62 L1308.98,861.11 L1312.64,861.6 L1316.34,862.1 L1320.1,862.6 L1323.9,863.1 L1327.75,863.61" fill="none" stroke="#F48495" stroke-width="3" stroke-dasharray="13.6 18" stroke-linecap="round" stroke-dashoffset="-0.5"/>
<path d="M812.5,542.2 L813.78,546.69 L815.05,551.08 L816.3,555.39 L817.54,559.6 L818.76,563.73 L819.96,567.76 L821.15,571.71 L822.33,575.57 L823.49,579.35 L824.63,583.05 L825.76,586.66 L826.88,590.19 L827.98,593.65 L829.07,597.02 L830.14,600.31 L831.21,603.53 L832.25,606.67 L833.29,609.74 L834.31,612.74 L835.32,615.66 L836.31,618.51 L837.29,621.29 L838.26,624.01 L839.22,626.65 L840.17,629.23 L841.1,631.74 L842.02,634.19 L842.93,636.58 L843.83,638.9 L844.72,641.16 L845.6,643.37 L846.46,645.51 L847.32,647.6 L848.16,649.63 L848.99,651.6 L849.82,653.53 L850.63,655.39 L851.43,657.21 L852.23,658.98 L853.01,660.69 L853.79,662.36 L854.55,663.98 L855.31,665.55 L856.05,667.08 L856.79,668.57 L857.52,670.01 L858.24,671.41 L858.96,672.77 L859.66,674.09 L860.36,675.38 L861.05,676.62 L861.73,677.83 L862.41,679.01 L863.07,680.15 L863.73,681.26 L864.39,682.33 L865.03,683.38 L865.68,684.4 L866.31,685.39 L866.94,686.35 L867.56,687.29 L868.17,688.2 L868.78,689.09 L869.39,689.96 L869.99,690.8 L870.58,691.63 L871.17,692.43 L871.75,693.22 L872.33,693.99 L872.91,694.75 L873.48,695.49 L874.05,696.22 L874.61,696.93 L875.17,697.64 L875.72,698.33 L876.27,699.02 L876.82,699.69 L877.36,700.37 L877.91,701.03 L878.45,701.69 L878.98,702.35 L879.52,703.01 L880.05,703.66 L880.58,704.31 L881.1,704.95 L881.63,705.59 L882.15,706.23 L882.67,706.87 L883.2,707.5 L883.72,708.13 L884.23,708.76 L884.75,709.39 L885.27,710.01 L885.79,710.63 L886.3,711.25 L886.82,711.86 L887.34,712.47 L887.85,713.08 L888.37,713.69 L888.89,714.3 L889.41,714.9 L889.93,715.5 L890.45,716.1 L890.97,716.7 L891.49,717.29 L892.02,717.89 L892.54,718.48 L893.07,719.07 L893.6,719.66 L894.13,720.24 L894.67,720.83 L895.21,721.41 L895.75,721.99 L896.29,722.57 L896.83,723.15 L897.38,723.73 L897.94,724.3 L898.49,724.88 L899.05,725.45 L899.62,726.02 L900.19,726.59 L900.76,727.17 L901.34,727.74 L901.92,728.3 L902.5,728.87 L903.1,729.44 L903.69,730.01 L904.29,730.57 L904.9,731.14 L905.51,731.7 L906.13,732.27 L906.76,732.83 L907.39,733.4 L908.02,733.96 L908.67,734.52 L909.32,735.09 L909.97,735.65 L910.64,736.21 L911.31,736.77 L911.99,737.34 L912.67,737.9 L913.37,738.46 L914.07,739.03 L914.78,739.59 L915.49,740.16 L916.22,740.72 L916.95,741.29 L917.7,741.85 L918.45,742.42 L919.21,742.99 L919.98,743.56 L920.76,744.12 L921.54,744.69 L922.34,745.26 L923.15,745.84 L923.97,746.41 L924.8,746.98 L925.64,747.56 L926.49,748.13 L927.35,748.71 L928.22,749.29 L929.1,749.87 L929.99,750.45 L930.89,751.03 L931.8,751.61 L932.72,752.2 L933.66,752.78 L934.6,753.37 L935.55,753.95 L936.51,754.54 L937.48,755.13 L938.46,755.72 L939.45,756.3 L940.45,756.89 L941.45,757.48 L942.47,758.07 L943.49,758.66 L944.53,759.25 L945.57,759.84 L946.62,760.43 L947.67,761.02 L948.74,761.61 L949.81,762.2 L950.89,762.78 L951.98,763.37 L953.07,763.96 L954.17,764.55 L955.28,765.13 L956.4,765.72 L957.52,766.3 L958.65,766.89 L959.79,767.47 L960.93,768.05 L962.08,768.63 L963.24,769.21 L964.4,769.79 L965.56,770.37 L966.74,770.94 L967.92,771.52 L969.1,772.09 L970.29,772.66 L971.48,773.23 L972.68,773.8 L973.89,774.37 L975.09,774.93 L976.31,775.5 L977.53,776.06 L978.75,776.62 L979.98,777.17 L981.21,777.73 L982.44,778.28 L983.68,778.83 L984.92,779.38 L986.17,779.93 L987.42,780.47 L988.67,781.01 L989.93,781.55 L991.19,782.08 L992.45,782.61 L993.71,783.14 L994.98,783.67 L996.25,784.19 L997.52,784.71 L998.8,785.23 L1000.07,785.74 L1001.35,786.25 L1002.63,786.76 L1003.91,787.27 L1005.2,787.77 L1006.48,788.26 L1007.77,788.76 L1009.05,789.25 L1010.34,789.73 L1011.63,790.21 L1012.92,790.69 L1014.21,791.16 L1015.5,791.63 L1016.79,792.1 L1018.08,792.56 L1019.37,793.02 L1020.67,793.47 L1021.96,793.92 L1023.25,794.37 L1024.54,794.81 L1025.83,795.24 L1027.13,795.67 L1028.42,796.1 L1029.72,796.53 L1031.01,796.95 L1032.31,797.36 L1033.61,797.78 L1034.9,798.18 L1036.2,798.59 L1037.51,798.99 L1038.81,799.39 L1040.11,799.78 L1041.42,800.17 L1042.73,800.56 L1044.04,800.94 L1045.35,801.32 L1046.66,801.7 L1047.98,802.07 L1049.3,802.44 L1050.62,802.81 L1051.94,803.17 L1053.27,803.53 L1054.6,803.88 L1055.93,804.24 L1057.26,804.59 L1058.6,804.94 L1059.94,805.28 L1061.28,805.62 L1062.63,805.96 L1063.98,806.29 L1065.33,806.63 L1066.69,806.95 L1068.05,807.28 L1069.42,807.6 L1070.79,807.93 L1072.16,808.24 L1073.54,808.56 L1074.92,808.87 L1076.3,809.18 L1077.69,809.49 L1079.09,809.8 L1080.49,810.1 L1081.89,810.4 L1083.3,810.7 L1084.71,811 L1086.13,811.29 L1087.56,811.58 L1088.98,811.87 L1090.42,812.16 L1091.86,812.44 L1093.3,812.73 L1094.75,813.01 L1096.21,813.29 L1097.67,813.56 L1099.14,813.84 L1100.62,814.11 L1102.1,814.39 L1103.58,814.65 L1105.08,814.92 L1106.58,815.19 L1108.08,815.45 L1109.6,815.72 L1111.12,815.98 L1112.64,816.24 L1114.18,816.5 L1115.72,816.76 L1117.26,817.01 L1118.82,817.27 L1120.38,817.52 L1121.95,817.77 L1123.53,818.02 L1125.11,818.27 L1126.71,818.52 L1128.31,818.77 L1129.91,819.01 L1131.53,819.26 L1133.16,819.5 L1134.79,819.74 L1136.43,819.99 L1138.09,820.23 L1139.75,820.47 L1141.43,820.71 L1143.11,820.95 L1144.81,821.19 L1146.52,821.42 L1148.25,821.66 L1149.99,821.9 L1151.74,822.14 L1153.51,822.38 L1155.29,822.61 L1157.08,822.85 L1158.9,823.09 L1160.73,823.32 L1162.58,823.56 L1164.44,823.8 L1166.32,824.04 L1168.22,824.27 L1170.15,824.51 L1172.09,824.75 L1174.05,824.99 L1176.03,825.23 L1178.03,825.47 L1180.05,825.71 L1182.1,825.95 L1184.17,826.19 L1186.26,826.44 L1188.38,826.68 L1190.52,826.93 L1192.68,827.17 L1194.87,827.42 L1197.09,827.67 L1199.33,827.92 L1201.6,828.17 L1203.89,828.42 L1206.22,828.68 L1208.57,828.93 L1210.95,829.19 L1213.36,829.45 L1215.8,829.71 L1218.27,829.97 L1220.77,830.24 L1223.3,830.5 L1225.87,830.77 L1228.46,831.04 L1231.09,831.31 L1233.76,831.59 L1236.45,831.86 L1239.18,832.14 L1241.95,832.42 L1244.75,832.7 L1247.59,832.99 L1250.46,833.28 L1253.37,833.57 L1256.32,833.86 L1259.3,834.16 L1262.33,834.46 L1265.39,834.76 L1268.49,835.07 L1271.63,835.37 L1274.82,835.68 L1278.04,836 L1281.3,836.32 L1284.61,836.64 L1287.96,836.96 L1291.35,837.29 L1294.79,837.62 L1298.27,837.95 L1301.79,838.29 L1305.36,838.63 L1308.98,838.97 L1312.64,839.32 L1316.34,839.68 L1320.1,840.03 L1323.9,840.39 L1327.75,840.76" fill="none" stroke="#4BB5E4" stroke-width="3" stroke-dasharray="13.6 18" stroke-linecap="round" stroke-dashoffset="-1.8"/>
<path d="M812.5,542.2 L813.78,544.3 L815.05,546.36 L816.3,548.38 L817.54,550.35 L818.76,552.28 L819.96,554.16 L821.15,556.01 L822.33,557.81 L823.49,559.57 L824.63,561.29 L825.76,562.97 L826.88,564.61 L827.98,566.21 L829.07,567.78 L830.14,569.3 L831.21,570.79 L832.25,572.24 L833.29,573.66 L834.31,575.04 L835.32,576.39 L836.31,577.7 L837.29,578.98 L838.26,580.22 L839.22,581.43 L840.17,582.61 L841.1,583.76 L842.02,584.88 L842.93,585.97 L843.83,587.02 L844.72,588.05 L845.6,589.05 L846.46,590.02 L847.32,590.96 L848.16,591.87 L848.99,592.76 L849.82,593.62 L850.63,594.46 L851.43,595.27 L852.23,596.05 L853.01,596.81 L853.79,597.55 L854.55,598.27 L855.31,598.96 L856.05,599.63 L856.79,600.28 L857.52,600.91 L858.24,601.52 L858.96,602.11 L859.66,602.68 L860.36,603.23 L861.05,603.77 L861.73,604.29 L862.41,604.79 L863.07,605.27 L863.73,605.74 L864.39,606.19 L865.03,606.63 L865.68,607.05 L866.31,607.46 L866.94,607.86 L867.56,608.24 L868.17,608.61 L868.78,608.97 L869.39,609.32 L869.99,609.66 L870.58,609.99 L871.17,610.31 L871.75,610.63 L872.33,610.93 L872.91,611.23 L873.48,611.52 L874.05,611.8 L874.61,612.08 L875.17,612.35 L875.72,612.61 L876.27,612.88 L876.82,613.13 L877.36,613.39 L877.91,613.64 L878.45,613.89 L878.98,614.14 L879.52,614.39 L880.05,614.63 L880.58,614.88 L881.1,615.12 L881.63,615.36 L882.15,615.6 L882.67,615.84 L883.2,616.08 L883.72,616.31 L884.23,616.54 L884.75,616.78 L885.27,617.01 L885.79,617.24 L886.3,617.47 L886.82,617.69 L887.34,617.92 L887.85,618.15 L888.37,618.37 L888.89,618.59 L889.41,618.82 L889.93,619.04 L890.45,619.26 L890.97,619.48 L891.49,619.7 L892.02,619.91 L892.54,620.13 L893.07,620.35 L893.6,620.56 L894.13,620.78 L894.67,620.99 L895.21,621.2 L895.75,621.42 L896.29,621.63 L896.83,621.84 L897.38,622.05 L897.94,622.26 L898.49,622.47 L899.05,622.68 L899.62,622.89 L900.19,623.1 L900.76,623.31 L901.34,623.52 L901.92,623.73 L902.5,623.93 L903.1,624.14 L903.69,624.35 L904.29,624.56 L904.9,624.76 L905.51,624.97 L906.13,625.18 L906.76,625.38 L907.39,625.59 L908.02,625.8 L908.67,626.01 L909.32,626.21 L909.97,626.42 L910.64,626.63 L911.31,626.84 L911.99,627.05 L912.67,627.25 L913.37,627.46 L914.07,627.67 L914.78,627.88 L915.49,628.09 L916.22,628.3 L916.95,628.51 L917.7,628.73 L918.45,628.94 L919.21,629.15 L919.98,629.36 L920.76,629.58 L921.54,629.79 L922.34,630.01 L923.15,630.22 L923.97,630.44 L924.8,630.66 L925.64,630.88 L926.49,631.1 L927.35,631.32 L928.22,631.54 L929.1,631.76 L929.99,631.99 L930.89,632.21 L931.8,632.43 L932.72,632.66 L933.66,632.89 L934.6,633.11 L935.55,633.34 L936.51,633.57 L937.48,633.8 L938.46,634.03 L939.45,634.26 L940.45,634.49 L941.45,634.72 L942.47,634.95 L943.49,635.18 L944.53,635.41 L945.57,635.64 L946.62,635.87 L947.67,636.11 L948.74,636.34 L949.81,636.57 L950.89,636.8 L951.98,637.03 L953.07,637.27 L954.17,637.5 L955.28,637.73 L956.4,637.96 L957.52,638.2 L958.65,638.43 L959.79,638.66 L960.93,638.89 L962.08,639.12 L963.24,639.35 L964.4,639.58 L965.56,639.81 L966.74,640.04 L967.92,640.27 L969.1,640.5 L970.29,640.73 L971.48,640.95 L972.68,641.18 L973.89,641.41 L975.09,641.63 L976.31,641.85 L977.53,642.08 L978.75,642.3 L979.98,642.52 L981.21,642.74 L982.44,642.96 L983.68,643.18 L984.92,643.4 L986.17,643.62 L987.42,643.83 L988.67,644.05 L989.93,644.26 L991.19,644.47 L992.45,644.68 L993.71,644.89 L994.98,645.1 L996.25,645.31 L997.52,645.51 L998.8,645.72 L1000.07,645.92 L1001.35,646.12 L1002.63,646.32 L1003.91,646.52 L1005.2,646.71 L1006.48,646.91 L1007.77,647.1 L1009.05,647.29 L1010.34,647.48 L1011.63,647.67 L1012.92,647.85 L1014.21,648.04 L1015.5,648.22 L1016.79,648.4 L1018.08,648.58 L1019.37,648.75 L1020.67,648.93 L1021.96,649.1 L1023.25,649.27 L1024.54,649.44 L1025.83,649.6 L1027.13,649.77 L1028.42,649.93 L1029.72,650.09 L1031.01,650.24 L1032.31,650.4 L1033.61,650.55 L1034.9,650.7 L1036.2,650.85 L1037.51,651 L1038.81,651.14 L1040.11,651.28 L1041.42,651.42 L1042.73,651.56 L1044.04,651.7 L1045.35,651.83 L1046.66,651.96 L1047.98,652.09 L1049.3,652.22 L1050.62,652.34 L1051.94,652.46 L1053.27,652.58 L1054.6,652.7 L1055.93,652.82 L1057.26,652.93 L1058.6,653.04 L1059.94,653.15 L1061.28,653.26 L1062.63,653.36 L1063.98,653.46 L1065.33,653.56 L1066.69,653.66 L1068.05,653.75 L1069.42,653.85 L1070.79,653.94 L1072.16,654.02 L1073.54,654.11 L1074.92,654.19 L1076.3,654.28 L1077.69,654.35 L1079.09,654.43 L1080.49,654.5 L1081.89,654.58 L1083.3,654.65 L1084.71,654.71 L1086.13,654.78 L1087.56,654.84 L1088.98,654.9 L1090.42,654.96 L1091.86,655.01 L1093.3,655.06 L1094.75,655.11 L1096.21,655.16 L1097.67,655.21 L1099.14,655.25 L1100.62,655.29 L1102.1,655.33 L1103.58,655.36 L1105.08,655.4 L1106.58,655.43 L1108.08,655.45 L1109.6,655.48 L1111.12,655.5 L1112.64,655.52 L1114.18,655.54 L1115.72,655.56 L1117.26,655.57 L1118.82,655.58 L1120.38,655.59 L1121.95,655.59 L1123.53,655.6 L1125.11,655.6 L1126.71,655.59 L1128.31,655.59 L1129.91,655.58 L1131.53,655.57 L1133.16,655.56 L1134.79,655.54 L1136.43,655.53 L1138.09,655.51 L1139.75,655.49 L1141.43,655.46 L1143.11,655.44 L1144.81,655.41 L1146.52,655.38 L1148.25,655.35 L1149.99,655.32 L1151.74,655.29 L1153.51,655.26 L1155.29,655.23 L1157.08,655.2 L1158.9,655.16 L1160.73,655.13 L1162.58,655.09 L1164.44,655.06 L1166.32,655.02 L1168.22,654.99 L1170.15,654.96 L1172.09,654.92 L1174.05,654.89 L1176.03,654.86 L1178.03,654.83 L1180.05,654.8 L1182.1,654.77 L1184.17,654.74 L1186.26,654.72 L1188.38,654.69 L1190.52,654.67 L1192.68,654.65 L1194.87,654.63 L1197.09,654.61 L1199.33,654.6 L1201.6,654.58 L1203.89,654.57 L1206.22,654.56 L1208.57,654.56 L1210.95,654.56 L1213.36,654.56 L1215.8,654.56 L1218.27,654.57 L1220.77,654.58 L1223.3,654.6 L1225.87,654.62 L1228.46,654.64 L1231.09,654.66 L1233.76,654.69 L1236.45,654.73 L1239.18,654.77 L1241.95,654.81 L1244.75,654.86 L1247.59,654.91 L1250.46,654.97 L1253.37,655.03 L1256.32,655.1 L1259.3,655.17 L1262.33,655.25 L1265.39,655.33 L1268.49,655.42 L1271.63,655.52 L1274.82,655.62 L1278.04,655.73 L1281.3,655.84 L1284.61,655.96 L1287.96,656.09 L1291.35,656.22 L1294.79,656.36 L1298.27,656.51 L1301.79,656.66 L1305.36,656.83 L1308.98,656.99 L1312.64,657.17 L1316.34,657.35 L1320.1,657.54 L1323.9,657.74 L1327.75,657.95" fill="none" stroke="#FC9A73" stroke-width="3" stroke-dasharray="13.6 18" stroke-linecap="round" stroke-dashoffset="-1.9"/>
<path d="M812.5,542.2 L813.78,544.01 L815.05,545.79 L816.3,547.53 L817.54,549.23 L818.76,550.9 L819.96,552.53 L821.15,554.13 L822.33,555.7 L823.49,557.23 L824.63,558.73 L825.76,560.19 L826.88,561.63 L827.98,563.03 L829.07,564.4 L830.14,565.74 L831.21,567.05 L832.25,568.33 L833.29,569.58 L834.31,570.8 L835.32,571.99 L836.31,573.15 L837.29,574.29 L838.26,575.39 L839.22,576.48 L840.17,577.53 L841.1,578.56 L842.02,579.56 L842.93,580.54 L843.83,581.49 L844.72,582.42 L845.6,583.32 L846.46,584.2 L847.32,585.06 L848.16,585.9 L848.99,586.71 L849.82,587.5 L850.63,588.27 L851.43,589.02 L852.23,589.75 L853.01,590.46 L853.79,591.15 L854.55,591.82 L855.31,592.47 L856.05,593.11 L856.79,593.72 L857.52,594.32 L858.24,594.9 L858.96,595.47 L859.66,596.02 L860.36,596.55 L861.05,597.07 L861.73,597.57 L862.41,598.06 L863.07,598.54 L863.73,599 L864.39,599.45 L865.03,599.89 L865.68,600.31 L866.31,600.73 L866.94,601.13 L867.56,601.52 L868.17,601.9 L868.78,602.27 L869.39,602.63 L869.99,602.99 L870.58,603.33 L871.17,603.67 L871.75,603.99 L872.33,604.32 L872.91,604.63 L873.48,604.94 L874.05,605.24 L874.61,605.54 L875.17,605.83 L875.72,606.12 L876.27,606.4 L876.82,606.68 L877.36,606.95 L877.91,607.23 L878.45,607.5 L878.98,607.77 L879.52,608.03 L880.05,608.3 L880.58,608.56 L881.1,608.82 L881.63,609.08 L882.15,609.33 L882.67,609.59 L883.2,609.84 L883.72,610.09 L884.23,610.34 L884.75,610.59 L885.27,610.84 L885.79,611.08 L886.3,611.32 L886.82,611.57 L887.34,611.81 L887.85,612.04 L888.37,612.28 L888.89,612.51 L889.41,612.75 L889.93,612.98 L890.45,613.21 L890.97,613.44 L891.49,613.67 L892.02,613.89 L892.54,614.12 L893.07,614.34 L893.6,614.57 L894.13,614.79 L894.67,615.01 L895.21,615.23 L895.75,615.44 L896.29,615.66 L896.83,615.88 L897.38,616.09 L897.94,616.31 L898.49,616.52 L899.05,616.73 L899.62,616.94 L900.19,617.15 L900.76,617.36 L901.34,617.57 L901.92,617.78 L902.5,617.98 L903.1,618.19 L903.69,618.39 L904.29,618.6 L904.9,618.8 L905.51,619 L906.13,619.21 L906.76,619.41 L907.39,619.61 L908.02,619.81 L908.67,620.01 L909.32,620.21 L909.97,620.41 L910.64,620.61 L911.31,620.81 L911.99,621.01 L912.67,621.2 L913.37,621.4 L914.07,621.6 L914.78,621.8 L915.49,621.99 L916.22,622.19 L916.95,622.39 L917.7,622.58 L918.45,622.78 L919.21,622.98 L919.98,623.17 L920.76,623.37 L921.54,623.56 L922.34,623.76 L923.15,623.96 L923.97,624.15 L924.8,624.35 L925.64,624.55 L926.49,624.74 L927.35,624.94 L928.22,625.14 L929.1,625.34 L929.99,625.53 L930.89,625.73 L931.8,625.93 L932.72,626.13 L933.66,626.33 L934.6,626.53 L935.55,626.73 L936.51,626.92 L937.48,627.12 L938.46,627.32 L939.45,627.52 L940.45,627.72 L941.45,627.92 L942.47,628.12 L943.49,628.33 L944.53,628.53 L945.57,628.73 L946.62,628.93 L947.67,629.13 L948.74,629.33 L949.81,629.53 L950.89,629.74 L951.98,629.94 L953.07,630.14 L954.17,630.34 L955.28,630.54 L956.4,630.75 L957.52,630.95 L958.65,631.15 L959.79,631.36 L960.93,631.56 L962.08,631.76 L963.24,631.97 L964.4,632.17 L965.56,632.37 L966.74,632.58 L967.92,632.78 L969.1,632.99 L970.29,633.19 L971.48,633.4 L972.68,633.6 L973.89,633.8 L975.09,634.01 L976.31,634.21 L977.53,634.42 L978.75,634.62 L979.98,634.83 L981.21,635.03 L982.44,635.24 L983.68,635.45 L984.92,635.65 L986.17,635.86 L987.42,636.06 L988.67,636.27 L989.93,636.47 L991.19,636.68 L992.45,636.89 L993.71,637.09 L994.98,637.3 L996.25,637.5 L997.52,637.71 L998.8,637.92 L1000.07,638.12 L1001.35,638.33 L1002.63,638.53 L1003.91,638.74 L1005.2,638.95 L1006.48,639.15 L1007.77,639.36 L1009.05,639.57 L1010.34,639.77 L1011.63,639.98 L1012.92,640.19 L1014.21,640.39 L1015.5,640.6 L1016.79,640.81 L1018.08,641.01 L1019.37,641.22 L1020.67,641.42 L1021.96,641.63 L1023.25,641.84 L1024.54,642.04 L1025.83,642.25 L1027.13,642.46 L1028.42,642.66 L1029.72,642.87 L1031.01,643.08 L1032.31,643.28 L1033.61,643.49 L1034.9,643.69 L1036.2,643.9 L1037.51,644.11 L1038.81,644.31 L1040.11,644.52 L1041.42,644.72 L1042.73,644.93 L1044.04,645.13 L1045.35,645.34 L1046.66,645.54 L1047.98,645.75 L1049.3,645.95 L1050.62,646.16 L1051.94,646.36 L1053.27,646.57 L1054.6,646.77 L1055.93,646.97 L1057.26,647.18 L1058.6,647.38 L1059.94,647.58 L1061.28,647.79 L1062.63,647.99 L1063.98,648.19 L1065.33,648.39 L1066.69,648.6 L1068.05,648.8 L1069.42,649 L1070.79,649.2 L1072.16,649.4 L1073.54,649.6 L1074.92,649.8 L1076.3,650 L1077.69,650.2 L1079.09,650.4 L1080.49,650.6 L1081.89,650.8 L1083.3,651 L1084.71,651.2 L1086.13,651.39 L1087.56,651.59 L1088.98,651.79 L1090.42,651.99 L1091.86,652.18 L1093.3,652.38 L1094.75,652.57 L1096.21,652.77 L1097.67,652.96 L1099.14,653.16 L1100.62,653.35 L1102.1,653.54 L1103.58,653.74 L1105.08,653.93 L1106.58,654.12 L1108.08,654.31 L1109.6,654.51 L1111.12,654.7 L1112.64,654.89 L1114.18,655.08 L1115.72,655.27 L1117.26,655.45 L1118.82,655.64 L1120.38,655.83 L1121.95,656.02 L1123.53,656.2 L1125.11,656.39 L1126.71,656.58 L1128.31,656.76 L1129.91,656.95 L1131.53,657.13 L1133.16,657.31 L1134.79,657.5 L1136.43,657.68 L1138.09,657.86 L1139.75,658.05 L1141.43,658.23 L1143.11,658.41 L1144.81,658.6 L1146.52,658.78 L1148.25,658.97 L1149.99,659.15 L1151.74,659.34 L1153.51,659.53 L1155.29,659.71 L1157.08,659.9 L1158.9,660.09 L1160.73,660.29 L1162.58,660.48 L1164.44,660.68 L1166.32,660.87 L1168.22,661.07 L1170.15,661.28 L1172.09,661.48 L1174.05,661.69 L1176.03,661.89 L1178.03,662.11 L1180.05,662.32 L1182.1,662.54 L1184.17,662.75 L1186.26,662.98 L1188.38,663.2 L1190.52,663.43 L1192.68,663.66 L1194.87,663.9 L1197.09,664.14 L1199.33,664.38 L1201.6,664.63 L1203.89,664.88 L1206.22,665.13 L1208.57,665.39 L1210.95,665.66 L1213.36,665.92 L1215.8,666.2 L1218.27,666.47 L1220.77,666.75 L1223.3,667.04 L1225.87,667.33 L1228.46,667.63 L1231.09,667.93 L1233.76,668.24 L1236.45,668.55 L1239.18,668.87 L1241.95,669.2 L1244.75,669.53 L1247.59,669.86 L1250.46,670.21 L1253.37,670.55 L1256.32,670.91 L1259.3,671.27 L1262.33,671.64 L1265.39,672.02 L1268.49,672.4 L1271.63,672.79 L1274.82,673.18 L1278.04,673.59 L1281.3,674 L1284.61,674.41 L1287.96,674.84 L1291.35,675.27 L1294.79,675.71 L1298.27,676.16 L1301.79,676.62 L1305.36,677.08 L1308.98,677.56 L1312.64,678.04 L1316.34,678.53 L1320.1,679.03 L1323.9,679.54 L1327.75,680.05" fill="none" stroke="#4BBDB3" stroke-width="3" stroke-dasharray="13.6 18" stroke-linecap="round" stroke-dashoffset="2.0"/>
<path d="M812.5,542.2 L813.78,544.11 L815.05,545.98 L816.3,547.8 L817.54,549.59 L818.76,551.34 L819.96,553.05 L821.15,554.72 L822.33,556.35 L823.49,557.95 L824.63,559.51 L825.76,561.03 L826.88,562.52 L827.98,563.97 L829.07,565.39 L830.14,566.77 L831.21,568.12 L832.25,569.43 L833.29,570.71 L834.31,571.96 L835.32,573.18 L836.31,574.36 L837.29,575.52 L838.26,576.64 L839.22,577.73 L840.17,578.8 L841.1,579.83 L842.02,580.84 L842.93,581.82 L843.83,582.77 L844.72,583.69 L845.6,584.59 L846.46,585.46 L847.32,586.3 L848.16,587.12 L848.99,587.92 L849.82,588.69 L850.63,589.43 L851.43,590.16 L852.23,590.86 L853.01,591.53 L853.79,592.19 L854.55,592.83 L855.31,593.44 L856.05,594.03 L856.79,594.61 L857.52,595.16 L858.24,595.7 L858.96,596.22 L859.66,596.72 L860.36,597.2 L861.05,597.66 L861.73,598.11 L862.41,598.55 L863.07,598.96 L863.73,599.37 L864.39,599.75 L865.03,600.13 L865.68,600.49 L866.31,600.84 L866.94,601.17 L867.56,601.49 L868.17,601.8 L868.78,602.1 L869.39,602.39 L869.99,602.67 L870.58,602.94 L871.17,603.2 L871.75,603.46 L872.33,603.7 L872.91,603.94 L873.48,604.16 L874.05,604.39 L874.61,604.6 L875.17,604.81 L875.72,605.02 L876.27,605.22 L876.82,605.41 L877.36,605.61 L877.91,605.8 L878.45,605.98 L878.98,606.17 L879.52,606.35 L880.05,606.53 L880.58,606.7 L881.1,606.88 L881.63,607.05 L882.15,607.22 L882.67,607.39 L883.2,607.55 L883.72,607.72 L884.23,607.88 L884.75,608.04 L885.27,608.2 L885.79,608.36 L886.3,608.51 L886.82,608.66 L887.34,608.81 L887.85,608.96 L888.37,609.11 L888.89,609.26 L889.41,609.4 L889.93,609.55 L890.45,609.69 L890.97,609.83 L891.49,609.97 L892.02,610.11 L892.54,610.24 L893.07,610.38 L893.6,610.51 L894.13,610.64 L894.67,610.78 L895.21,610.91 L895.75,611.04 L896.29,611.17 L896.83,611.29 L897.38,611.42 L897.94,611.55 L898.49,611.67 L899.05,611.8 L899.62,611.92 L900.19,612.04 L900.76,612.17 L901.34,612.29 L901.92,612.41 L902.5,612.53 L903.1,612.65 L903.69,612.77 L904.29,612.89 L904.9,613.01 L905.51,613.13 L906.13,613.25 L906.76,613.37 L907.39,613.49 L908.02,613.61 L908.67,613.72 L909.32,613.84 L909.97,613.96 L910.64,614.08 L911.31,614.2 L911.99,614.32 L912.67,614.44 L913.37,614.56 L914.07,614.68 L914.78,614.8 L915.49,614.92 L916.22,615.04 L916.95,615.16 L917.7,615.28 L918.45,615.4 L919.21,615.53 L919.98,615.65 L920.76,615.77 L921.54,615.9 L922.34,616.02 L923.15,616.15 L923.97,616.28 L924.8,616.41 L925.64,616.54 L926.49,616.67 L927.35,616.8 L928.22,616.93 L929.1,617.06 L929.99,617.2 L930.89,617.33 L931.8,617.47 L932.72,617.61 L933.66,617.75 L934.6,617.88 L935.55,618.02 L936.51,618.16 L937.48,618.31 L938.46,618.45 L939.45,618.59 L940.45,618.74 L941.45,618.88 L942.47,619.02 L943.49,619.17 L944.53,619.32 L945.57,619.46 L946.62,619.61 L947.67,619.76 L948.74,619.91 L949.81,620.06 L950.89,620.21 L951.98,620.36 L953.07,620.51 L954.17,620.66 L955.28,620.81 L956.4,620.96 L957.52,621.11 L958.65,621.27 L959.79,621.42 L960.93,621.57 L962.08,621.72 L963.24,621.88 L964.4,622.03 L965.56,622.18 L966.74,622.34 L967.92,622.49 L969.1,622.64 L970.29,622.8 L971.48,622.95 L972.68,623.11 L973.89,623.26 L975.09,623.41 L976.31,623.57 L977.53,623.72 L978.75,623.87 L979.98,624.03 L981.21,624.18 L982.44,624.33 L983.68,624.49 L984.92,624.64 L986.17,624.79 L987.42,624.94 L988.67,625.09 L989.93,625.24 L991.19,625.4 L992.45,625.55 L993.71,625.7 L994.98,625.84 L996.25,625.99 L997.52,626.14 L998.8,626.29 L1000.07,626.44 L1001.35,626.58 L1002.63,626.73 L1003.91,626.88 L1005.2,627.02 L1006.48,627.17 L1007.77,627.31 L1009.05,627.45 L1010.34,627.59 L1011.63,627.73 L1012.92,627.88 L1014.21,628.01 L1015.5,628.15 L1016.79,628.29 L1018.08,628.43 L1019.37,628.56 L1020.67,628.7 L1021.96,628.83 L1023.25,628.97 L1024.54,629.1 L1025.83,629.23 L1027.13,629.36 L1028.42,629.49 L1029.72,629.62 L1031.01,629.75 L1032.31,629.88 L1033.61,630.01 L1034.9,630.13 L1036.2,630.26 L1037.51,630.39 L1038.81,630.51 L1040.11,630.64 L1041.42,630.76 L1042.73,630.89 L1044.04,631.01 L1045.35,631.14 L1046.66,631.26 L1047.98,631.38 L1049.3,631.51 L1050.62,631.63 L1051.94,631.75 L1053.27,631.87 L1054.6,632 L1055.93,632.12 L1057.26,632.24 L1058.6,632.36 L1059.94,632.49 L1061.28,632.61 L1062.63,632.73 L1063.98,632.86 L1065.33,632.98 L1066.69,633.1 L1068.05,633.23 L1069.42,633.35 L1070.79,633.48 L1072.16,633.6 L1073.54,633.73 L1074.92,633.85 L1076.3,633.98 L1077.69,634.1 L1079.09,634.23 L1080.49,634.36 L1081.89,634.49 L1083.3,634.61 L1084.71,634.74 L1086.13,634.87 L1087.56,635.01 L1088.98,635.14 L1090.42,635.27 L1091.86,635.4 L1093.3,635.54 L1094.75,635.67 L1096.21,635.81 L1097.67,635.94 L1099.14,636.08 L1100.62,636.22 L1102.1,636.36 L1103.58,636.5 L1105.08,636.64 L1106.58,636.79 L1108.08,636.93 L1109.6,637.08 L1111.12,637.22 L1112.64,637.37 L1114.18,637.52 L1115.72,637.67 L1117.26,637.82 L1118.82,637.98 L1120.38,638.13 L1121.95,638.29 L1123.53,638.45 L1125.11,638.61 L1126.71,638.77 L1128.31,638.93 L1129.91,639.09 L1131.53,639.26 L1133.16,639.43 L1134.79,639.6 L1136.43,639.77 L1138.09,639.94 L1139.75,640.12 L1141.43,640.29 L1143.11,640.47 L1144.81,640.65 L1146.52,640.84 L1148.25,641.02 L1149.99,641.21 L1151.74,641.4 L1153.51,641.59 L1155.29,641.79 L1157.08,641.98 L1158.9,642.18 L1160.73,642.38 L1162.58,642.59 L1164.44,642.79 L1166.32,643 L1168.22,643.22 L1170.15,643.43 L1172.09,643.65 L1174.05,643.87 L1176.03,644.09 L1178.03,644.32 L1180.05,644.55 L1182.1,644.78 L1184.17,645.01 L1186.26,645.25 L1188.38,645.49 L1190.52,645.74 L1192.68,645.98 L1194.87,646.24 L1197.09,646.49 L1199.33,646.75 L1201.6,647.01 L1203.89,647.27 L1206.22,647.54 L1208.57,647.81 L1210.95,648.09 L1213.36,648.37 L1215.8,648.65 L1218.27,648.94 L1220.77,649.23 L1223.3,649.52 L1225.87,649.82 L1228.46,650.12 L1231.09,650.43 L1233.76,650.74 L1236.45,651.05 L1239.18,651.37 L1241.95,651.69 L1244.75,652.02 L1247.59,652.35 L1250.46,652.68 L1253.37,653.02 L1256.32,653.37 L1259.3,653.72 L1262.33,654.07 L1265.39,654.43 L1268.49,654.79 L1271.63,655.15 L1274.82,655.53 L1278.04,655.9 L1281.3,656.28 L1284.61,656.67 L1287.96,657.06 L1291.35,657.46 L1294.79,657.86 L1298.27,658.26 L1301.79,658.67 L1305.36,659.09 L1308.98,659.51 L1312.64,659.94 L1316.34,660.37 L1320.1,660.81 L1323.9,661.25 L1327.75,661.7" fill="none" stroke="#BED62F" stroke-width="3" stroke-dasharray="13.6 18" stroke-linecap="round" stroke-dashoffset="-1.2"/>
<polygon points="812.5,530.4 823.3,542.2 812.5,554 801.7,542.2" fill="#F48495"/>
<path d="M846.85,658.7 V688.67 M841.85,658.7 H851.85 M841.85,688.67 H851.85" stroke="#F48495" stroke-width="2.6" fill="none"/>
<polygon points="846.85,661.88 857.65,673.68 846.85,685.48 836.05,673.68" fill="#F48495"/>
<path d="M881.2,679.3 V709.27 M876.2,679.3 H886.2 M876.2,709.27 H886.2" stroke="#F48495" stroke-width="2.6" fill="none"/>
<polygon points="881.2,682.49 892,694.29 881.2,706.09 870.4,694.29" fill="#F48495"/>
<path d="M915.55,716.76 V739.24 M910.55,716.76 H920.55 M910.55,739.24 H920.55" stroke="#F48495" stroke-width="2.6" fill="none"/>
<polygon points="915.55,716.2 926.35,728 915.55,739.8 904.75,728" fill="#F48495"/>
<path d="M1018.6,781.19 V788.69 M1013.6,781.19 H1023.6 M1013.6,788.69 H1023.6" stroke="#F48495" stroke-width="2.6" fill="none"/>
<polygon points="1018.6,773.14 1029.4,784.94 1018.6,796.74 1007.8,784.94" fill="#F48495"/>
<path d="M1121.65,825.77 V833.26 M1116.65,825.77 H1126.65 M1116.65,833.26 H1126.65" stroke="#F48495" stroke-width="2.6" fill="none"/>
<polygon points="1121.65,817.72 1132.45,829.52 1121.65,841.32 1110.85,829.52" fill="#F48495"/>
<path d="M1224.7,846.38 V853.87 M1219.7,846.38 H1229.7 M1219.7,853.87 H1229.7" stroke="#F48495" stroke-width="2.6" fill="none"/>
<polygon points="1224.7,838.32 1235.5,850.12 1224.7,861.92 1213.9,850.12" fill="#F48495"/>
<path d="M1327.75,859.86 V867.35 M1322.75,859.86 H1332.75 M1322.75,867.35 H1332.75" stroke="#F48495" stroke-width="2.6" fill="none"/>
<polygon points="1327.75,851.81 1338.55,863.61 1327.75,875.41 1316.95,863.61" fill="#F48495"/>
<rect x="804.6" y="534.3" width="15.8" height="15.8" fill="#4BB5E4"/>
<path d="M846.85,641.09 V684.55 M841.85,641.09 H851.85 M841.85,684.55 H851.85" stroke="#4BB5E4" stroke-width="2.6" fill="none"/>
<rect x="838.95" y="654.92" width="15.8" height="15.8" fill="#4BB5E4"/>
<path d="M881.2,682.67 V727.63 M876.2,682.67 H886.2 M876.2,727.63 H886.2" stroke="#4BB5E4" stroke-width="2.6" fill="none"/>
<rect x="873.3" y="697.25" width="15.8" height="15.8" fill="#4BB5E4"/>
<path d="M915.55,720.88 V773.33 M910.55,720.88 H920.55 M910.55,773.33 H920.55" stroke="#4BB5E4" stroke-width="2.6" fill="none"/>
<rect x="907.65" y="739.21" width="15.8" height="15.8" fill="#4BB5E4"/>
<path d="M1018.6,776.32 V818.28 M1013.6,776.32 H1023.6 M1013.6,818.28 H1023.6" stroke="#4BB5E4" stroke-width="2.6" fill="none"/>
<rect x="1010.7" y="789.4" width="15.8" height="15.8" fill="#4BB5E4"/>
<path d="M1121.65,816.41 V823.9 M1116.65,816.41 H1126.65 M1116.65,823.9 H1126.65" stroke="#4BB5E4" stroke-width="2.6" fill="none"/>
<rect x="1113.75" y="812.25" width="15.8" height="15.8" fill="#4BB5E4"/>
<path d="M1224.7,827.27 V834.76 M1219.7,827.27 H1229.7 M1219.7,834.76 H1229.7" stroke="#4BB5E4" stroke-width="2.6" fill="none"/>
<rect x="1216.8" y="823.12" width="15.8" height="15.8" fill="#4BB5E4"/>
<path d="M1327.75,828.02 V853.49 M1322.75,828.02 H1332.75 M1322.75,853.49 H1332.75" stroke="#4BB5E4" stroke-width="2.6" fill="none"/>
<rect x="1319.85" y="832.86" width="15.8" height="15.8" fill="#4BB5E4"/>
<polygon points="812.5,554.7 801.9,535.4 823.1,535.4" fill="#4BBDB3"/>
<path d="M846.85,570.29 V611.5 M841.85,570.29 H851.85 M841.85,611.5 H851.85" stroke="#4BBDB3" stroke-width="2.6" fill="none"/>
<polygon points="846.85,603.4 836.25,584.1 857.45,584.1" fill="#4BBDB3"/>
<path d="M881.2,590.9 V628.36 M876.2,590.9 H886.2 M876.2,628.36 H886.2" stroke="#4BBDB3" stroke-width="2.6" fill="none"/>
<polygon points="881.2,622.13 870.6,602.83 891.8,602.83" fill="#4BBDB3"/>
<path d="M915.55,605.88 V643.34 M910.55,605.88 H920.55 M910.55,643.34 H920.55" stroke="#4BBDB3" stroke-width="2.6" fill="none"/>
<polygon points="915.55,637.11 904.95,617.81 926.15,617.81" fill="#4BBDB3"/>
<path d="M1018.6,620.87 V661.32 M1013.6,620.87 H1023.6 M1013.6,661.32 H1023.6" stroke="#4BBDB3" stroke-width="2.6" fill="none"/>
<polygon points="1018.6,653.59 1008,634.29 1029.2,634.29" fill="#4BBDB3"/>
<path d="M1121.65,628.73 V686.42 M1116.65,628.73 H1126.65 M1116.65,686.42 H1126.65" stroke="#4BBDB3" stroke-width="2.6" fill="none"/>
<polygon points="1121.65,670.08 1111.05,650.78 1132.25,650.78" fill="#4BBDB3"/>
<path d="M1224.7,638.1 V694.29 M1219.7,638.1 H1229.7 M1219.7,694.29 H1229.7" stroke="#4BBDB3" stroke-width="2.6" fill="none"/>
<polygon points="1224.7,678.69 1214.1,659.39 1235.3,659.39" fill="#4BBDB3"/>
<path d="M1327.75,651.96 V708.15 M1322.75,651.96 H1332.75 M1322.75,708.15 H1332.75" stroke="#4BBDB3" stroke-width="2.6" fill="none"/>
<polygon points="1327.75,692.55 1317.15,673.25 1338.35,673.25" fill="#4BBDB3"/>
<polygon points="812.5,532.3 821.92,539.14 818.32,550.21 806.68,550.21 803.08,539.14" fill="#FC9A73"/>
<path d="M846.85,587.53 V610 M841.85,587.53 H851.85 M841.85,610 H851.85" stroke="#FC9A73" stroke-width="2.6" fill="none"/>
<polygon points="846.85,588.86 856.27,595.71 852.67,606.77 841.03,606.77 837.43,595.71" fill="#FC9A73"/>
<path d="M881.2,587.53 V643.72 M876.2,587.53 H886.2 M876.2,643.72 H886.2" stroke="#FC9A73" stroke-width="2.6" fill="none"/>
<polygon points="881.2,605.72 890.62,612.56 887.02,623.63 875.38,623.63 871.78,612.56" fill="#FC9A73"/>
<path d="M915.55,607.75 V652.71 M910.55,607.75 H920.55 M910.55,652.71 H920.55" stroke="#FC9A73" stroke-width="2.6" fill="none"/>
<polygon points="915.55,620.33 924.97,627.17 921.37,638.24 909.73,638.24 906.13,627.17" fill="#FC9A73"/>
<path d="M1018.6,643.34 V658.33 M1013.6,643.34 H1023.6 M1013.6,658.33 H1023.6" stroke="#FC9A73" stroke-width="2.6" fill="none"/>
<polygon points="1018.6,640.93 1028.02,647.77 1024.42,658.84 1012.78,658.84 1009.18,647.77" fill="#FC9A73"/>
<path d="M1121.65,650.83 V665.82 M1116.65,650.83 H1126.65 M1116.65,665.82 H1126.65" stroke="#FC9A73" stroke-width="2.6" fill="none"/>
<polygon points="1121.65,648.43 1131.07,655.27 1127.47,666.34 1115.83,666.34 1112.23,655.27" fill="#FC9A73"/>
<path d="M1224.7,644.84 V659.82 M1219.7,644.84 H1229.7 M1219.7,659.82 H1229.7" stroke="#FC9A73" stroke-width="2.6" fill="none"/>
<polygon points="1224.7,642.43 1234.12,649.27 1230.52,660.34 1218.88,660.34 1215.28,649.27" fill="#FC9A73"/>
<path d="M1327.75,650.46 V665.44 M1322.75,650.46 H1332.75 M1322.75,665.44 H1332.75" stroke="#FC9A73" stroke-width="2.6" fill="none"/>
<polygon points="1327.75,648.05 1337.17,654.89 1333.57,665.96 1321.93,665.96 1318.33,654.89" fill="#FC9A73"/>
<polygon points="824.7,542.2 805.7,531.6 805.7,552.8" fill="#BED62F"/>
<path d="M846.85,570.67 V616.37 M841.85,570.67 H851.85 M841.85,616.37 H851.85" stroke="#BED62F" stroke-width="2.6" fill="none"/>
<polygon points="859.05,593.52 840.05,582.92 840.05,604.12" fill="#BED62F"/>
<path d="M881.2,586.03 V630.98 M876.2,586.03 H886.2 M876.2,630.98 H886.2" stroke="#BED62F" stroke-width="2.6" fill="none"/>
<polygon points="893.4,608.5 874.4,597.9 874.4,619.1" fill="#BED62F"/>
<path d="M915.55,593.89 V637.35 M910.55,593.89 H920.55 M910.55,637.35 H920.55" stroke="#BED62F" stroke-width="2.6" fill="none"/>
<polygon points="927.75,615.62 908.75,605.02 908.75,626.22" fill="#BED62F"/>
<path d="M1018.6,616.37 V642.59 M1013.6,616.37 H1023.6 M1013.6,642.59 H1023.6" stroke="#BED62F" stroke-width="2.6" fill="none"/>
<polygon points="1030.8,629.48 1011.8,618.88 1011.8,640.08" fill="#BED62F"/>
<path d="M1121.65,615.62 V659.08 M1116.65,615.62 H1126.65 M1116.65,659.08 H1126.65" stroke="#BED62F" stroke-width="2.6" fill="none"/>
<polygon points="1133.85,637.35 1114.85,626.75 1114.85,647.95" fill="#BED62F"/>
<path d="M1224.7,618.62 V680.8 M1219.7,618.62 H1229.7 M1219.7,680.8 H1229.7" stroke="#BED62F" stroke-width="2.6" fill="none"/>
<polygon points="1236.9,649.71 1217.9,639.11 1217.9,660.31" fill="#BED62F"/>
<path d="M1327.75,635.85 V687.54 M1322.75,635.85 H1332.75 M1322.75,687.54 H1332.75" stroke="#BED62F" stroke-width="2.6" fill="none"/>
<polygon points="1339.95,661.7 1320.95,651.1 1320.95,672.3" fill="#BED62F"/>
<path d="M793.5,523.4 H1343.1 V936.2 H793.5 Z" fill="none" stroke="#000" stroke-width="3.3" stroke-linejoin="miter"/>
<path d="M812.5,936.2 V928.6 M846.85,936.2 V932.6 M881.2,936.2 V932.6 M915.55,936.2 V928.6 M949.9,936.2 V932.6 M984.25,936.2 V932.6 M1018.6,936.2 V928.6 M1052.95,936.2 V932.6 M1087.3,936.2 V932.6 M1121.65,936.2 V928.6 M1156,936.2 V932.6 M1190.35,936.2 V932.6 M1224.7,936.2 V928.6 M1259.05,936.2 V932.6 M1293.4,936.2 V932.6 M1327.75,936.2 V928.6 M793.5,916.8 H801.1 M793.5,879.34 H797.1 M793.5,841.88 H801.1 M793.5,804.42 H797.1 M793.5,766.96 H801.1 M793.5,729.5 H797.1 M793.5,692.04 H801.1 M793.5,654.58 H797.1 M793.5,617.12 H801.1 M793.5,579.66 H797.1 M793.5,542.2 H801.1" stroke="#000" stroke-width="3" fill="none"/>
<text transform="translate(812.5,971.2) scale(0.95,1)" font-size="35" text-anchor="middle">0</text>
<text transform="translate(915.55,971.2) scale(0.95,1)" font-size="35" text-anchor="middle">3</text>
<text transform="translate(1018.6,971.2) scale(0.95,1)" font-size="35" text-anchor="middle">6</text>
<text transform="translate(1121.65,971.2) scale(0.95,1)" font-size="35" text-anchor="middle">9</text>
<text transform="translate(1224.7,971.2) scale(0.95,1)" font-size="35" text-anchor="middle">12</text>
<text transform="translate(1327.75,971.2) scale(0.95,1)" font-size="35" text-anchor="middle">15</text>
<text transform="translate(784.6,927.3) scale(0.95,1)" font-size="35" text-anchor="end">0.0</text>
<text transform="translate(784.6,852.38) scale(0.95,1)" font-size="35" text-anchor="end">0.2</text>
<text transform="translate(784.6,777.46) scale(0.95,1)" font-size="35" text-anchor="end">0.4</text>
<text transform="translate(784.6,702.54) scale(0.95,1)" font-size="35" text-anchor="end">0.6</text>
<text transform="translate(784.6,627.62) scale(0.95,1)" font-size="35" text-anchor="end">0.8</text>
<text transform="translate(784.6,552.7) scale(0.95,1)" font-size="35" text-anchor="end">1.0</text>
<text x="988.7" y="1005.4" font-size="38">Time (min)</text>
<g transform="translate(718.9,769.5) rotate(-90)"><text x="0" y="0" font-size="37" font-style="italic">C/C<tspan font-size="26" dx="1" dy="10">0</tspan></text></g>
<text x="685.8" y="550.8" font-size="55">d</text>
<path d="M820.8,861.2 H833.8 M850.3,861.2 H865.5" stroke="#BED62F" stroke-width="3" stroke-linecap="round"/>
<polygon points="858.1,861.2 839.8,850.7 839.8,871.7" fill="#BED62F"/>
<text x="879" y="868.5" font-size="28">pH=5</text>
<path d="M952.7,861.2 H965.7 M982.2,861.2 H996.5" stroke="#4BBDB3" stroke-width="3" stroke-linecap="round"/>
<polygon points="977.7,873.7 967.1,854.4 988.3,854.4" fill="#4BBDB3"/>
<text x="1010.8" y="868.5" font-size="28">pH=6</text>
<path d="M820.8,894.9 H833.8 M850.3,894.9 H865.5" stroke="#F48495" stroke-width="3" stroke-linecap="round"/>
<polygon points="846.1,883.1 856.9,894.9 846.1,906.7 835.3,894.9" fill="#F48495"/>
<text x="879" y="902.2" font-size="28">pH=7</text>
<path d="M952.7,894.9 H965.7 M982.2,894.9 H996.5" stroke="#4BB5E4" stroke-width="3" stroke-linecap="round"/>
<rect x="969.8" y="887" width="15.8" height="15.8" fill="#4BB5E4"/>
<text x="1010.8" y="902.2" font-size="28">pH=8</text>
<path d="M1083.7,894.9 H1096.7 M1113.2,894.9 H1128.1" stroke="#FC9A73" stroke-width="3" stroke-linecap="round"/>
<polygon points="1108.7,885 1118.12,891.84 1114.52,902.91 1102.88,902.91 1099.28,891.84" fill="#FC9A73"/>
<text x="1141.8" y="902.2" font-size="28">pH=9</text>
</svg></body></html>
